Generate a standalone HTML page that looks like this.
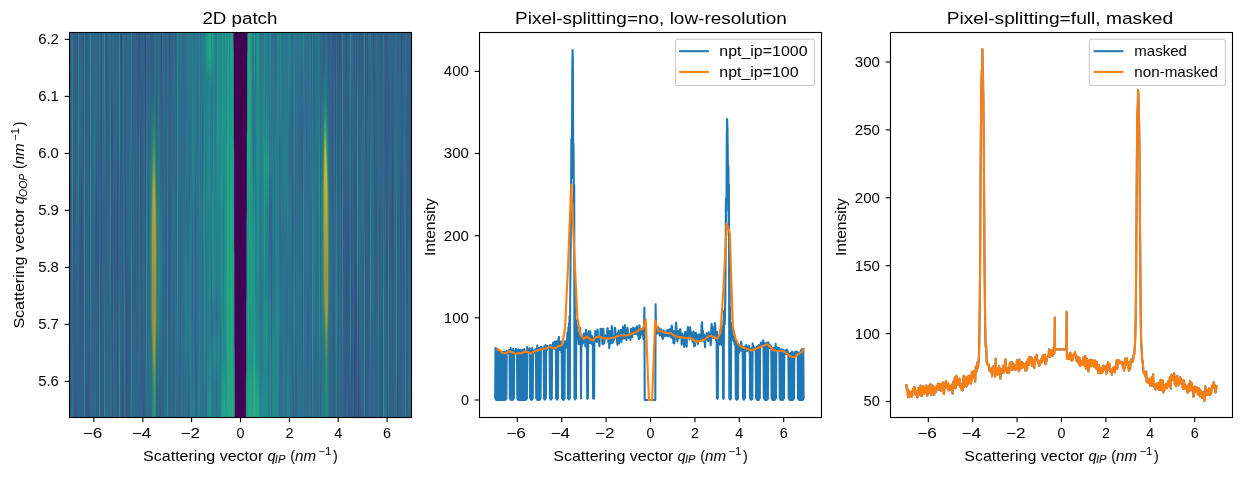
<!DOCTYPE html>
<html lang="en"><head><meta charset="utf-8"><title>GIWAXS patch integration</title>
<style>html,body{margin:0;padding:0;background:#fff}svg{display:block;will-change:transform}</style></head>
<body>
<svg width="1241" height="478" viewBox="0 0 1241 478" font-family='"Liberation Sans", sans-serif' fill="#000">
<rect width="1241" height="478" fill="#fff"/>
<defs>
<linearGradient id="h0" x1="0" y1="0" x2="0" y2="1"><stop offset="0.006" stop-color="#2e6b8c"/><stop offset="0.276" stop-color="#325f89"/><stop offset="0.994" stop-color="#30678c"/></linearGradient>
<linearGradient id="h1" x1="0" y1="0" x2="0" y2="1"><stop offset="0.006" stop-color="#2f698c"/><stop offset="0.622" stop-color="#315e87"/><stop offset="0.994" stop-color="#30678c"/></linearGradient>
<linearGradient id="h2" x1="0" y1="0" x2="0" y2="1"><stop offset="0.006" stop-color="#2d6e8b"/><stop offset="0.276" stop-color="#278b89"/><stop offset="0.468" stop-color="#278b89"/><stop offset="0.660" stop-color="#2d6f89"/><stop offset="0.776" stop-color="#2f688a"/><stop offset="0.994" stop-color="#2b7a89"/></linearGradient>
<linearGradient id="h3" x1="0" y1="0" x2="0" y2="1"><stop offset="0.006" stop-color="#306287"/><stop offset="0.237" stop-color="#32638d"/><stop offset="0.660" stop-color="#335d88"/><stop offset="0.994" stop-color="#2e6b8c"/></linearGradient>
<linearGradient id="h4" x1="0" y1="0" x2="0" y2="1"><stop offset="0.006" stop-color="#325d86"/><stop offset="0.314" stop-color="#31658c"/><stop offset="0.660" stop-color="#325984"/><stop offset="0.994" stop-color="#325d86"/></linearGradient>
<linearGradient id="h5" x1="0" y1="0" x2="0" y2="1"><stop offset="0.006" stop-color="#326089"/><stop offset="0.276" stop-color="#394f8a"/><stop offset="0.763" stop-color="#306387"/><stop offset="0.994" stop-color="#394f89"/></linearGradient>
<linearGradient id="h6" x1="0" y1="0" x2="0" y2="1"><stop offset="0.006" stop-color="#335c87"/><stop offset="0.340" stop-color="#2f6a8d"/><stop offset="0.994" stop-color="#326189"/></linearGradient>
<linearGradient id="h7" x1="0" y1="0" x2="0" y2="1"><stop offset="0.006" stop-color="#355283"/><stop offset="0.301" stop-color="#2e6e8d"/><stop offset="0.571" stop-color="#30678c"/><stop offset="0.673" stop-color="#2e6c8b"/><stop offset="0.994" stop-color="#315f87"/></linearGradient>
<linearGradient id="h8" x1="0" y1="0" x2="0" y2="1"><stop offset="0.006" stop-color="#298287"/><stop offset="0.263" stop-color="#2a7e8a"/><stop offset="0.506" stop-color="#2f6a87"/><stop offset="0.994" stop-color="#306488"/></linearGradient>
<linearGradient id="h9" x1="0" y1="0" x2="0" y2="1"><stop offset="0.006" stop-color="#335f8b"/><stop offset="0.263" stop-color="#2f698b"/><stop offset="0.494" stop-color="#335884"/><stop offset="0.994" stop-color="#325e87"/></linearGradient>
<linearGradient id="h10" x1="0" y1="0" x2="0" y2="1"><stop offset="0.006" stop-color="#31658b"/><stop offset="0.340" stop-color="#2c6e87"/><stop offset="0.506" stop-color="#325983"/><stop offset="0.647" stop-color="#345886"/><stop offset="0.840" stop-color="#335c88"/><stop offset="0.994" stop-color="#2e6989"/></linearGradient>
<linearGradient id="h11" x1="0" y1="0" x2="0" y2="1"><stop offset="0.006" stop-color="#316389"/><stop offset="0.250" stop-color="#306186"/><stop offset="0.506" stop-color="#38457c"/><stop offset="0.724" stop-color="#355888"/><stop offset="0.994" stop-color="#31648a"/></linearGradient>
<linearGradient id="h12" x1="0" y1="0" x2="0" y2="1"><stop offset="0.006" stop-color="#325c86"/><stop offset="0.340" stop-color="#335f8a"/><stop offset="0.712" stop-color="#355787"/><stop offset="0.994" stop-color="#30658a"/></linearGradient>
<linearGradient id="h13" x1="0" y1="0" x2="0" y2="1"><stop offset="0.006" stop-color="#355183"/><stop offset="0.481" stop-color="#31658b"/><stop offset="0.994" stop-color="#355b8a"/></linearGradient>
<linearGradient id="h14" x1="0" y1="0" x2="0" y2="1"><stop offset="0.006" stop-color="#297f87"/><stop offset="0.442" stop-color="#268e88"/><stop offset="0.994" stop-color="#268a87"/></linearGradient>
<linearGradient id="h15" x1="0" y1="0" x2="0" y2="1"><stop offset="0.006" stop-color="#335e89"/><stop offset="0.519" stop-color="#345382"/><stop offset="0.686" stop-color="#325e88"/><stop offset="0.994" stop-color="#316289"/></linearGradient>
<linearGradient id="h16" x1="0" y1="0" x2="0" y2="1"><stop offset="0.006" stop-color="#335b87"/><stop offset="0.660" stop-color="#31658b"/><stop offset="0.994" stop-color="#345c89"/></linearGradient>
<linearGradient id="h17" x1="0" y1="0" x2="0" y2="1"><stop offset="0.006" stop-color="#315e86"/><stop offset="0.635" stop-color="#31628a"/><stop offset="0.994" stop-color="#355585"/></linearGradient>
<linearGradient id="h18" x1="0" y1="0" x2="0" y2="1"><stop offset="0.006" stop-color="#2e6586"/><stop offset="0.147" stop-color="#316088"/><stop offset="0.660" stop-color="#30668a"/><stop offset="0.994" stop-color="#365385"/></linearGradient>
<linearGradient id="h19" x1="0" y1="0" x2="0" y2="1"><stop offset="0.006" stop-color="#30678b"/><stop offset="0.481" stop-color="#355788"/><stop offset="0.686" stop-color="#345c89"/><stop offset="0.994" stop-color="#365386"/></linearGradient>
<linearGradient id="h20" x1="0" y1="0" x2="0" y2="1"><stop offset="0.006" stop-color="#28838a"/><stop offset="0.199" stop-color="#249587"/><stop offset="0.506" stop-color="#249488"/><stop offset="0.827" stop-color="#2d6f8a"/><stop offset="0.994" stop-color="#2f6888"/></linearGradient>
<linearGradient id="h21" x1="0" y1="0" x2="0" y2="1"><stop offset="0.006" stop-color="#30698d"/><stop offset="0.288" stop-color="#32628b"/><stop offset="0.712" stop-color="#30698e"/><stop offset="0.994" stop-color="#2f6386"/></linearGradient>
<linearGradient id="h23" x1="0" y1="0" x2="0" y2="1"><stop offset="0.006" stop-color="#325f88"/><stop offset="0.301" stop-color="#2c6f8b"/><stop offset="0.660" stop-color="#326089"/><stop offset="0.994" stop-color="#31658b"/></linearGradient>
<linearGradient id="h24" x1="0" y1="0" x2="0" y2="1"><stop offset="0.006" stop-color="#306489"/><stop offset="0.301" stop-color="#2d708d"/><stop offset="0.660" stop-color="#326189"/><stop offset="0.865" stop-color="#32618b"/><stop offset="0.994" stop-color="#2f6a8c"/></linearGradient>
<linearGradient id="h25" x1="0" y1="0" x2="0" y2="1"><stop offset="0.006" stop-color="#2e6c8b"/><stop offset="0.327" stop-color="#2c6f8a"/><stop offset="0.494" stop-color="#325d87"/><stop offset="0.994" stop-color="#2f6a8b"/></linearGradient>
<linearGradient id="h26" x1="0" y1="0" x2="0" y2="1"><stop offset="0.006" stop-color="#2e6b8b"/><stop offset="0.263" stop-color="#30658a"/><stop offset="0.494" stop-color="#345482"/><stop offset="0.699" stop-color="#325f88"/><stop offset="0.994" stop-color="#316188"/></linearGradient>
<linearGradient id="h27" x1="0" y1="0" x2="0" y2="1"><stop offset="0.006" stop-color="#30698d"/><stop offset="0.647" stop-color="#335b87"/><stop offset="0.994" stop-color="#325f89"/></linearGradient>
<linearGradient id="h28" x1="0" y1="0" x2="0" y2="1"><stop offset="0.006" stop-color="#315d84"/><stop offset="0.276" stop-color="#306488"/><stop offset="0.481" stop-color="#345986"/><stop offset="0.994" stop-color="#345b88"/></linearGradient>
<linearGradient id="h29" x1="0" y1="0" x2="0" y2="1"><stop offset="0.006" stop-color="#2b7987"/><stop offset="0.340" stop-color="#316188"/><stop offset="0.519" stop-color="#2f6a88"/><stop offset="0.827" stop-color="#268d87"/><stop offset="0.994" stop-color="#268d87"/></linearGradient>
<linearGradient id="h30" x1="0" y1="0" x2="0" y2="1"><stop offset="0.006" stop-color="#306389"/><stop offset="0.391" stop-color="#31648b"/><stop offset="0.673" stop-color="#325c87"/><stop offset="0.994" stop-color="#31658c"/></linearGradient>
<linearGradient id="h32" x1="0" y1="0" x2="0" y2="1"><stop offset="0.006" stop-color="#2e6d8d"/><stop offset="0.263" stop-color="#2e6e8e"/><stop offset="0.558" stop-color="#33608b"/><stop offset="0.994" stop-color="#345a87"/></linearGradient>
<linearGradient id="h33" x1="0" y1="0" x2="0" y2="1"><stop offset="0.006" stop-color="#2f688a"/><stop offset="0.776" stop-color="#316187"/><stop offset="0.917" stop-color="#325b85"/><stop offset="0.994" stop-color="#354f7f"/></linearGradient>
<linearGradient id="h34" x1="0" y1="0" x2="0" y2="1"><stop offset="0.006" stop-color="#249286"/><stop offset="0.135" stop-color="#259087"/><stop offset="0.429" stop-color="#316387"/><stop offset="0.532" stop-color="#325e86"/><stop offset="0.904" stop-color="#249287"/><stop offset="0.994" stop-color="#249387"/></linearGradient>
<linearGradient id="h35" x1="0" y1="0" x2="0" y2="1"><stop offset="0.006" stop-color="#335985"/><stop offset="0.288" stop-color="#31658b"/><stop offset="0.994" stop-color="#306187"/></linearGradient>
<linearGradient id="h36" x1="0" y1="0" x2="0" y2="1"><stop offset="0.006" stop-color="#345985"/><stop offset="0.994" stop-color="#2f6487"/></linearGradient>
<linearGradient id="h37" x1="0" y1="0" x2="0" y2="1"><stop offset="0.006" stop-color="#316189"/><stop offset="0.494" stop-color="#325f89"/><stop offset="0.994" stop-color="#2e6a89"/></linearGradient>
<linearGradient id="h38" x1="0" y1="0" x2="0" y2="1"><stop offset="0.006" stop-color="#2f6789"/><stop offset="0.224" stop-color="#326089"/><stop offset="0.994" stop-color="#31668c"/></linearGradient>
<linearGradient id="h39" x1="0" y1="0" x2="0" y2="1"><stop offset="0.006" stop-color="#2f6b8d"/><stop offset="0.404" stop-color="#30668c"/><stop offset="0.660" stop-color="#2b748e"/><stop offset="0.814" stop-color="#32628c"/><stop offset="0.994" stop-color="#335e8a"/></linearGradient>
<linearGradient id="h40" x1="0" y1="0" x2="0" y2="1"><stop offset="0.006" stop-color="#2d718b"/><stop offset="0.237" stop-color="#288589"/><stop offset="0.340" stop-color="#288689"/><stop offset="0.481" stop-color="#278689"/><stop offset="0.776" stop-color="#30688b"/><stop offset="0.994" stop-color="#2d748c"/></linearGradient>
<linearGradient id="h41" x1="0" y1="0" x2="0" y2="1"><stop offset="0.006" stop-color="#335d87"/><stop offset="0.327" stop-color="#354e7e"/><stop offset="0.609" stop-color="#33537f"/><stop offset="0.827" stop-color="#306689"/><stop offset="0.994" stop-color="#2e6a8b"/></linearGradient>
<linearGradient id="h42" x1="0" y1="0" x2="0" y2="1"><stop offset="0.006" stop-color="#31678d"/><stop offset="0.314" stop-color="#345786"/><stop offset="0.994" stop-color="#355788"/></linearGradient>
<linearGradient id="h43" x1="0" y1="0" x2="0" y2="1"><stop offset="0.006" stop-color="#2e6e8e"/><stop offset="0.263" stop-color="#32618b"/><stop offset="0.506" stop-color="#316087"/><stop offset="0.737" stop-color="#2c718c"/><stop offset="0.994" stop-color="#30668b"/></linearGradient>
<linearGradient id="h44" x1="0" y1="0" x2="0" y2="1"><stop offset="0.006" stop-color="#335f8a"/><stop offset="0.365" stop-color="#316489"/><stop offset="0.532" stop-color="#325c86"/><stop offset="0.994" stop-color="#30678c"/></linearGradient>
<linearGradient id="h45" x1="0" y1="0" x2="0" y2="1"><stop offset="0.006" stop-color="#32638b"/><stop offset="0.212" stop-color="#2d6e8c"/><stop offset="0.647" stop-color="#335d88"/><stop offset="0.994" stop-color="#31648b"/></linearGradient>
<linearGradient id="h46" x1="0" y1="0" x2="0" y2="1"><stop offset="0.006" stop-color="#2e6b8c"/><stop offset="0.263" stop-color="#2d6c8a"/><stop offset="0.506" stop-color="#326089"/><stop offset="0.994" stop-color="#30658a"/></linearGradient>
<linearGradient id="h47" x1="0" y1="0" x2="0" y2="1"><stop offset="0.006" stop-color="#315e86"/><stop offset="0.481" stop-color="#364b7e"/><stop offset="0.994" stop-color="#325781"/></linearGradient>
<linearGradient id="h48" x1="0" y1="0" x2="0" y2="1"><stop offset="0.006" stop-color="#2f6a8d"/><stop offset="0.224" stop-color="#2e6a89"/><stop offset="0.455" stop-color="#325e88"/><stop offset="0.737" stop-color="#2f698c"/><stop offset="0.994" stop-color="#2f688a"/></linearGradient>
<linearGradient id="h49" x1="0" y1="0" x2="0" y2="1"><stop offset="0.006" stop-color="#288589"/><stop offset="0.096" stop-color="#258f88"/><stop offset="0.276" stop-color="#258f87"/><stop offset="0.506" stop-color="#2f6889"/><stop offset="0.609" stop-color="#316489"/><stop offset="0.865" stop-color="#268e88"/><stop offset="0.994" stop-color="#259087"/></linearGradient>
<linearGradient id="h50" x1="0" y1="0" x2="0" y2="1"><stop offset="0.006" stop-color="#355686"/><stop offset="0.994" stop-color="#32638c"/></linearGradient>
<linearGradient id="h51" x1="0" y1="0" x2="0" y2="1"><stop offset="0.006" stop-color="#37467a"/><stop offset="0.417" stop-color="#32608a"/><stop offset="0.724" stop-color="#31638a"/><stop offset="0.994" stop-color="#335c86"/></linearGradient>
<linearGradient id="h52" x1="0" y1="0" x2="0" y2="1"><stop offset="0.006" stop-color="#306389"/><stop offset="0.340" stop-color="#31658b"/><stop offset="0.494" stop-color="#325c86"/><stop offset="0.724" stop-color="#316187"/><stop offset="0.994" stop-color="#354f80"/></linearGradient>
<linearGradient id="h53" x1="0" y1="0" x2="0" y2="1"><stop offset="0.006" stop-color="#2d6f8c"/><stop offset="0.673" stop-color="#2f688a"/><stop offset="0.994" stop-color="#355281"/></linearGradient>
<linearGradient id="h54" x1="0" y1="0" x2="0" y2="1"><stop offset="0.006" stop-color="#2b7382"/><stop offset="0.173" stop-color="#2f6785"/><stop offset="0.365" stop-color="#306589"/><stop offset="0.558" stop-color="#2e6d88"/><stop offset="0.673" stop-color="#2a7b87"/><stop offset="0.994" stop-color="#297f85"/></linearGradient>
<linearGradient id="h55" x1="0" y1="0" x2="0" y2="1"><stop offset="0.006" stop-color="#315e85"/><stop offset="0.404" stop-color="#325b85"/><stop offset="0.506" stop-color="#345280"/><stop offset="0.994" stop-color="#2e6b8b"/></linearGradient>
<linearGradient id="h56" x1="0" y1="0" x2="0" y2="1"><stop offset="0.006" stop-color="#325c85"/><stop offset="0.340" stop-color="#2e6c8c"/><stop offset="0.660" stop-color="#345986"/><stop offset="0.994" stop-color="#345180"/></linearGradient>
<linearGradient id="h57" x1="0" y1="0" x2="0" y2="1"><stop offset="0.006" stop-color="#2f698c"/><stop offset="0.506" stop-color="#326189"/><stop offset="0.763" stop-color="#355586"/><stop offset="0.994" stop-color="#325a83"/></linearGradient>
<linearGradient id="h58" x1="0" y1="0" x2="0" y2="1"><stop offset="0.006" stop-color="#2d6f8d"/><stop offset="0.494" stop-color="#2f678b"/><stop offset="0.750" stop-color="#355787"/><stop offset="0.994" stop-color="#325a84"/></linearGradient>
<linearGradient id="h59" x1="0" y1="0" x2="0" y2="1"><stop offset="0.006" stop-color="#2f6789"/><stop offset="0.378" stop-color="#2e6b8c"/><stop offset="0.737" stop-color="#345a88"/><stop offset="0.994" stop-color="#325a84"/></linearGradient>
<linearGradient id="h60" x1="0" y1="0" x2="0" y2="1"><stop offset="0.006" stop-color="#30668b"/><stop offset="0.314" stop-color="#2d6e8c"/><stop offset="0.750" stop-color="#32638c"/><stop offset="0.994" stop-color="#2c6e8a"/></linearGradient>
<linearGradient id="h61" x1="0" y1="0" x2="0" y2="1"><stop offset="0.006" stop-color="#28848a"/><stop offset="0.340" stop-color="#2d6e8b"/><stop offset="0.660" stop-color="#298189"/><stop offset="0.994" stop-color="#297d89"/></linearGradient>
<linearGradient id="h62" x1="0" y1="0" x2="0" y2="1"><stop offset="0.006" stop-color="#32618b"/><stop offset="0.135" stop-color="#345b8b"/><stop offset="0.994" stop-color="#30668b"/></linearGradient>
<linearGradient id="h63" x1="0" y1="0" x2="0" y2="1"><stop offset="0.006" stop-color="#32618b"/><stop offset="0.147" stop-color="#33608b"/><stop offset="0.468" stop-color="#2c728d"/><stop offset="0.737" stop-color="#30688d"/><stop offset="0.994" stop-color="#2e6d8e"/></linearGradient>
<linearGradient id="h64" x1="0" y1="0" x2="0" y2="1"><stop offset="0.006" stop-color="#32648c"/><stop offset="0.673" stop-color="#325c87"/><stop offset="0.994" stop-color="#2e6a8b"/></linearGradient>
<linearGradient id="h65" x1="0" y1="0" x2="0" y2="1"><stop offset="0.006" stop-color="#326089"/><stop offset="0.737" stop-color="#335d89"/><stop offset="0.994" stop-color="#2e6c8d"/></linearGradient>
<linearGradient id="h66" x1="0" y1="0" x2="0" y2="1"><stop offset="0.006" stop-color="#326089"/><stop offset="0.506" stop-color="#2f698c"/><stop offset="0.763" stop-color="#355d8c"/><stop offset="0.994" stop-color="#2f688c"/></linearGradient>
<linearGradient id="h67" x1="0" y1="0" x2="0" y2="1"><stop offset="0.006" stop-color="#32618a"/><stop offset="0.519" stop-color="#325c86"/><stop offset="0.994" stop-color="#306388"/></linearGradient>
<linearGradient id="h68" x1="0" y1="0" x2="0" y2="1"><stop offset="0.006" stop-color="#345683"/><stop offset="0.263" stop-color="#345887"/><stop offset="0.712" stop-color="#2e6a8b"/><stop offset="0.994" stop-color="#2f6789"/></linearGradient>
<linearGradient id="h69" x1="0" y1="0" x2="0" y2="1"><stop offset="0.006" stop-color="#374f83"/><stop offset="0.378" stop-color="#2b7b87"/><stop offset="0.558" stop-color="#2f7088"/><stop offset="0.853" stop-color="#2f6c88"/><stop offset="0.994" stop-color="#306082"/></linearGradient>
<linearGradient id="h70" x1="0" y1="0" x2="0" y2="1"><stop offset="0.006" stop-color="#325d86"/><stop offset="0.468" stop-color="#335985"/><stop offset="0.673" stop-color="#2d6987"/><stop offset="0.801" stop-color="#335e89"/><stop offset="0.994" stop-color="#345e8b"/></linearGradient>
<linearGradient id="h71" x1="0" y1="0" x2="0" y2="1"><stop offset="0.006" stop-color="#316087"/><stop offset="0.699" stop-color="#345684"/><stop offset="0.994" stop-color="#31658b"/></linearGradient>
<linearGradient id="h72" x1="0" y1="0" x2="0" y2="1"><stop offset="0.006" stop-color="#316088"/><stop offset="0.263" stop-color="#345d8a"/><stop offset="0.532" stop-color="#30658a"/><stop offset="0.994" stop-color="#335b87"/></linearGradient>
<linearGradient id="h73" x1="0" y1="0" x2="0" y2="1"><stop offset="0.006" stop-color="#316389"/><stop offset="0.250" stop-color="#32608a"/><stop offset="0.712" stop-color="#2e6b8b"/><stop offset="0.994" stop-color="#355685"/></linearGradient>
<linearGradient id="h74" x1="0" y1="0" x2="0" y2="1"><stop offset="0.006" stop-color="#315e84"/><stop offset="0.314" stop-color="#2e6989"/><stop offset="0.994" stop-color="#325f87"/></linearGradient>
<linearGradient id="h75" x1="0" y1="0" x2="0" y2="1"><stop offset="0.006" stop-color="#394580"/><stop offset="0.263" stop-color="#355889"/><stop offset="0.494" stop-color="#36578a"/><stop offset="0.994" stop-color="#31658b"/></linearGradient>
<linearGradient id="h76" x1="0" y1="0" x2="0" y2="1"><stop offset="0.006" stop-color="#2d7287"/><stop offset="0.186" stop-color="#30678a"/><stop offset="0.519" stop-color="#278b89"/><stop offset="0.737" stop-color="#268c89"/><stop offset="0.994" stop-color="#2e6f8d"/></linearGradient>
<linearGradient id="h77" x1="0" y1="0" x2="0" y2="1"><stop offset="0.006" stop-color="#355988"/><stop offset="0.481" stop-color="#2c738d"/><stop offset="0.660" stop-color="#2e6c8b"/><stop offset="0.994" stop-color="#2e6f8e"/></linearGradient>
<linearGradient id="h78" x1="0" y1="0" x2="0" y2="1"><stop offset="0.006" stop-color="#33608c"/><stop offset="0.378" stop-color="#2d6c8b"/><stop offset="0.494" stop-color="#2f5f81"/><stop offset="0.712" stop-color="#2b7089"/><stop offset="0.994" stop-color="#2f6a8c"/></linearGradient>
<linearGradient id="h79" x1="0" y1="0" x2="0" y2="1"><stop offset="0.006" stop-color="#2e6b89"/><stop offset="0.237" stop-color="#2f6789"/><stop offset="0.545" stop-color="#297385"/><stop offset="0.994" stop-color="#2f688a"/></linearGradient>
<linearGradient id="h80" x1="0" y1="0" x2="0" y2="1"><stop offset="0.006" stop-color="#345684"/><stop offset="0.506" stop-color="#258484"/><stop offset="0.994" stop-color="#2c6b87"/></linearGradient>
<linearGradient id="h81" x1="0" y1="0" x2="0" y2="1"><stop offset="0.006" stop-color="#335985"/><stop offset="0.147" stop-color="#306287"/><stop offset="0.378" stop-color="#258383"/><stop offset="0.506" stop-color="#3a9771"/><stop offset="0.737" stop-color="#3e8c6d"/><stop offset="0.827" stop-color="#28797d"/><stop offset="0.994" stop-color="#2c6983"/></linearGradient>
<linearGradient id="h82" x1="0" y1="0" x2="0" y2="1"><stop offset="0.006" stop-color="#325d87"/><stop offset="0.135" stop-color="#305f85"/><stop offset="0.276" stop-color="#2c7c7b"/><stop offset="0.340" stop-color="#3d896f"/><stop offset="0.404" stop-color="#6a9953"/><stop offset="0.442" stop-color="#819d4a"/><stop offset="0.532" stop-color="#9c9d3c"/><stop offset="0.737" stop-color="#91903f"/><stop offset="0.763" stop-color="#849045"/><stop offset="0.814" stop-color="#528a60"/><stop offset="0.840" stop-color="#41876a"/><stop offset="0.904" stop-color="#2f8178"/><stop offset="0.994" stop-color="#2a827e"/></linearGradient>
<linearGradient id="h83" x1="0" y1="0" x2="0" y2="1"><stop offset="0.006" stop-color="#335c87"/><stop offset="0.122" stop-color="#315d85"/><stop offset="0.212" stop-color="#29737d"/><stop offset="0.263" stop-color="#348172"/><stop offset="0.327" stop-color="#58905d"/><stop offset="0.391" stop-color="#ab9d33"/><stop offset="0.429" stop-color="#c09c34"/><stop offset="0.712" stop-color="#af8539"/><stop offset="0.788" stop-color="#b18f36"/><stop offset="0.801" stop-color="#ad9236"/><stop offset="0.827" stop-color="#96963a"/><stop offset="0.904" stop-color="#459269"/><stop offset="0.994" stop-color="#2b8e7a"/></linearGradient>
<linearGradient id="h84" x1="0" y1="0" x2="0" y2="1"><stop offset="0.006" stop-color="#2e6c8c"/><stop offset="0.135" stop-color="#2c6b87"/><stop offset="0.199" stop-color="#267b81"/><stop offset="0.250" stop-color="#2e8777"/><stop offset="0.327" stop-color="#58985e"/><stop offset="0.391" stop-color="#b2a432"/><stop offset="0.429" stop-color="#c2a133"/><stop offset="0.494" stop-color="#bc9635"/><stop offset="0.712" stop-color="#b08738"/><stop offset="0.814" stop-color="#b79734"/><stop offset="0.853" stop-color="#949b38"/><stop offset="0.904" stop-color="#56985f"/><stop offset="0.994" stop-color="#339475"/></linearGradient>
<linearGradient id="h85" x1="0" y1="0" x2="0" y2="1"><stop offset="0.006" stop-color="#2d6e8c"/><stop offset="0.135" stop-color="#2c6b88"/><stop offset="0.250" stop-color="#277a7f"/><stop offset="0.314" stop-color="#2d8279"/><stop offset="0.353" stop-color="#3b8a6f"/><stop offset="0.455" stop-color="#8b9742"/><stop offset="0.506" stop-color="#a19639"/><stop offset="0.558" stop-color="#a79837"/><stop offset="0.750" stop-color="#a08e3a"/><stop offset="0.776" stop-color="#938f3f"/><stop offset="0.827" stop-color="#638e55"/><stop offset="0.891" stop-color="#398870"/><stop offset="0.994" stop-color="#28837d"/></linearGradient>
<linearGradient id="h86" x1="0" y1="0" x2="0" y2="1"><stop offset="0.006" stop-color="#2e6888"/><stop offset="0.173" stop-color="#2e6383"/><stop offset="0.365" stop-color="#2a727b"/><stop offset="0.417" stop-color="#327b73"/><stop offset="0.506" stop-color="#508460"/><stop offset="0.596" stop-color="#52865f"/><stop offset="0.737" stop-color="#507f60"/><stop offset="0.840" stop-color="#2e6e75"/><stop offset="0.994" stop-color="#2c627c"/></linearGradient>
<linearGradient id="h87" x1="0" y1="0" x2="0" y2="1"><stop offset="0.006" stop-color="#2d6a88"/><stop offset="0.199" stop-color="#2d6885"/><stop offset="0.506" stop-color="#2b7b7a"/><stop offset="0.699" stop-color="#28817d"/><stop offset="0.994" stop-color="#2f6285"/></linearGradient>
<linearGradient id="h88" x1="0" y1="0" x2="0" y2="1"><stop offset="0.006" stop-color="#2e6b8a"/><stop offset="0.737" stop-color="#238689"/><stop offset="0.994" stop-color="#2e698a"/></linearGradient>
<linearGradient id="h89" x1="0" y1="0" x2="0" y2="1"><stop offset="0.006" stop-color="#2f698a"/><stop offset="0.660" stop-color="#277f8d"/><stop offset="0.994" stop-color="#315d85"/></linearGradient>
<linearGradient id="h90" x1="0" y1="0" x2="0" y2="1"><stop offset="0.006" stop-color="#315f87"/><stop offset="0.263" stop-color="#30658a"/><stop offset="0.506" stop-color="#2b758d"/><stop offset="0.737" stop-color="#2a768c"/><stop offset="0.994" stop-color="#325983"/></linearGradient>
<linearGradient id="h91" x1="0" y1="0" x2="0" y2="1"><stop offset="0.006" stop-color="#33507c"/><stop offset="0.224" stop-color="#345684"/><stop offset="0.519" stop-color="#2a748a"/><stop offset="0.994" stop-color="#30688c"/></linearGradient>
<linearGradient id="h92" x1="0" y1="0" x2="0" y2="1"><stop offset="0.006" stop-color="#2d6d8a"/><stop offset="0.237" stop-color="#325e88"/><stop offset="0.583" stop-color="#2e6b8a"/><stop offset="0.994" stop-color="#306286"/></linearGradient>
<linearGradient id="h93" x1="0" y1="0" x2="0" y2="1"><stop offset="0.006" stop-color="#306488"/><stop offset="0.596" stop-color="#2d6c8a"/><stop offset="0.994" stop-color="#2e6687"/></linearGradient>
<linearGradient id="h94" x1="0" y1="0" x2="0" y2="1"><stop offset="0.006" stop-color="#2c6e89"/><stop offset="0.327" stop-color="#2c6f8a"/><stop offset="0.750" stop-color="#31638a"/><stop offset="0.994" stop-color="#2e6a8b"/></linearGradient>
<linearGradient id="h95" x1="0" y1="0" x2="0" y2="1"><stop offset="0.006" stop-color="#306388"/><stop offset="0.763" stop-color="#335d89"/><stop offset="0.994" stop-color="#2d6e8c"/></linearGradient>
<linearGradient id="h96" x1="0" y1="0" x2="0" y2="1"><stop offset="0.006" stop-color="#2f6689"/><stop offset="0.673" stop-color="#306086"/><stop offset="0.994" stop-color="#2c748e"/></linearGradient>
<linearGradient id="h97" x1="0" y1="0" x2="0" y2="1"><stop offset="0.006" stop-color="#2f6889"/><stop offset="0.455" stop-color="#298088"/><stop offset="0.994" stop-color="#24908a"/></linearGradient>
<linearGradient id="h98" x1="0" y1="0" x2="0" y2="1"><stop offset="0.006" stop-color="#2f678a"/><stop offset="0.673" stop-color="#335d89"/><stop offset="0.994" stop-color="#2f6a8d"/></linearGradient>
<linearGradient id="h99" x1="0" y1="0" x2="0" y2="1"><stop offset="0.006" stop-color="#385087"/><stop offset="0.365" stop-color="#33608b"/><stop offset="0.673" stop-color="#37558a"/><stop offset="0.994" stop-color="#345e8c"/></linearGradient>
<linearGradient id="h100" x1="0" y1="0" x2="0" y2="1"><stop offset="0.006" stop-color="#31638b"/><stop offset="0.519" stop-color="#345e8b"/><stop offset="0.994" stop-color="#2d708c"/></linearGradient>
<linearGradient id="h101" x1="0" y1="0" x2="0" y2="1"><stop offset="0.006" stop-color="#335e89"/><stop offset="0.314" stop-color="#30688d"/><stop offset="0.994" stop-color="#2e6a8b"/></linearGradient>
<linearGradient id="h102" x1="0" y1="0" x2="0" y2="1"><stop offset="0.006" stop-color="#31648c"/><stop offset="0.263" stop-color="#32638d"/><stop offset="0.494" stop-color="#2e6d8c"/><stop offset="0.994" stop-color="#2f688b"/></linearGradient>
<linearGradient id="h103" x1="0" y1="0" x2="0" y2="1"><stop offset="0.006" stop-color="#2d6c8a"/><stop offset="0.250" stop-color="#31668c"/><stop offset="0.494" stop-color="#2b738c"/><stop offset="0.763" stop-color="#32618a"/><stop offset="0.994" stop-color="#32618a"/></linearGradient>
<linearGradient id="h104" x1="0" y1="0" x2="0" y2="1"><stop offset="0.006" stop-color="#2c6d88"/><stop offset="0.301" stop-color="#2f678b"/><stop offset="0.635" stop-color="#2c718c"/><stop offset="0.994" stop-color="#31668c"/></linearGradient>
<linearGradient id="h105" x1="0" y1="0" x2="0" y2="1"><stop offset="0.006" stop-color="#306084"/><stop offset="0.250" stop-color="#2d6e8a"/><stop offset="0.994" stop-color="#2c738d"/></linearGradient>
<linearGradient id="h106" x1="0" y1="0" x2="0" y2="1"><stop offset="0.006" stop-color="#2d6d8a"/><stop offset="0.340" stop-color="#326089"/><stop offset="0.712" stop-color="#2d6e8b"/><stop offset="0.994" stop-color="#30698c"/></linearGradient>
<linearGradient id="h107" x1="0" y1="0" x2="0" y2="1"><stop offset="0.006" stop-color="#25858a"/><stop offset="0.237" stop-color="#248d8a"/><stop offset="0.571" stop-color="#258a89"/><stop offset="0.994" stop-color="#306b8d"/></linearGradient>
<linearGradient id="h108" x1="0" y1="0" x2="0" y2="1"><stop offset="0.006" stop-color="#2b728a"/><stop offset="0.994" stop-color="#32648d"/></linearGradient>
<linearGradient id="h109" x1="0" y1="0" x2="0" y2="1"><stop offset="0.006" stop-color="#2e6c8b"/><stop offset="0.263" stop-color="#31668c"/><stop offset="0.506" stop-color="#2d708d"/><stop offset="0.994" stop-color="#30688d"/></linearGradient>
<linearGradient id="h110" x1="0" y1="0" x2="0" y2="1"><stop offset="0.006" stop-color="#297a8d"/><stop offset="0.737" stop-color="#33628c"/><stop offset="0.994" stop-color="#2f6a8c"/></linearGradient>
<linearGradient id="h111" x1="0" y1="0" x2="0" y2="1"><stop offset="0.006" stop-color="#2b768d"/><stop offset="0.314" stop-color="#30688d"/><stop offset="0.994" stop-color="#2c728e"/></linearGradient>
<linearGradient id="h112" x1="0" y1="0" x2="0" y2="1"><stop offset="0.006" stop-color="#2f6a8d"/><stop offset="0.353" stop-color="#30678d"/><stop offset="0.699" stop-color="#2d708e"/><stop offset="0.994" stop-color="#2f6b8e"/></linearGradient>
<linearGradient id="h113" x1="0" y1="0" x2="0" y2="1"><stop offset="0.006" stop-color="#2d708c"/><stop offset="0.250" stop-color="#306b8c"/><stop offset="0.647" stop-color="#2d738b"/><stop offset="0.994" stop-color="#31668c"/></linearGradient>
<linearGradient id="h114" x1="0" y1="0" x2="0" y2="1"><stop offset="0.006" stop-color="#2e6d8c"/><stop offset="0.237" stop-color="#31668e"/><stop offset="0.596" stop-color="#2a778e"/><stop offset="0.994" stop-color="#2d718e"/></linearGradient>
<linearGradient id="h115" x1="0" y1="0" x2="0" y2="1"><stop offset="0.006" stop-color="#2c718d"/><stop offset="0.237" stop-color="#2d708e"/><stop offset="0.673" stop-color="#277e8e"/><stop offset="0.994" stop-color="#31668e"/></linearGradient>
<linearGradient id="h116" x1="0" y1="0" x2="0" y2="1"><stop offset="0.006" stop-color="#2c728e"/><stop offset="0.481" stop-color="#2f6c8e"/><stop offset="0.737" stop-color="#287e8e"/><stop offset="0.994" stop-color="#30698e"/></linearGradient>
<linearGradient id="h117" x1="0" y1="0" x2="0" y2="1"><stop offset="0.006" stop-color="#29798e"/><stop offset="0.250" stop-color="#277f8e"/><stop offset="0.506" stop-color="#2d708e"/><stop offset="0.750" stop-color="#297a8e"/><stop offset="0.994" stop-color="#31668e"/></linearGradient>
<linearGradient id="h118" x1="0" y1="0" x2="0" y2="1"><stop offset="0.006" stop-color="#297a8e"/><stop offset="0.494" stop-color="#2f6c8e"/><stop offset="0.750" stop-color="#287c8e"/><stop offset="0.994" stop-color="#365c8c"/></linearGradient>
<linearGradient id="h119" x1="0" y1="0" x2="0" y2="1"><stop offset="0.006" stop-color="#2a788d"/><stop offset="0.391" stop-color="#2e6c8c"/><stop offset="0.750" stop-color="#277e8e"/><stop offset="0.994" stop-color="#31668d"/></linearGradient>
<linearGradient id="h120" x1="0" y1="0" x2="0" y2="1"><stop offset="0.006" stop-color="#297a8e"/><stop offset="0.327" stop-color="#2b738c"/><stop offset="0.647" stop-color="#27818d"/><stop offset="0.994" stop-color="#297c8d"/></linearGradient>
<linearGradient id="h121" x1="0" y1="0" x2="0" y2="1"><stop offset="0.006" stop-color="#2b748e"/><stop offset="0.250" stop-color="#2d6e8c"/><stop offset="0.545" stop-color="#2a778e"/><stop offset="0.750" stop-color="#2d718e"/><stop offset="0.994" stop-color="#287c8e"/></linearGradient>
<linearGradient id="h122" x1="0" y1="0" x2="0" y2="1"><stop offset="0.006" stop-color="#287c8e"/><stop offset="0.327" stop-color="#24868d"/><stop offset="0.506" stop-color="#2e6e8e"/><stop offset="0.686" stop-color="#33638d"/><stop offset="0.994" stop-color="#277f8e"/></linearGradient>
<linearGradient id="h123" x1="0" y1="0" x2="0" y2="1"><stop offset="0.006" stop-color="#2d718e"/><stop offset="0.301" stop-color="#26828e"/><stop offset="0.660" stop-color="#2e6e8e"/><stop offset="0.994" stop-color="#287b8d"/></linearGradient>
<linearGradient id="h124" x1="0" y1="0" x2="0" y2="1"><stop offset="0.006" stop-color="#2c728d"/><stop offset="0.340" stop-color="#29798d"/><stop offset="0.532" stop-color="#2e6d8d"/><stop offset="0.673" stop-color="#2c728e"/><stop offset="0.763" stop-color="#31678e"/><stop offset="0.994" stop-color="#287d8e"/></linearGradient>
<linearGradient id="h125" x1="0" y1="0" x2="0" y2="1"><stop offset="0.006" stop-color="#2c728e"/><stop offset="0.250" stop-color="#2b758e"/><stop offset="0.506" stop-color="#335e8a"/><stop offset="0.699" stop-color="#365a8c"/><stop offset="0.865" stop-color="#345e8c"/><stop offset="0.994" stop-color="#2f6a8d"/></linearGradient>
<linearGradient id="h126" x1="0" y1="0" x2="0" y2="1"><stop offset="0.006" stop-color="#297a8e"/><stop offset="0.224" stop-color="#2d718e"/><stop offset="0.340" stop-color="#297a8e"/><stop offset="0.532" stop-color="#2e6e8e"/><stop offset="0.994" stop-color="#31668d"/></linearGradient>
<linearGradient id="h127" x1="0" y1="0" x2="0" y2="1"><stop offset="0.006" stop-color="#2c718b"/><stop offset="0.250" stop-color="#30698d"/><stop offset="0.994" stop-color="#2d6f8e"/></linearGradient>
<linearGradient id="h128" x1="0" y1="0" x2="0" y2="1"><stop offset="0.006" stop-color="#2c728e"/><stop offset="0.263" stop-color="#287e8e"/><stop offset="0.763" stop-color="#2d6f8e"/><stop offset="0.994" stop-color="#297b8e"/></linearGradient>
<linearGradient id="h129" x1="0" y1="0" x2="0" y2="1"><stop offset="0.006" stop-color="#28808b"/><stop offset="0.250" stop-color="#26838d"/><stop offset="0.558" stop-color="#2a7a8d"/><stop offset="0.994" stop-color="#26848b"/></linearGradient>
<linearGradient id="h130" x1="0" y1="0" x2="0" y2="1"><stop offset="0.006" stop-color="#2d6e8c"/><stop offset="0.994" stop-color="#2a768b"/></linearGradient>
<linearGradient id="h131" x1="0" y1="0" x2="0" y2="1"><stop offset="0.006" stop-color="#2a788e"/><stop offset="0.340" stop-color="#287d8e"/><stop offset="0.994" stop-color="#2c708c"/></linearGradient>
<linearGradient id="h132" x1="0" y1="0" x2="0" y2="1"><stop offset="0.006" stop-color="#287d8e"/><stop offset="0.250" stop-color="#2f698d"/><stop offset="0.494" stop-color="#2b738d"/><stop offset="0.994" stop-color="#2e6d8d"/></linearGradient>
<linearGradient id="h133" x1="0" y1="0" x2="0" y2="1"><stop offset="0.006" stop-color="#26808d"/><stop offset="0.250" stop-color="#2a788e"/><stop offset="0.494" stop-color="#24868e"/><stop offset="0.737" stop-color="#2c738e"/><stop offset="0.994" stop-color="#2b748e"/></linearGradient>
<linearGradient id="h134" x1="0" y1="0" x2="0" y2="1"><stop offset="0.006" stop-color="#287b8c"/><stop offset="0.583" stop-color="#228f8c"/><stop offset="0.994" stop-color="#287c8d"/></linearGradient>
<linearGradient id="h135" x1="0" y1="0" x2="0" y2="1"><stop offset="0.006" stop-color="#238a8d"/><stop offset="0.135" stop-color="#287d8e"/><stop offset="0.609" stop-color="#297b8e"/><stop offset="0.994" stop-color="#2e6c8d"/></linearGradient>
<linearGradient id="h136" x1="0" y1="0" x2="0" y2="1"><stop offset="0.006" stop-color="#1f978b"/><stop offset="0.058" stop-color="#20958b"/><stop offset="0.135" stop-color="#277f8e"/><stop offset="0.365" stop-color="#25858d"/><stop offset="0.994" stop-color="#2e6e8e"/></linearGradient>
<linearGradient id="h137" x1="0" y1="0" x2="0" y2="1"><stop offset="0.006" stop-color="#1f9f88"/><stop offset="0.058" stop-color="#1f9d89"/><stop offset="0.135" stop-color="#26818e"/><stop offset="0.391" stop-color="#24878d"/><stop offset="0.724" stop-color="#29798e"/><stop offset="0.878" stop-color="#287d8e"/><stop offset="0.994" stop-color="#24898c"/></linearGradient>
<linearGradient id="h138" x1="0" y1="0" x2="0" y2="1"><stop offset="0.006" stop-color="#21a285"/><stop offset="0.058" stop-color="#209f86"/><stop offset="0.135" stop-color="#25828d"/><stop offset="0.391" stop-color="#238b8c"/><stop offset="0.673" stop-color="#277e8e"/><stop offset="0.878" stop-color="#26808d"/><stop offset="0.994" stop-color="#219188"/></linearGradient>
<linearGradient id="h139" x1="0" y1="0" x2="0" y2="1"><stop offset="0.006" stop-color="#24a682"/><stop offset="0.058" stop-color="#23a483"/><stop offset="0.122" stop-color="#23898c"/><stop offset="0.173" stop-color="#24858d"/><stop offset="0.353" stop-color="#238f8a"/><stop offset="0.494" stop-color="#25848d"/><stop offset="0.763" stop-color="#277f8e"/><stop offset="0.904" stop-color="#24878d"/><stop offset="0.994" stop-color="#1f998a"/></linearGradient>
<linearGradient id="h140" x1="0" y1="0" x2="0" y2="1"><stop offset="0.006" stop-color="#24aa83"/><stop offset="0.071" stop-color="#21a585"/><stop offset="0.135" stop-color="#24868e"/><stop offset="0.288" stop-color="#2a788e"/><stop offset="0.596" stop-color="#277e8e"/><stop offset="0.660" stop-color="#24888d"/><stop offset="0.763" stop-color="#297a8e"/><stop offset="0.994" stop-color="#1f9b8a"/></linearGradient>
<linearGradient id="h141" x1="0" y1="0" x2="0" y2="1"><stop offset="0.006" stop-color="#2c8a85"/><stop offset="0.058" stop-color="#288e86"/><stop offset="0.135" stop-color="#287b8d"/><stop offset="0.417" stop-color="#287e8d"/><stop offset="0.737" stop-color="#2f6a8c"/><stop offset="0.994" stop-color="#24878d"/></linearGradient>
<linearGradient id="h142" x1="0" y1="0" x2="0" y2="1"><stop offset="0.006" stop-color="#1fa187"/><stop offset="0.058" stop-color="#1f9a8a"/><stop offset="0.135" stop-color="#2a788e"/><stop offset="0.212" stop-color="#2c728e"/><stop offset="0.301" stop-color="#2b758e"/><stop offset="0.481" stop-color="#20948b"/><stop offset="0.660" stop-color="#228b8c"/><stop offset="0.750" stop-color="#2c738e"/><stop offset="0.827" stop-color="#277f8d"/><stop offset="0.917" stop-color="#2b748d"/><stop offset="0.994" stop-color="#2a778d"/></linearGradient>
<linearGradient id="h143" x1="0" y1="0" x2="0" y2="1"><stop offset="0.006" stop-color="#20948b"/><stop offset="0.135" stop-color="#26858c"/><stop offset="0.506" stop-color="#20958a"/><stop offset="0.660" stop-color="#24898d"/><stop offset="0.750" stop-color="#2b758d"/><stop offset="0.814" stop-color="#26828d"/><stop offset="0.917" stop-color="#2a768d"/><stop offset="0.994" stop-color="#287c8c"/></linearGradient>
<linearGradient id="h144" x1="0" y1="0" x2="0" y2="1"><stop offset="0.006" stop-color="#24888d"/><stop offset="0.122" stop-color="#277f8e"/><stop offset="0.647" stop-color="#25858e"/><stop offset="0.737" stop-color="#297a8e"/><stop offset="0.840" stop-color="#24868d"/><stop offset="0.917" stop-color="#2b748e"/><stop offset="0.994" stop-color="#2a768d"/></linearGradient>
<linearGradient id="h145" x1="0" y1="0" x2="0" y2="1"><stop offset="0.006" stop-color="#267f8b"/><stop offset="0.122" stop-color="#29788d"/><stop offset="0.647" stop-color="#25848e"/><stop offset="0.737" stop-color="#287c8e"/><stop offset="0.840" stop-color="#228b8d"/><stop offset="0.917" stop-color="#287b8e"/><stop offset="0.994" stop-color="#287c8e"/></linearGradient>
<linearGradient id="h146" x1="0" y1="0" x2="0" y2="1"><stop offset="0.006" stop-color="#267e8a"/><stop offset="0.250" stop-color="#24888d"/><stop offset="0.622" stop-color="#287c8e"/><stop offset="0.737" stop-color="#2e6e8e"/><stop offset="0.840" stop-color="#277f8e"/><stop offset="0.917" stop-color="#2d718e"/><stop offset="0.994" stop-color="#2c738e"/></linearGradient>
<linearGradient id="h147" x1="0" y1="0" x2="0" y2="1"><stop offset="0.006" stop-color="#21918b"/><stop offset="0.250" stop-color="#1f9a8a"/><stop offset="0.519" stop-color="#24878e"/><stop offset="0.737" stop-color="#2f6d8e"/><stop offset="0.840" stop-color="#27808e"/><stop offset="0.917" stop-color="#2b768e"/><stop offset="0.994" stop-color="#287c8e"/></linearGradient>
<linearGradient id="h148" x1="0" y1="0" x2="0" y2="1"><stop offset="0.006" stop-color="#228c8c"/><stop offset="0.378" stop-color="#218f8d"/><stop offset="0.737" stop-color="#287b8e"/><stop offset="0.827" stop-color="#25858e"/><stop offset="0.929" stop-color="#2a788e"/><stop offset="0.994" stop-color="#297a8e"/></linearGradient>
<linearGradient id="h149" x1="0" y1="0" x2="0" y2="1"><stop offset="0.006" stop-color="#219186"/><stop offset="0.224" stop-color="#20958b"/><stop offset="0.519" stop-color="#277f8e"/><stop offset="0.994" stop-color="#287c8e"/></linearGradient>
<linearGradient id="h150" x1="0" y1="0" x2="0" y2="1"><stop offset="0.006" stop-color="#268188"/><stop offset="0.301" stop-color="#21918b"/><stop offset="0.558" stop-color="#25848d"/><stop offset="0.660" stop-color="#24868d"/><stop offset="0.801" stop-color="#2b748e"/><stop offset="0.994" stop-color="#26818c"/></linearGradient>
<linearGradient id="h151" x1="0" y1="0" x2="0" y2="1"><stop offset="0.006" stop-color="#23898d"/><stop offset="0.391" stop-color="#20968b"/><stop offset="0.840" stop-color="#25838e"/><stop offset="0.994" stop-color="#209b89"/></linearGradient>
<linearGradient id="h152" x1="0" y1="0" x2="0" y2="1"><stop offset="0.006" stop-color="#219989"/><stop offset="0.237" stop-color="#20978b"/><stop offset="0.558" stop-color="#25858e"/><stop offset="0.840" stop-color="#228e8c"/><stop offset="0.994" stop-color="#21a286"/></linearGradient>
<linearGradient id="h153" x1="0" y1="0" x2="0" y2="1"><stop offset="0.006" stop-color="#228e8c"/><stop offset="0.250" stop-color="#20938c"/><stop offset="0.506" stop-color="#297a8e"/><stop offset="0.853" stop-color="#23898d"/><stop offset="0.942" stop-color="#21a385"/><stop offset="0.994" stop-color="#24a682"/></linearGradient>
<linearGradient id="h154" x1="0" y1="0" x2="0" y2="1"><stop offset="0.006" stop-color="#25858e"/><stop offset="0.237" stop-color="#1f968b"/><stop offset="0.506" stop-color="#24868e"/><stop offset="0.660" stop-color="#22908b"/><stop offset="0.801" stop-color="#23888e"/><stop offset="0.865" stop-color="#228d8d"/><stop offset="0.955" stop-color="#21a685"/><stop offset="0.994" stop-color="#22a784"/></linearGradient>
<linearGradient id="h155" x1="0" y1="0" x2="0" y2="1"><stop offset="0.006" stop-color="#20968b"/><stop offset="0.660" stop-color="#21918c"/><stop offset="0.840" stop-color="#23888e"/><stop offset="0.994" stop-color="#209f88"/></linearGradient>
<linearGradient id="h156" x1="0" y1="0" x2="0" y2="1"><stop offset="0.006" stop-color="#238c8c"/><stop offset="0.237" stop-color="#228d8d"/><stop offset="0.647" stop-color="#209f88"/><stop offset="0.865" stop-color="#20928c"/><stop offset="0.955" stop-color="#1fa187"/><stop offset="0.994" stop-color="#1fa088"/></linearGradient>
<linearGradient id="h157" x1="0" y1="0" x2="0" y2="1"><stop offset="0.006" stop-color="#238d8b"/><stop offset="0.301" stop-color="#22a685"/><stop offset="0.994" stop-color="#22a685"/></linearGradient>
<linearGradient id="h158" x1="0" y1="0" x2="0" y2="1"><stop offset="0.006" stop-color="#209f88"/><stop offset="0.250" stop-color="#23a984"/><stop offset="0.994" stop-color="#24aa83"/></linearGradient>
<linearGradient id="h159" x1="0" y1="0" x2="0" y2="1"><stop offset="0.006" stop-color="#258989"/><stop offset="0.519" stop-color="#298f85"/><stop offset="0.994" stop-color="#28a881"/></linearGradient>
<linearGradient id="h160" x1="0" y1="0" x2="0" y2="1"><stop offset="0.006" stop-color="#20a187"/><stop offset="0.263" stop-color="#20a087"/><stop offset="0.468" stop-color="#24aa83"/><stop offset="0.801" stop-color="#21a485"/><stop offset="0.994" stop-color="#28ae80"/></linearGradient>
<linearGradient id="h161" x1="0" y1="0" x2="0" y2="1"><stop offset="0.006" stop-color="#1fa088"/><stop offset="0.250" stop-color="#1f978b"/><stop offset="0.417" stop-color="#23a884"/><stop offset="0.994" stop-color="#25a983"/></linearGradient>
<linearGradient id="h162" x1="0" y1="0" x2="0" y2="1"><stop offset="0.006" stop-color="#22a285"/><stop offset="0.788" stop-color="#23a684"/><stop offset="0.994" stop-color="#2aaf7f"/></linearGradient>
<linearGradient id="h163" x1="0" y1="0" x2="0" y2="1"><stop offset="0.006" stop-color="#33496e"/><stop offset="0.019" stop-color="#33496e"/><stop offset="0.032" stop-color="#305572"/><stop offset="0.045" stop-color="#2a6d7b"/><stop offset="0.058" stop-color="#277a7f"/><stop offset="0.276" stop-color="#287c7e"/><stop offset="0.314" stop-color="#229588"/><stop offset="0.635" stop-color="#219e88"/><stop offset="0.827" stop-color="#21938b"/><stop offset="0.994" stop-color="#22a286"/></linearGradient>
<linearGradient id="h164" x1="0" y1="0" x2="0" y2="1"><stop offset="0.006" stop-color="#440154"/><stop offset="0.276" stop-color="#430455"/><stop offset="0.314" stop-color="#3e1a5f"/><stop offset="0.545" stop-color="#3e1b5e"/><stop offset="0.583" stop-color="#324970"/><stop offset="0.801" stop-color="#354371"/><stop offset="0.840" stop-color="#2a6e83"/><stop offset="0.994" stop-color="#267b81"/></linearGradient>
<linearGradient id="h175" x1="0" y1="0" x2="0" y2="1"><stop offset="0.006" stop-color="#440154"/><stop offset="0.878" stop-color="#430556"/><stop offset="0.917" stop-color="#3d1e61"/><stop offset="0.994" stop-color="#3e1d61"/></linearGradient>
<linearGradient id="h176" x1="0" y1="0" x2="0" y2="1"><stop offset="0.006" stop-color="#440154"/><stop offset="0.237" stop-color="#430555"/><stop offset="0.276" stop-color="#3d235e"/><stop offset="0.455" stop-color="#3c215f"/><stop offset="0.494" stop-color="#315170"/><stop offset="0.673" stop-color="#334772"/><stop offset="0.712" stop-color="#2c6b84"/><stop offset="0.853" stop-color="#2c6985"/><stop offset="0.878" stop-color="#2b6d85"/><stop offset="0.917" stop-color="#24868c"/><stop offset="0.994" stop-color="#23898c"/></linearGradient>
<linearGradient id="h177" x1="0" y1="0" x2="0" y2="1"><stop offset="0.006" stop-color="#34566c"/><stop offset="0.032" stop-color="#34566c"/><stop offset="0.071" stop-color="#2a8c7a"/><stop offset="0.237" stop-color="#2a8c7a"/><stop offset="0.276" stop-color="#24a782"/><stop offset="0.571" stop-color="#20958a"/><stop offset="0.827" stop-color="#21968a"/><stop offset="0.994" stop-color="#22a485"/></linearGradient>
<linearGradient id="h178" x1="0" y1="0" x2="0" y2="1"><stop offset="0.006" stop-color="#26ad81"/><stop offset="0.250" stop-color="#23a983"/><stop offset="0.494" stop-color="#209789"/><stop offset="0.660" stop-color="#23a483"/><stop offset="0.840" stop-color="#20a186"/><stop offset="0.994" stop-color="#26a981"/></linearGradient>
<linearGradient id="h179" x1="0" y1="0" x2="0" y2="1"><stop offset="0.006" stop-color="#24a983"/><stop offset="0.237" stop-color="#24aa83"/><stop offset="0.801" stop-color="#20948a"/><stop offset="0.994" stop-color="#23a884"/></linearGradient>
<linearGradient id="h180" x1="0" y1="0" x2="0" y2="1"><stop offset="0.006" stop-color="#1f998a"/><stop offset="0.263" stop-color="#209e88"/><stop offset="0.442" stop-color="#1f978a"/><stop offset="0.673" stop-color="#209a88"/><stop offset="0.827" stop-color="#20918c"/><stop offset="0.929" stop-color="#21a486"/><stop offset="0.994" stop-color="#22a685"/></linearGradient>
<linearGradient id="h181" x1="0" y1="0" x2="0" y2="1"><stop offset="0.006" stop-color="#1f9b88"/><stop offset="0.263" stop-color="#228d8d"/><stop offset="0.506" stop-color="#1fa088"/><stop offset="0.660" stop-color="#20a386"/><stop offset="0.840" stop-color="#1f978a"/><stop offset="0.929" stop-color="#23a683"/><stop offset="0.994" stop-color="#24a682"/></linearGradient>
<linearGradient id="h182" x1="0" y1="0" x2="0" y2="1"><stop offset="0.006" stop-color="#277f8b"/><stop offset="0.212" stop-color="#287c8c"/><stop offset="0.353" stop-color="#238a8c"/><stop offset="0.609" stop-color="#219589"/><stop offset="0.814" stop-color="#268c88"/><stop offset="0.994" stop-color="#2d9a81"/></linearGradient>
<linearGradient id="h183" x1="0" y1="0" x2="0" y2="1"><stop offset="0.006" stop-color="#248488"/><stop offset="0.263" stop-color="#2c708c"/><stop offset="0.340" stop-color="#2a758c"/><stop offset="0.494" stop-color="#219089"/><stop offset="0.635" stop-color="#209a89"/><stop offset="0.750" stop-color="#20968a"/><stop offset="0.878" stop-color="#22a784"/><stop offset="0.994" stop-color="#28aa7f"/></linearGradient>
<linearGradient id="h184" x1="0" y1="0" x2="0" y2="1"><stop offset="0.006" stop-color="#21918b"/><stop offset="0.250" stop-color="#2c768d"/><stop offset="0.494" stop-color="#22918b"/><stop offset="0.635" stop-color="#20938c"/><stop offset="0.763" stop-color="#20938c"/><stop offset="0.891" stop-color="#23a884"/><stop offset="0.994" stop-color="#27ac81"/></linearGradient>
<linearGradient id="h185" x1="0" y1="0" x2="0" y2="1"><stop offset="0.006" stop-color="#297b8e"/><stop offset="0.340" stop-color="#2b748e"/><stop offset="0.827" stop-color="#20968b"/><stop offset="0.904" stop-color="#22a785"/><stop offset="0.994" stop-color="#25ac82"/></linearGradient>
<linearGradient id="h186" x1="0" y1="0" x2="0" y2="1"><stop offset="0.006" stop-color="#258b8c"/><stop offset="0.199" stop-color="#26828e"/><stop offset="0.660" stop-color="#26818d"/><stop offset="0.827" stop-color="#23898d"/><stop offset="0.929" stop-color="#20a287"/><stop offset="0.994" stop-color="#23a884"/></linearGradient>
<linearGradient id="h187" x1="0" y1="0" x2="0" y2="1"><stop offset="0.006" stop-color="#20978a"/><stop offset="0.237" stop-color="#228d8d"/><stop offset="0.506" stop-color="#21918c"/><stop offset="0.686" stop-color="#25848c"/><stop offset="0.840" stop-color="#228b8c"/><stop offset="0.942" stop-color="#21a585"/><stop offset="0.994" stop-color="#23a883"/></linearGradient>
<linearGradient id="h188" x1="0" y1="0" x2="0" y2="1"><stop offset="0.006" stop-color="#229589"/><stop offset="0.212" stop-color="#21908c"/><stop offset="0.481" stop-color="#1f978a"/><stop offset="0.737" stop-color="#25848d"/><stop offset="0.840" stop-color="#228b8d"/><stop offset="0.929" stop-color="#20a087"/><stop offset="0.994" stop-color="#22a685"/></linearGradient>
<linearGradient id="h189" x1="0" y1="0" x2="0" y2="1"><stop offset="0.006" stop-color="#26828d"/><stop offset="0.327" stop-color="#228e8d"/><stop offset="0.712" stop-color="#2b758e"/><stop offset="0.865" stop-color="#287d8e"/><stop offset="0.994" stop-color="#21908c"/></linearGradient>
<linearGradient id="h190" x1="0" y1="0" x2="0" y2="1"><stop offset="0.006" stop-color="#2a788e"/><stop offset="0.340" stop-color="#27808e"/><stop offset="0.494" stop-color="#2b748e"/><stop offset="0.660" stop-color="#297b8e"/><stop offset="0.737" stop-color="#2a768e"/><stop offset="0.994" stop-color="#228d8d"/></linearGradient>
<linearGradient id="h191" x1="0" y1="0" x2="0" y2="1"><stop offset="0.006" stop-color="#29798e"/><stop offset="0.878" stop-color="#29798e"/><stop offset="0.994" stop-color="#25858e"/></linearGradient>
<linearGradient id="h192" x1="0" y1="0" x2="0" y2="1"><stop offset="0.006" stop-color="#2c718e"/><stop offset="0.327" stop-color="#238b8d"/><stop offset="0.660" stop-color="#29798e"/><stop offset="0.865" stop-color="#287d8e"/><stop offset="0.994" stop-color="#228e8d"/></linearGradient>
<linearGradient id="h193" x1="0" y1="0" x2="0" y2="1"><stop offset="0.006" stop-color="#2a768e"/><stop offset="0.327" stop-color="#20948b"/><stop offset="0.635" stop-color="#277f8e"/><stop offset="0.788" stop-color="#228c8d"/><stop offset="0.891" stop-color="#25858e"/><stop offset="0.994" stop-color="#20938b"/></linearGradient>
<linearGradient id="h194" x1="0" y1="0" x2="0" y2="1"><stop offset="0.006" stop-color="#248c8c"/><stop offset="0.250" stop-color="#238b8d"/><stop offset="0.340" stop-color="#1f9f88"/><stop offset="0.647" stop-color="#228f8c"/><stop offset="0.788" stop-color="#21938b"/><stop offset="0.891" stop-color="#24888d"/><stop offset="0.994" stop-color="#228e8c"/></linearGradient>
<linearGradient id="h195" x1="0" y1="0" x2="0" y2="1"><stop offset="0.006" stop-color="#297c8a"/><stop offset="0.224" stop-color="#277f8c"/><stop offset="0.340" stop-color="#239688"/><stop offset="0.660" stop-color="#287b8e"/><stop offset="0.763" stop-color="#24878d"/><stop offset="0.878" stop-color="#277f8e"/><stop offset="0.994" stop-color="#228c8c"/></linearGradient>
<linearGradient id="h196" x1="0" y1="0" x2="0" y2="1"><stop offset="0.006" stop-color="#26838d"/><stop offset="0.199" stop-color="#25848e"/><stop offset="0.340" stop-color="#209e88"/><stop offset="0.455" stop-color="#23898c"/><stop offset="0.545" stop-color="#25848d"/><stop offset="0.660" stop-color="#24868e"/><stop offset="0.763" stop-color="#1f9a8a"/><stop offset="0.865" stop-color="#238a8d"/><stop offset="0.994" stop-color="#21908c"/></linearGradient>
<linearGradient id="h197" x1="0" y1="0" x2="0" y2="1"><stop offset="0.006" stop-color="#287d8e"/><stop offset="0.212" stop-color="#287c8e"/><stop offset="0.340" stop-color="#228e8c"/><stop offset="0.481" stop-color="#287c8e"/><stop offset="0.635" stop-color="#287c8e"/><stop offset="0.763" stop-color="#218f8c"/><stop offset="0.878" stop-color="#26818e"/><stop offset="0.994" stop-color="#238a8d"/></linearGradient>
<linearGradient id="h198" x1="0" y1="0" x2="0" y2="1"><stop offset="0.006" stop-color="#287a8b"/><stop offset="0.160" stop-color="#287b8d"/><stop offset="0.340" stop-color="#219989"/><stop offset="0.506" stop-color="#287c8e"/><stop offset="0.571" stop-color="#29788e"/><stop offset="0.660" stop-color="#2a768e"/><stop offset="0.750" stop-color="#25838e"/><stop offset="0.878" stop-color="#2b748e"/><stop offset="0.994" stop-color="#287b8e"/></linearGradient>
<linearGradient id="h199" x1="0" y1="0" x2="0" y2="1"><stop offset="0.006" stop-color="#277e8e"/><stop offset="0.237" stop-color="#2e6d8e"/><stop offset="0.353" stop-color="#2a788e"/><stop offset="0.429" stop-color="#31668c"/><stop offset="0.494" stop-color="#32628b"/><stop offset="0.596" stop-color="#30678c"/><stop offset="0.750" stop-color="#277f8e"/><stop offset="0.865" stop-color="#2b748e"/><stop offset="0.994" stop-color="#287b8e"/></linearGradient>
<linearGradient id="h200" x1="0" y1="0" x2="0" y2="1"><stop offset="0.006" stop-color="#248a8c"/><stop offset="0.263" stop-color="#287e8d"/><stop offset="0.340" stop-color="#27818d"/><stop offset="0.442" stop-color="#2e6d8d"/><stop offset="0.506" stop-color="#2f6a8d"/><stop offset="0.596" stop-color="#2d708d"/><stop offset="0.801" stop-color="#228f8c"/><stop offset="0.994" stop-color="#228f8c"/></linearGradient>
<linearGradient id="h201" x1="0" y1="0" x2="0" y2="1"><stop offset="0.006" stop-color="#2d6e8d"/><stop offset="0.340" stop-color="#2a768c"/><stop offset="0.455" stop-color="#32628c"/><stop offset="0.571" stop-color="#335f8c"/><stop offset="0.994" stop-color="#2c718c"/></linearGradient>
<linearGradient id="h202" x1="0" y1="0" x2="0" y2="1"><stop offset="0.006" stop-color="#30688d"/><stop offset="0.327" stop-color="#26828e"/><stop offset="0.571" stop-color="#2c728d"/><stop offset="0.994" stop-color="#25848e"/></linearGradient>
<linearGradient id="h203" x1="0" y1="0" x2="0" y2="1"><stop offset="0.006" stop-color="#2a778e"/><stop offset="0.250" stop-color="#2b768e"/><stop offset="0.340" stop-color="#277e8e"/><stop offset="0.635" stop-color="#29798e"/><stop offset="0.994" stop-color="#21928c"/></linearGradient>
<linearGradient id="h204" x1="0" y1="0" x2="0" y2="1"><stop offset="0.006" stop-color="#2f6d8e"/><stop offset="0.250" stop-color="#2f6c8e"/><stop offset="0.327" stop-color="#2c738e"/><stop offset="0.519" stop-color="#2d6d8a"/><stop offset="0.994" stop-color="#21918c"/></linearGradient>
<linearGradient id="h205" x1="0" y1="0" x2="0" y2="1"><stop offset="0.006" stop-color="#316188"/><stop offset="0.327" stop-color="#27828d"/><stop offset="0.788" stop-color="#26828e"/><stop offset="0.994" stop-color="#228e8c"/></linearGradient>
<linearGradient id="h206" x1="0" y1="0" x2="0" y2="1"><stop offset="0.006" stop-color="#2e6b8b"/><stop offset="0.327" stop-color="#277e8e"/><stop offset="0.519" stop-color="#277e8e"/><stop offset="0.750" stop-color="#238a8d"/><stop offset="0.994" stop-color="#24888d"/></linearGradient>
<linearGradient id="h207" x1="0" y1="0" x2="0" y2="1"><stop offset="0.006" stop-color="#21908c"/><stop offset="0.237" stop-color="#277e8e"/><stop offset="0.994" stop-color="#228c8d"/></linearGradient>
<linearGradient id="h209" x1="0" y1="0" x2="0" y2="1"><stop offset="0.006" stop-color="#2c738c"/><stop offset="0.506" stop-color="#2e6c8c"/><stop offset="0.763" stop-color="#29798d"/><stop offset="0.994" stop-color="#2f6a8c"/></linearGradient>
<linearGradient id="h210" x1="0" y1="0" x2="0" y2="1"><stop offset="0.006" stop-color="#238a8d"/><stop offset="0.494" stop-color="#2e6a8c"/><stop offset="0.724" stop-color="#2c728d"/><stop offset="0.994" stop-color="#2e6d8d"/></linearGradient>
<linearGradient id="h211" x1="0" y1="0" x2="0" y2="1"><stop offset="0.006" stop-color="#2b758e"/><stop offset="0.250" stop-color="#287c8e"/><stop offset="0.994" stop-color="#2f6a8d"/></linearGradient>
<linearGradient id="h212" x1="0" y1="0" x2="0" y2="1"><stop offset="0.006" stop-color="#2c728d"/><stop offset="0.340" stop-color="#297b8e"/><stop offset="0.481" stop-color="#2e6e8e"/><stop offset="0.763" stop-color="#2b748e"/><stop offset="0.994" stop-color="#30698e"/></linearGradient>
<linearGradient id="h213" x1="0" y1="0" x2="0" y2="1"><stop offset="0.006" stop-color="#2a7589"/><stop offset="0.276" stop-color="#2a788e"/><stop offset="0.583" stop-color="#2e6e8d"/><stop offset="0.994" stop-color="#2a7c8c"/></linearGradient>
<linearGradient id="h214" x1="0" y1="0" x2="0" y2="1"><stop offset="0.006" stop-color="#2b728a"/><stop offset="0.327" stop-color="#26818d"/><stop offset="0.673" stop-color="#2b748e"/><stop offset="0.994" stop-color="#2c738e"/></linearGradient>
<linearGradient id="h215" x1="0" y1="0" x2="0" y2="1"><stop offset="0.006" stop-color="#2a758d"/><stop offset="0.340" stop-color="#277d8a"/><stop offset="0.519" stop-color="#2a7188"/><stop offset="0.994" stop-color="#2d718e"/></linearGradient>
<linearGradient id="h216" x1="0" y1="0" x2="0" y2="1"><stop offset="0.006" stop-color="#2b758e"/><stop offset="0.353" stop-color="#277e8d"/><stop offset="0.750" stop-color="#2e6d8e"/><stop offset="0.994" stop-color="#29798e"/></linearGradient>
<linearGradient id="h217" x1="0" y1="0" x2="0" y2="1"><stop offset="0.006" stop-color="#2a788e"/><stop offset="0.468" stop-color="#297b8e"/><stop offset="0.686" stop-color="#30698d"/><stop offset="0.994" stop-color="#27808e"/></linearGradient>
<linearGradient id="h218" x1="0" y1="0" x2="0" y2="1"><stop offset="0.006" stop-color="#25878c"/><stop offset="0.340" stop-color="#2c728e"/><stop offset="0.994" stop-color="#297c8d"/></linearGradient>
<linearGradient id="h219" x1="0" y1="0" x2="0" y2="1"><stop offset="0.006" stop-color="#277e8e"/><stop offset="0.327" stop-color="#2f698d"/><stop offset="0.481" stop-color="#2b768e"/><stop offset="0.763" stop-color="#2f6c8e"/><stop offset="0.994" stop-color="#277f8e"/></linearGradient>
<linearGradient id="h220" x1="0" y1="0" x2="0" y2="1"><stop offset="0.006" stop-color="#26818e"/><stop offset="0.314" stop-color="#2e6c8e"/><stop offset="0.481" stop-color="#2a778e"/><stop offset="0.750" stop-color="#2e6d8e"/><stop offset="0.994" stop-color="#2c738e"/></linearGradient>
<linearGradient id="h221" x1="0" y1="0" x2="0" y2="1"><stop offset="0.006" stop-color="#2d6e8d"/><stop offset="0.340" stop-color="#33628d"/><stop offset="0.519" stop-color="#2b748e"/><stop offset="0.750" stop-color="#2e6e8e"/><stop offset="0.994" stop-color="#2c728e"/></linearGradient>
<linearGradient id="h222" x1="0" y1="0" x2="0" y2="1"><stop offset="0.006" stop-color="#2e6c8c"/><stop offset="0.417" stop-color="#32648e"/><stop offset="0.660" stop-color="#2f6c8e"/><stop offset="0.994" stop-color="#31688e"/></linearGradient>
<linearGradient id="h223" x1="0" y1="0" x2="0" y2="1"><stop offset="0.006" stop-color="#2b758d"/><stop offset="0.212" stop-color="#2b758e"/><stop offset="0.494" stop-color="#30698e"/><stop offset="0.750" stop-color="#297a8e"/><stop offset="0.994" stop-color="#345f8d"/></linearGradient>
<linearGradient id="h224" x1="0" y1="0" x2="0" y2="1"><stop offset="0.006" stop-color="#297d8c"/><stop offset="0.250" stop-color="#28808c"/><stop offset="0.506" stop-color="#2d748b"/><stop offset="0.750" stop-color="#27828d"/><stop offset="0.994" stop-color="#2e6f8d"/></linearGradient>
<linearGradient id="h225" x1="0" y1="0" x2="0" y2="1"><stop offset="0.006" stop-color="#2b758e"/><stop offset="0.250" stop-color="#2b738d"/><stop offset="0.481" stop-color="#30678b"/><stop offset="0.699" stop-color="#2d708e"/><stop offset="0.994" stop-color="#33618d"/></linearGradient>
<linearGradient id="h226" x1="0" y1="0" x2="0" y2="1"><stop offset="0.006" stop-color="#29798d"/><stop offset="0.314" stop-color="#2d708e"/><stop offset="0.673" stop-color="#2c748e"/><stop offset="0.994" stop-color="#32628c"/></linearGradient>
<linearGradient id="h227" x1="0" y1="0" x2="0" y2="1"><stop offset="0.006" stop-color="#2b768e"/><stop offset="0.250" stop-color="#306a8e"/><stop offset="0.660" stop-color="#2a778e"/><stop offset="0.994" stop-color="#2f6b8e"/></linearGradient>
<linearGradient id="h228" x1="0" y1="0" x2="0" y2="1"><stop offset="0.006" stop-color="#2c738e"/><stop offset="0.314" stop-color="#30688e"/><stop offset="0.571" stop-color="#2c738e"/><stop offset="0.994" stop-color="#2a778e"/></linearGradient>
<linearGradient id="h229" x1="0" y1="0" x2="0" y2="1"><stop offset="0.006" stop-color="#2a798e"/><stop offset="0.301" stop-color="#34618d"/><stop offset="0.571" stop-color="#30688d"/><stop offset="0.660" stop-color="#2c728d"/><stop offset="0.750" stop-color="#2f6c8d"/><stop offset="0.994" stop-color="#2c728e"/></linearGradient>
<linearGradient id="h230" x1="0" y1="0" x2="0" y2="1"><stop offset="0.006" stop-color="#2b758e"/><stop offset="0.263" stop-color="#33628d"/><stop offset="0.494" stop-color="#2e6c8d"/><stop offset="0.994" stop-color="#2c718e"/></linearGradient>
<linearGradient id="h231" x1="0" y1="0" x2="0" y2="1"><stop offset="0.006" stop-color="#2c738e"/><stop offset="0.288" stop-color="#31678e"/><stop offset="0.724" stop-color="#2d718e"/><stop offset="0.994" stop-color="#2d6f8e"/></linearGradient>
<linearGradient id="h232" x1="0" y1="0" x2="0" y2="1"><stop offset="0.006" stop-color="#2a768e"/><stop offset="0.301" stop-color="#33608c"/><stop offset="0.712" stop-color="#33608d"/><stop offset="0.994" stop-color="#306a8e"/></linearGradient>
<linearGradient id="h233" x1="0" y1="0" x2="0" y2="1"><stop offset="0.006" stop-color="#26848c"/><stop offset="0.237" stop-color="#2c718d"/><stop offset="0.494" stop-color="#258b8b"/><stop offset="0.686" stop-color="#26898b"/><stop offset="0.994" stop-color="#2e6f8d"/></linearGradient>
<linearGradient id="h234" x1="0" y1="0" x2="0" y2="1"><stop offset="0.006" stop-color="#287b8d"/><stop offset="0.083" stop-color="#2b748e"/><stop offset="0.994" stop-color="#31688e"/></linearGradient>
<linearGradient id="h235" x1="0" y1="0" x2="0" y2="1"><stop offset="0.006" stop-color="#2f6a8c"/><stop offset="0.199" stop-color="#306a8e"/><stop offset="0.327" stop-color="#297b8e"/><stop offset="0.635" stop-color="#2f6b8e"/><stop offset="0.994" stop-color="#2d6f8d"/></linearGradient>
<linearGradient id="h236" x1="0" y1="0" x2="0" y2="1"><stop offset="0.006" stop-color="#2d708e"/><stop offset="0.237" stop-color="#32648e"/><stop offset="0.506" stop-color="#2d708e"/><stop offset="0.994" stop-color="#2e6c8c"/></linearGradient>
<linearGradient id="h237" x1="0" y1="0" x2="0" y2="1"><stop offset="0.006" stop-color="#2d708e"/><stop offset="0.250" stop-color="#306a8e"/><stop offset="0.519" stop-color="#2a788e"/><stop offset="0.763" stop-color="#31648b"/><stop offset="0.994" stop-color="#2e6888"/></linearGradient>
<linearGradient id="h238" x1="0" y1="0" x2="0" y2="1"><stop offset="0.006" stop-color="#2d6f8c"/><stop offset="0.519" stop-color="#2d6f8d"/><stop offset="0.750" stop-color="#32648d"/><stop offset="0.994" stop-color="#2d6e8c"/></linearGradient>
<linearGradient id="h239" x1="0" y1="0" x2="0" y2="1"><stop offset="0.006" stop-color="#2a788e"/><stop offset="0.250" stop-color="#2e6c8e"/><stop offset="0.673" stop-color="#2e6f8e"/><stop offset="0.763" stop-color="#31668e"/><stop offset="0.994" stop-color="#297a8e"/></linearGradient>
<linearGradient id="h240" x1="0" y1="0" x2="0" y2="1"><stop offset="0.006" stop-color="#287c8d"/><stop offset="0.724" stop-color="#30688d"/><stop offset="0.994" stop-color="#2b748e"/></linearGradient>
<linearGradient id="h241" x1="0" y1="0" x2="0" y2="1"><stop offset="0.006" stop-color="#37568b"/><stop offset="0.365" stop-color="#2b748e"/><stop offset="0.994" stop-color="#355a8a"/></linearGradient>
<linearGradient id="h242" x1="0" y1="0" x2="0" y2="1"><stop offset="0.006" stop-color="#259188"/><stop offset="0.212" stop-color="#297e8c"/><stop offset="0.391" stop-color="#297b8d"/><stop offset="0.647" stop-color="#239788"/><stop offset="0.827" stop-color="#239688"/><stop offset="0.994" stop-color="#2b7b8c"/></linearGradient>
<linearGradient id="h243" x1="0" y1="0" x2="0" y2="1"><stop offset="0.006" stop-color="#345e8c"/><stop offset="0.494" stop-color="#297a8e"/><stop offset="0.994" stop-color="#2f6b8e"/></linearGradient>
<linearGradient id="h244" x1="0" y1="0" x2="0" y2="1"><stop offset="0.006" stop-color="#31658b"/><stop offset="0.571" stop-color="#2b728c"/><stop offset="0.994" stop-color="#2f6c8d"/></linearGradient>
<linearGradient id="h245" x1="0" y1="0" x2="0" y2="1"><stop offset="0.006" stop-color="#2b738c"/><stop offset="0.199" stop-color="#2d6e8d"/><stop offset="0.314" stop-color="#29788c"/><stop offset="0.519" stop-color="#2b738c"/><stop offset="0.622" stop-color="#297a8d"/><stop offset="0.840" stop-color="#30678d"/><stop offset="0.994" stop-color="#32638c"/></linearGradient>
<linearGradient id="h246" x1="0" y1="0" x2="0" y2="1"><stop offset="0.006" stop-color="#2b728c"/><stop offset="0.994" stop-color="#2e6a8c"/></linearGradient>
<linearGradient id="h247" x1="0" y1="0" x2="0" y2="1"><stop offset="0.006" stop-color="#2a748b"/><stop offset="0.276" stop-color="#2a758a"/><stop offset="0.506" stop-color="#2e6a8b"/><stop offset="0.994" stop-color="#30658a"/></linearGradient>
<linearGradient id="h248" x1="0" y1="0" x2="0" y2="1"><stop offset="0.006" stop-color="#2a758a"/><stop offset="0.737" stop-color="#2f6a8c"/><stop offset="0.994" stop-color="#2d6f8b"/></linearGradient>
<linearGradient id="h249" x1="0" y1="0" x2="0" y2="1"><stop offset="0.006" stop-color="#2a768c"/><stop offset="0.173" stop-color="#2a788b"/><stop offset="0.391" stop-color="#258f89"/><stop offset="0.660" stop-color="#249088"/><stop offset="0.994" stop-color="#2c728b"/></linearGradient>
<linearGradient id="h250" x1="0" y1="0" x2="0" y2="1"><stop offset="0.006" stop-color="#2d6b8a"/><stop offset="0.276" stop-color="#2e6687"/><stop offset="0.699" stop-color="#2b6f88"/><stop offset="0.994" stop-color="#2e6888"/></linearGradient>
<linearGradient id="h251" x1="0" y1="0" x2="0" y2="1"><stop offset="0.006" stop-color="#2d6d8c"/><stop offset="0.250" stop-color="#2c6e89"/><stop offset="0.404" stop-color="#277a88"/><stop offset="0.994" stop-color="#2c728e"/></linearGradient>
<linearGradient id="h252" x1="0" y1="0" x2="0" y2="1"><stop offset="0.006" stop-color="#306589"/><stop offset="0.109" stop-color="#2e6688"/><stop offset="0.417" stop-color="#268881"/><stop offset="0.660" stop-color="#258685"/><stop offset="0.840" stop-color="#2a768c"/><stop offset="0.994" stop-color="#287d8d"/></linearGradient>
<linearGradient id="h253" x1="0" y1="0" x2="0" y2="1"><stop offset="0.006" stop-color="#325e87"/><stop offset="0.071" stop-color="#306186"/><stop offset="0.263" stop-color="#29867d"/><stop offset="0.404" stop-color="#599e5f"/><stop offset="0.647" stop-color="#379473"/><stop offset="0.724" stop-color="#258881"/><stop offset="0.853" stop-color="#287989"/><stop offset="0.994" stop-color="#28798b"/></linearGradient>
<linearGradient id="h254" x1="0" y1="0" x2="0" y2="1"><stop offset="0.006" stop-color="#316188"/><stop offset="0.071" stop-color="#2f6487"/><stop offset="0.173" stop-color="#258081"/><stop offset="0.199" stop-color="#29897b"/><stop offset="0.263" stop-color="#519e63"/><stop offset="0.301" stop-color="#87aa43"/><stop offset="0.340" stop-color="#b1ae36"/><stop offset="0.404" stop-color="#c0a932"/><stop offset="0.647" stop-color="#8e9541"/><stop offset="0.673" stop-color="#7d944a"/><stop offset="0.737" stop-color="#3e8a6d"/><stop offset="0.776" stop-color="#2a817b"/><stop offset="0.853" stop-color="#277984"/><stop offset="0.994" stop-color="#258087"/></linearGradient>
<linearGradient id="h255" x1="0" y1="0" x2="0" y2="1"><stop offset="0.006" stop-color="#2f688b"/><stop offset="0.083" stop-color="#2d6b89"/><stop offset="0.173" stop-color="#248384"/><stop offset="0.212" stop-color="#2c947b"/><stop offset="0.237" stop-color="#3e9f70"/><stop offset="0.263" stop-color="#5daa5d"/><stop offset="0.301" stop-color="#b1b830"/><stop offset="0.314" stop-color="#c8ba2c"/><stop offset="0.340" stop-color="#d6b82e"/><stop offset="0.571" stop-color="#b89136"/><stop offset="0.647" stop-color="#b38b37"/><stop offset="0.712" stop-color="#af9437"/><stop offset="0.737" stop-color="#9b973c"/><stop offset="0.776" stop-color="#619358"/><stop offset="0.827" stop-color="#398b70"/><stop offset="0.865" stop-color="#2c8679"/><stop offset="0.994" stop-color="#258282"/></linearGradient>
<linearGradient id="h256" x1="0" y1="0" x2="0" y2="1"><stop offset="0.006" stop-color="#30688c"/><stop offset="0.160" stop-color="#29758a"/><stop offset="0.250" stop-color="#279080"/><stop offset="0.288" stop-color="#42a26e"/><stop offset="0.340" stop-color="#96b541"/><stop offset="0.365" stop-color="#b8b634"/><stop offset="0.391" stop-color="#c9b330"/><stop offset="0.429" stop-color="#ccab31"/><stop offset="0.647" stop-color="#b18838"/><stop offset="0.737" stop-color="#b69435"/><stop offset="0.763" stop-color="#9c9636"/><stop offset="0.788" stop-color="#789548"/><stop offset="0.853" stop-color="#438d6a"/><stop offset="0.994" stop-color="#2e8877"/></linearGradient>
<linearGradient id="h257" x1="0" y1="0" x2="0" y2="1"><stop offset="0.006" stop-color="#30688c"/><stop offset="0.173" stop-color="#2c6d89"/><stop offset="0.314" stop-color="#288a7f"/><stop offset="0.353" stop-color="#3a9772"/><stop offset="0.404" stop-color="#6ea453"/><stop offset="0.429" stop-color="#7fa54c"/><stop offset="0.571" stop-color="#9d9b3d"/><stop offset="0.647" stop-color="#a59639"/><stop offset="0.699" stop-color="#94953f"/><stop offset="0.737" stop-color="#75924c"/><stop offset="0.776" stop-color="#4e8b63"/><stop offset="0.827" stop-color="#388470"/><stop offset="0.865" stop-color="#308176"/><stop offset="0.994" stop-color="#2d8278"/></linearGradient>
<linearGradient id="h258" x1="0" y1="0" x2="0" y2="1"><stop offset="0.006" stop-color="#335d88"/><stop offset="0.224" stop-color="#2f6587"/><stop offset="0.365" stop-color="#267d82"/><stop offset="0.481" stop-color="#338b75"/><stop offset="0.647" stop-color="#448969"/><stop offset="0.763" stop-color="#2a7a7c"/><stop offset="0.865" stop-color="#287482"/><stop offset="0.994" stop-color="#277b84"/></linearGradient>
<linearGradient id="h259" x1="0" y1="0" x2="0" y2="1"><stop offset="0.006" stop-color="#335d88"/><stop offset="0.250" stop-color="#316188"/><stop offset="0.481" stop-color="#287784"/><stop offset="0.660" stop-color="#287781"/><stop offset="0.840" stop-color="#2c6985"/><stop offset="0.994" stop-color="#2b6d87"/></linearGradient>
<linearGradient id="h260" x1="0" y1="0" x2="0" y2="1"><stop offset="0.006" stop-color="#30668c"/><stop offset="0.263" stop-color="#306389"/><stop offset="0.442" stop-color="#2b6f88"/><stop offset="0.647" stop-color="#2a7188"/><stop offset="0.788" stop-color="#2f6588"/><stop offset="0.994" stop-color="#2f6588"/></linearGradient>
<linearGradient id="h261" x1="0" y1="0" x2="0" y2="1"><stop offset="0.006" stop-color="#31658c"/><stop offset="0.288" stop-color="#306288"/><stop offset="0.673" stop-color="#2c6e8a"/><stop offset="0.994" stop-color="#32638b"/></linearGradient>
<linearGradient id="h262" x1="0" y1="0" x2="0" y2="1"><stop offset="0.006" stop-color="#355b8b"/><stop offset="0.314" stop-color="#365588"/><stop offset="0.647" stop-color="#30648a"/><stop offset="0.994" stop-color="#33608b"/></linearGradient>
<linearGradient id="h263" x1="0" y1="0" x2="0" y2="1"><stop offset="0.006" stop-color="#335b86"/><stop offset="0.122" stop-color="#30668b"/><stop offset="0.327" stop-color="#2e6a89"/><stop offset="0.737" stop-color="#316088"/><stop offset="0.994" stop-color="#31638a"/></linearGradient>
<linearGradient id="h264" x1="0" y1="0" x2="0" y2="1"><stop offset="0.006" stop-color="#335b87"/><stop offset="0.353" stop-color="#2f688a"/><stop offset="0.994" stop-color="#32638c"/></linearGradient>
<linearGradient id="h265" x1="0" y1="0" x2="0" y2="1"><stop offset="0.006" stop-color="#365485"/><stop offset="0.378" stop-color="#325f88"/><stop offset="0.532" stop-color="#2b728a"/><stop offset="0.660" stop-color="#29788d"/><stop offset="0.994" stop-color="#2d6b87"/></linearGradient>
<linearGradient id="h266" x1="0" y1="0" x2="0" y2="1"><stop offset="0.006" stop-color="#306882"/><stop offset="0.237" stop-color="#2a7d87"/><stop offset="0.660" stop-color="#26888a"/><stop offset="0.994" stop-color="#297e87"/></linearGradient>
<linearGradient id="h267" x1="0" y1="0" x2="0" y2="1"><stop offset="0.006" stop-color="#365585"/><stop offset="0.737" stop-color="#2f688a"/><stop offset="0.994" stop-color="#30658a"/></linearGradient>
<linearGradient id="h268" x1="0" y1="0" x2="0" y2="1"><stop offset="0.006" stop-color="#335a86"/><stop offset="0.994" stop-color="#306288"/></linearGradient>
<linearGradient id="h269" x1="0" y1="0" x2="0" y2="1"><stop offset="0.006" stop-color="#355281"/><stop offset="0.327" stop-color="#30688c"/><stop offset="0.994" stop-color="#2f688b"/></linearGradient>
<linearGradient id="h270" x1="0" y1="0" x2="0" y2="1"><stop offset="0.006" stop-color="#355787"/><stop offset="0.250" stop-color="#306589"/><stop offset="0.994" stop-color="#2e6b8c"/></linearGradient>
<linearGradient id="h271" x1="0" y1="0" x2="0" y2="1"><stop offset="0.006" stop-color="#335f89"/><stop offset="0.506" stop-color="#335e89"/><stop offset="0.737" stop-color="#2f698b"/><stop offset="0.994" stop-color="#326089"/></linearGradient>
<linearGradient id="h272" x1="0" y1="0" x2="0" y2="1"><stop offset="0.006" stop-color="#2b7b89"/><stop offset="0.122" stop-color="#298289"/><stop offset="0.609" stop-color="#288489"/><stop offset="0.750" stop-color="#29808a"/><stop offset="0.994" stop-color="#306889"/></linearGradient>
<linearGradient id="h273" x1="0" y1="0" x2="0" y2="1"><stop offset="0.006" stop-color="#30668a"/><stop offset="0.494" stop-color="#345988"/><stop offset="0.737" stop-color="#2f6588"/><stop offset="0.994" stop-color="#325e88"/></linearGradient>
<linearGradient id="h274" x1="0" y1="0" x2="0" y2="1"><stop offset="0.006" stop-color="#2e6887"/><stop offset="0.250" stop-color="#335d88"/><stop offset="0.712" stop-color="#306488"/><stop offset="0.994" stop-color="#325e87"/></linearGradient>
<linearGradient id="h275" x1="0" y1="0" x2="0" y2="1"><stop offset="0.006" stop-color="#325a84"/><stop offset="0.327" stop-color="#335d89"/><stop offset="0.635" stop-color="#394f88"/><stop offset="0.994" stop-color="#365487"/></linearGradient>
<linearGradient id="h276" x1="0" y1="0" x2="0" y2="1"><stop offset="0.006" stop-color="#345280"/><stop offset="0.314" stop-color="#30658a"/><stop offset="0.699" stop-color="#355585"/><stop offset="0.929" stop-color="#316189"/><stop offset="0.994" stop-color="#2c6e89"/></linearGradient>
<linearGradient id="h277" x1="0" y1="0" x2="0" y2="1"><stop offset="0.006" stop-color="#306489"/><stop offset="0.404" stop-color="#32618a"/><stop offset="0.647" stop-color="#355685"/><stop offset="0.994" stop-color="#31638a"/></linearGradient>
<linearGradient id="h278" x1="0" y1="0" x2="0" y2="1"><stop offset="0.006" stop-color="#325b85"/><stop offset="0.340" stop-color="#335d87"/><stop offset="0.519" stop-color="#355282"/><stop offset="0.776" stop-color="#335d88"/><stop offset="0.994" stop-color="#335c87"/></linearGradient>
<linearGradient id="h279" x1="0" y1="0" x2="0" y2="1"><stop offset="0.006" stop-color="#316289"/><stop offset="0.340" stop-color="#2d708d"/><stop offset="0.494" stop-color="#33638d"/><stop offset="0.801" stop-color="#31658b"/><stop offset="0.994" stop-color="#345583"/></linearGradient>
<linearGradient id="h280" x1="0" y1="0" x2="0" y2="1"><stop offset="0.006" stop-color="#288689"/><stop offset="0.250" stop-color="#2d6e8b"/><stop offset="0.429" stop-color="#2e6f8a"/><stop offset="0.609" stop-color="#288588"/><stop offset="0.801" stop-color="#288487"/><stop offset="0.994" stop-color="#325e83"/></linearGradient>
<linearGradient id="h281" x1="0" y1="0" x2="0" y2="1"><stop offset="0.006" stop-color="#2f6b8d"/><stop offset="0.365" stop-color="#326189"/><stop offset="0.506" stop-color="#345382"/><stop offset="0.994" stop-color="#345684"/></linearGradient>
<linearGradient id="h282" x1="0" y1="0" x2="0" y2="1"><stop offset="0.006" stop-color="#2f6b8c"/><stop offset="0.712" stop-color="#335e8a"/><stop offset="0.994" stop-color="#316189"/></linearGradient>
<linearGradient id="h283" x1="0" y1="0" x2="0" y2="1"><stop offset="0.006" stop-color="#335c87"/><stop offset="0.237" stop-color="#2f6688"/><stop offset="0.994" stop-color="#316189"/></linearGradient>
<linearGradient id="h284" x1="0" y1="0" x2="0" y2="1"><stop offset="0.006" stop-color="#325d88"/><stop offset="0.994" stop-color="#354e7f"/></linearGradient>
<linearGradient id="h285" x1="0" y1="0" x2="0" y2="1"><stop offset="0.006" stop-color="#2e6b8d"/><stop offset="0.737" stop-color="#365183"/><stop offset="0.994" stop-color="#305d81"/></linearGradient>
<linearGradient id="h286" x1="0" y1="0" x2="0" y2="1"><stop offset="0.006" stop-color="#345a88"/><stop offset="0.365" stop-color="#335c86"/><stop offset="0.712" stop-color="#375186"/><stop offset="0.994" stop-color="#355687"/></linearGradient>
<linearGradient id="h287" x1="0" y1="0" x2="0" y2="1"><stop offset="0.006" stop-color="#2e6b88"/><stop offset="0.096" stop-color="#2d7189"/><stop offset="0.314" stop-color="#249588"/><stop offset="0.545" stop-color="#239687"/><stop offset="0.827" stop-color="#2d6c88"/><stop offset="0.994" stop-color="#2e6a88"/></linearGradient>
<linearGradient id="h288" x1="0" y1="0" x2="0" y2="1"><stop offset="0.006" stop-color="#306388"/><stop offset="0.250" stop-color="#335f8b"/><stop offset="0.327" stop-color="#30698c"/><stop offset="0.506" stop-color="#2d6b8a"/><stop offset="0.994" stop-color="#354c7e"/></linearGradient>
<linearGradient id="h289" x1="0" y1="0" x2="0" y2="1"><stop offset="0.006" stop-color="#325c85"/><stop offset="0.250" stop-color="#335c89"/><stop offset="0.635" stop-color="#2c6f89"/><stop offset="0.994" stop-color="#315d86"/></linearGradient>
<linearGradient id="h290" x1="0" y1="0" x2="0" y2="1"><stop offset="0.006" stop-color="#2e6787"/><stop offset="0.212" stop-color="#32618a"/><stop offset="0.763" stop-color="#2f6689"/><stop offset="0.994" stop-color="#325f89"/></linearGradient>
<linearGradient id="h291" x1="0" y1="0" x2="0" y2="1"><stop offset="0.006" stop-color="#374c7f"/><stop offset="0.327" stop-color="#2f6a8d"/><stop offset="0.994" stop-color="#335d88"/></linearGradient>
<linearGradient id="h292" x1="0" y1="0" x2="0" y2="1"><stop offset="0.006" stop-color="#355888"/><stop offset="0.250" stop-color="#2f6c8e"/><stop offset="0.994" stop-color="#31638a"/></linearGradient>
<linearGradient id="h294" x1="0" y1="0" x2="0" y2="1"><stop offset="0.006" stop-color="#249488"/><stop offset="0.365" stop-color="#31668b"/><stop offset="0.506" stop-color="#306c8a"/><stop offset="0.712" stop-color="#259087"/><stop offset="0.942" stop-color="#259087"/><stop offset="0.994" stop-color="#278987"/></linearGradient>
<linearGradient id="h295" x1="0" y1="0" x2="0" y2="1"><stop offset="0.006" stop-color="#34517e"/><stop offset="0.353" stop-color="#325e87"/><stop offset="0.994" stop-color="#374d81"/></linearGradient>
<linearGradient id="h296" x1="0" y1="0" x2="0" y2="1"><stop offset="0.006" stop-color="#306388"/><stop offset="0.994" stop-color="#345c88"/></linearGradient>
<linearGradient id="h297" x1="0" y1="0" x2="0" y2="1"><stop offset="0.006" stop-color="#32547e"/><stop offset="0.314" stop-color="#2e6889"/><stop offset="0.622" stop-color="#345683"/><stop offset="0.994" stop-color="#316289"/></linearGradient>
<linearGradient id="h298" x1="0" y1="0" x2="0" y2="1"><stop offset="0.006" stop-color="#2f6a8c"/><stop offset="0.327" stop-color="#2e6a8b"/><stop offset="0.494" stop-color="#335784"/><stop offset="0.994" stop-color="#326089"/></linearGradient>
<linearGradient id="h299" x1="0" y1="0" x2="0" y2="1"><stop offset="0.006" stop-color="#31668d"/><stop offset="0.173" stop-color="#335e8b"/><stop offset="0.532" stop-color="#345d8b"/><stop offset="0.994" stop-color="#2f678a"/></linearGradient>
<linearGradient id="h300" x1="0" y1="0" x2="0" y2="1"><stop offset="0.006" stop-color="#2a7a87"/><stop offset="0.096" stop-color="#2e6b88"/><stop offset="0.212" stop-color="#2f6788"/><stop offset="0.481" stop-color="#268e87"/><stop offset="0.686" stop-color="#268f88"/><stop offset="0.904" stop-color="#2f6989"/><stop offset="0.994" stop-color="#316489"/></linearGradient>
<linearGradient id="h301" x1="0" y1="0" x2="0" y2="1"><stop offset="0.006" stop-color="#326089"/><stop offset="0.263" stop-color="#2b7089"/><stop offset="0.660" stop-color="#2c718c"/><stop offset="0.788" stop-color="#31638b"/><stop offset="0.994" stop-color="#335f8a"/></linearGradient>
<linearGradient id="h302" x1="0" y1="0" x2="0" y2="1"><stop offset="0.006" stop-color="#316189"/><stop offset="0.237" stop-color="#2d6d8b"/><stop offset="0.994" stop-color="#316389"/></linearGradient>
<linearGradient id="h303" x1="0" y1="0" x2="0" y2="1"><stop offset="0.006" stop-color="#335781"/><stop offset="0.237" stop-color="#2f6487"/><stop offset="0.647" stop-color="#2d6d8b"/><stop offset="0.994" stop-color="#2f678b"/></linearGradient>
<linearGradient id="h304" x1="0" y1="0" x2="0" y2="1"><stop offset="0.006" stop-color="#316086"/><stop offset="0.353" stop-color="#335a85"/><stop offset="0.673" stop-color="#2f6687"/><stop offset="0.994" stop-color="#32648c"/></linearGradient>
<linearGradient id="h306" x1="0" y1="0" x2="0" y2="1"><stop offset="0.006" stop-color="#2e6d8d"/><stop offset="0.506" stop-color="#325a83"/><stop offset="0.994" stop-color="#306589"/></linearGradient>
<linearGradient id="h308" x1="0" y1="0" x2="0" y2="1"><stop offset="0.006" stop-color="#2c7286"/><stop offset="0.404" stop-color="#2e6b8b"/><stop offset="0.750" stop-color="#2a7a89"/><stop offset="0.994" stop-color="#2c7584"/></linearGradient>
<linearGradient id="h309" x1="0" y1="0" x2="0" y2="1"><stop offset="0.006" stop-color="#316189"/><stop offset="0.378" stop-color="#30678c"/><stop offset="0.609" stop-color="#325d86"/><stop offset="0.994" stop-color="#335d89"/></linearGradient>
<linearGradient id="h310" x1="0" y1="0" x2="0" y2="1"><stop offset="0.006" stop-color="#316189"/><stop offset="0.327" stop-color="#30668b"/><stop offset="0.506" stop-color="#325d86"/><stop offset="0.673" stop-color="#2e6888"/><stop offset="0.994" stop-color="#316389"/></linearGradient>
<linearGradient id="h311" x1="0" y1="0" x2="0" y2="1"><stop offset="0.006" stop-color="#36588a"/><stop offset="0.468" stop-color="#31648c"/><stop offset="0.994" stop-color="#385087"/></linearGradient>
<linearGradient id="h312" x1="0" y1="0" x2="0" y2="1"><stop offset="0.006" stop-color="#306389"/><stop offset="0.250" stop-color="#2e698a"/><stop offset="0.519" stop-color="#32608a"/><stop offset="0.686" stop-color="#30668a"/><stop offset="0.994" stop-color="#32547f"/></linearGradient>
<linearGradient id="h313" x1="0" y1="0" x2="0" y2="1"><stop offset="0.006" stop-color="#298289"/><stop offset="0.173" stop-color="#2e6f8b"/><stop offset="0.327" stop-color="#2f698b"/><stop offset="0.455" stop-color="#2e6f89"/><stop offset="0.712" stop-color="#259187"/><stop offset="0.994" stop-color="#249286"/></linearGradient>
<linearGradient id="h314" x1="0" y1="0" x2="0" y2="1"><stop offset="0.006" stop-color="#335f8b"/><stop offset="0.263" stop-color="#345d8a"/><stop offset="0.494" stop-color="#2e6989"/><stop offset="0.776" stop-color="#316289"/><stop offset="0.994" stop-color="#2b738a"/></linearGradient>
<linearGradient id="h315" x1="0" y1="0" x2="0" y2="1"><stop offset="0.006" stop-color="#355585"/><stop offset="0.263" stop-color="#365586"/><stop offset="0.494" stop-color="#2f6789"/><stop offset="0.994" stop-color="#30688d"/></linearGradient>
<linearGradient id="h316" x1="0" y1="0" x2="0" y2="1"><stop offset="0.006" stop-color="#335c87"/><stop offset="0.263" stop-color="#315f87"/><stop offset="0.506" stop-color="#335582"/><stop offset="0.994" stop-color="#2e6a89"/></linearGradient>
<linearGradient id="h317" x1="0" y1="0" x2="0" y2="1"><stop offset="0.006" stop-color="#335b87"/><stop offset="0.250" stop-color="#316088"/><stop offset="0.519" stop-color="#345684"/><stop offset="0.750" stop-color="#306085"/><stop offset="0.994" stop-color="#315d86"/></linearGradient>
<linearGradient id="h318" x1="0" y1="0" x2="0" y2="1"><stop offset="0.006" stop-color="#306988"/><stop offset="0.160" stop-color="#355a88"/><stop offset="0.263" stop-color="#355988"/><stop offset="0.673" stop-color="#278887"/><stop offset="0.994" stop-color="#2f6f88"/></linearGradient>
<linearGradient id="h320" x1="0" y1="0" x2="0" y2="1"><stop offset="0.006" stop-color="#31678d"/><stop offset="0.532" stop-color="#316189"/><stop offset="0.673" stop-color="#2e6989"/><stop offset="0.994" stop-color="#326089"/></linearGradient>
<linearGradient id="h321" x1="0" y1="0" x2="0" y2="1"><stop offset="0.006" stop-color="#30668b"/><stop offset="0.327" stop-color="#2f6485"/><stop offset="0.494" stop-color="#345583"/><stop offset="0.724" stop-color="#316189"/><stop offset="0.994" stop-color="#316389"/></linearGradient>
<linearGradient id="h322" x1="0" y1="0" x2="0" y2="1"><stop offset="0.006" stop-color="#2f6588"/><stop offset="0.506" stop-color="#364d7f"/><stop offset="0.699" stop-color="#325d86"/><stop offset="0.994" stop-color="#2f6789"/></linearGradient>
<linearGradient id="h323" x1="0" y1="0" x2="0" y2="1"><stop offset="0.006" stop-color="#306589"/><stop offset="0.314" stop-color="#2f6789"/><stop offset="0.596" stop-color="#355383"/><stop offset="0.994" stop-color="#335b86"/></linearGradient>
<linearGradient id="h324" x1="0" y1="0" x2="0" y2="1"><stop offset="0.006" stop-color="#31638a"/><stop offset="0.250" stop-color="#2f6b8c"/><stop offset="0.750" stop-color="#32608a"/><stop offset="0.994" stop-color="#2f6789"/></linearGradient>
<linearGradient id="h325" x1="0" y1="0" x2="0" y2="1"><stop offset="0.006" stop-color="#2f6589"/><stop offset="0.199" stop-color="#2f688b"/><stop offset="0.327" stop-color="#2b738b"/><stop offset="0.481" stop-color="#31668c"/><stop offset="0.994" stop-color="#2f698b"/></linearGradient>
<linearGradient id="h326" x1="0" y1="0" x2="0" y2="1"><stop offset="0.006" stop-color="#2c7187"/><stop offset="0.212" stop-color="#2e6c8b"/><stop offset="0.622" stop-color="#278988"/><stop offset="0.878" stop-color="#278887"/><stop offset="0.994" stop-color="#2a7c85"/></linearGradient>
<linearGradient id="h327" x1="0" y1="0" x2="0" y2="1"><stop offset="0.006" stop-color="#315d85"/><stop offset="0.340" stop-color="#2f6a8c"/><stop offset="0.994" stop-color="#364c7f"/></linearGradient>
<linearGradient id="h328" x1="0" y1="0" x2="0" y2="1"><stop offset="0.006" stop-color="#306287"/><stop offset="0.353" stop-color="#2e6c8c"/><stop offset="0.994" stop-color="#345a87"/></linearGradient>
<linearGradient id="h329" x1="0" y1="0" x2="0" y2="1"><stop offset="0.006" stop-color="#30668b"/><stop offset="0.365" stop-color="#2e6989"/><stop offset="0.994" stop-color="#32608a"/></linearGradient>
<linearGradient id="h330" x1="0" y1="0" x2="0" y2="1"><stop offset="0.006" stop-color="#32628b"/><stop offset="0.250" stop-color="#2f678a"/><stop offset="0.494" stop-color="#345584"/><stop offset="0.699" stop-color="#325f87"/><stop offset="0.994" stop-color="#325f88"/></linearGradient>
<linearGradient id="h331" x1="0" y1="0" x2="0" y2="1"><stop offset="0.006" stop-color="#355081"/><stop offset="0.199" stop-color="#32608a"/><stop offset="0.519" stop-color="#36598b"/><stop offset="0.994" stop-color="#33618d"/></linearGradient>
<linearGradient id="h332" x1="0" y1="0" x2="0" y2="1"><stop offset="0.006" stop-color="#315d85"/><stop offset="0.122" stop-color="#306589"/><stop offset="0.532" stop-color="#32618a"/><stop offset="0.994" stop-color="#30688e"/></linearGradient>
<linearGradient id="h333" x1="0" y1="0" x2="0" y2="1"><stop offset="0.006" stop-color="#306488"/><stop offset="0.212" stop-color="#2e6e8d"/><stop offset="0.660" stop-color="#335d88"/><stop offset="0.994" stop-color="#31648c"/></linearGradient>
<linearGradient id="h334" x1="0" y1="0" x2="0" y2="1"><stop offset="0.006" stop-color="#335b86"/><stop offset="0.327" stop-color="#2e6d8e"/><stop offset="0.994" stop-color="#32618b"/></linearGradient>
<linearGradient id="h335" x1="0" y1="0" x2="0" y2="1"><stop offset="0.006" stop-color="#2f6e87"/><stop offset="0.301" stop-color="#31688d"/><stop offset="0.994" stop-color="#278c88"/></linearGradient>
<linearGradient id="h336" x1="0" y1="0" x2="0" y2="1"><stop offset="0.006" stop-color="#31668d"/><stop offset="0.506" stop-color="#325b86"/><stop offset="0.994" stop-color="#33638d"/></linearGradient>
<linearGradient id="h337" x1="0" y1="0" x2="0" y2="1"><stop offset="0.006" stop-color="#345f8c"/><stop offset="0.994" stop-color="#325782"/></linearGradient>
<linearGradient id="h338" x1="0" y1="0" x2="0" y2="1"><stop offset="0.006" stop-color="#345c89"/><stop offset="0.891" stop-color="#2f688b"/><stop offset="0.994" stop-color="#2a738a"/></linearGradient>
<linearGradient id="h339" x1="0" y1="0" x2="0" y2="1"><stop offset="0.006" stop-color="#30678b"/><stop offset="0.353" stop-color="#335784"/><stop offset="0.673" stop-color="#2c748e"/><stop offset="0.994" stop-color="#2d6e8b"/></linearGradient>
<linearGradient id="h340" x1="0" y1="0" x2="0" y2="1"><stop offset="0.006" stop-color="#31658b"/><stop offset="0.340" stop-color="#335783"/><stop offset="0.635" stop-color="#2e6b8c"/><stop offset="0.994" stop-color="#2d6d8b"/></linearGradient>
<linearGradient id="h341" x1="0" y1="0" x2="0" y2="1"><stop offset="0.006" stop-color="#2d6f8d"/><stop offset="0.994" stop-color="#316288"/></linearGradient>
</defs>
<g shape-rendering="crispEdges">
<rect x="69.5" y="32.5" width="1.05" height="385" fill="url(#h0)"/>
<rect x="70.5" y="32.5" width="1.05" height="385" fill="url(#h1)"/>
<rect x="71.5" y="32.5" width="1.05" height="385" fill="url(#h2)"/>
<rect x="72.5" y="32.5" width="1.05" height="385" fill="url(#h3)"/>
<rect x="73.5" y="32.5" width="1.05" height="385" fill="url(#h4)"/>
<rect x="74.5" y="32.5" width="1.05" height="385" fill="url(#h5)"/>
<rect x="75.5" y="32.5" width="1.05" height="385" fill="url(#h6)"/>
<rect x="76.5" y="32.5" width="1.05" height="385" fill="url(#h7)"/>
<rect x="77.5" y="32.5" width="1.05" height="385" fill="url(#h8)"/>
<rect x="78.5" y="32.5" width="1.05" height="385" fill="url(#h9)"/>
<rect x="79.5" y="32.5" width="1.05" height="385" fill="url(#h10)"/>
<rect x="80.5" y="32.5" width="1.05" height="385" fill="url(#h11)"/>
<rect x="81.5" y="32.5" width="1.05" height="385" fill="url(#h12)"/>
<rect x="82.5" y="32.5" width="1.05" height="385" fill="url(#h13)"/>
<rect x="83.5" y="32.5" width="1.05" height="385" fill="url(#h14)"/>
<rect x="84.5" y="32.5" width="1.05" height="385" fill="url(#h15)"/>
<rect x="85.5" y="32.5" width="1.05" height="385" fill="url(#h16)"/>
<rect x="86.5" y="32.5" width="1.05" height="385" fill="url(#h17)"/>
<rect x="87.5" y="32.5" width="1.05" height="385" fill="url(#h18)"/>
<rect x="88.5" y="32.5" width="1.05" height="385" fill="url(#h19)"/>
<rect x="89.5" y="32.5" width="1.05" height="385" fill="url(#h20)"/>
<rect x="90.5" y="32.5" width="1.05" height="385" fill="url(#h21)"/>
<rect x="91.5" y="32.5" width="1.05" height="385" fill="#30658b"/>
<rect x="92.5" y="32.5" width="1.05" height="385" fill="url(#h23)"/>
<rect x="93.5" y="32.5" width="1.05" height="385" fill="url(#h24)"/>
<rect x="94.5" y="32.5" width="1.05" height="385" fill="url(#h25)"/>
<rect x="95.5" y="32.5" width="1.05" height="385" fill="url(#h26)"/>
<rect x="96.5" y="32.5" width="1.05" height="385" fill="url(#h27)"/>
<rect x="97.5" y="32.5" width="1.05" height="385" fill="url(#h28)"/>
<rect x="98.5" y="32.5" width="1.05" height="385" fill="url(#h29)"/>
<rect x="99.5" y="32.5" width="1.05" height="385" fill="url(#h30)"/>
<rect x="100.5" y="32.5" width="1.05" height="385" fill="#345989"/>
<rect x="101.5" y="32.5" width="1.05" height="385" fill="url(#h32)"/>
<rect x="102.5" y="32.5" width="1.05" height="385" fill="url(#h33)"/>
<rect x="103.5" y="32.5" width="1.05" height="385" fill="url(#h34)"/>
<rect x="104.5" y="32.5" width="1.05" height="385" fill="url(#h35)"/>
<rect x="105.5" y="32.5" width="1.05" height="385" fill="url(#h36)"/>
<rect x="106.5" y="32.5" width="1.05" height="385" fill="url(#h37)"/>
<rect x="107.5" y="32.5" width="1.05" height="385" fill="url(#h38)"/>
<rect x="108.5" y="32.5" width="1.05" height="385" fill="url(#h39)"/>
<rect x="109.5" y="32.5" width="1.05" height="385" fill="url(#h40)"/>
<rect x="110.5" y="32.5" width="1.05" height="385" fill="url(#h41)"/>
<rect x="111.5" y="32.5" width="1.05" height="385" fill="url(#h42)"/>
<rect x="112.5" y="32.5" width="1.05" height="385" fill="url(#h43)"/>
<rect x="113.5" y="32.5" width="1.05" height="385" fill="url(#h44)"/>
<rect x="114.5" y="32.5" width="1.05" height="385" fill="url(#h45)"/>
<rect x="115.5" y="32.5" width="1.05" height="385" fill="url(#h46)"/>
<rect x="116.5" y="32.5" width="1.05" height="385" fill="url(#h47)"/>
<rect x="117.5" y="32.5" width="1.05" height="385" fill="url(#h48)"/>
<rect x="118.5" y="32.5" width="1.05" height="385" fill="url(#h49)"/>
<rect x="119.5" y="32.5" width="1.05" height="385" fill="url(#h50)"/>
<rect x="120.5" y="32.5" width="1.05" height="385" fill="url(#h51)"/>
<rect x="121.5" y="32.5" width="1.05" height="385" fill="url(#h52)"/>
<rect x="122.5" y="32.5" width="1.05" height="385" fill="url(#h53)"/>
<rect x="123.5" y="32.5" width="1.05" height="385" fill="url(#h54)"/>
<rect x="124.5" y="32.5" width="1.05" height="385" fill="url(#h55)"/>
<rect x="125.5" y="32.5" width="1.05" height="385" fill="url(#h56)"/>
<rect x="126.5" y="32.5" width="1.05" height="385" fill="url(#h57)"/>
<rect x="127.5" y="32.5" width="1.05" height="385" fill="url(#h58)"/>
<rect x="128.5" y="32.5" width="1.05" height="385" fill="url(#h59)"/>
<rect x="129.5" y="32.5" width="1.05" height="385" fill="url(#h60)"/>
<rect x="130.5" y="32.5" width="1.05" height="385" fill="url(#h61)"/>
<rect x="131.5" y="32.5" width="1.05" height="385" fill="url(#h62)"/>
<rect x="132.5" y="32.5" width="1.05" height="385" fill="url(#h63)"/>
<rect x="133.5" y="32.5" width="1.05" height="385" fill="url(#h64)"/>
<rect x="134.5" y="32.5" width="1.05" height="385" fill="url(#h65)"/>
<rect x="135.5" y="32.5" width="1.05" height="385" fill="url(#h66)"/>
<rect x="136.5" y="32.5" width="1.05" height="385" fill="url(#h67)"/>
<rect x="137.5" y="32.5" width="1.05" height="385" fill="url(#h68)"/>
<rect x="138.5" y="32.5" width="1.05" height="385" fill="url(#h69)"/>
<rect x="139.5" y="32.5" width="1.05" height="385" fill="url(#h70)"/>
<rect x="140.5" y="32.5" width="1.05" height="385" fill="url(#h71)"/>
<rect x="141.5" y="32.5" width="1.05" height="385" fill="url(#h72)"/>
<rect x="142.5" y="32.5" width="1.05" height="385" fill="url(#h73)"/>
<rect x="143.5" y="32.5" width="1.05" height="385" fill="url(#h74)"/>
<rect x="144.5" y="32.5" width="1.05" height="385" fill="url(#h75)"/>
<rect x="145.5" y="32.5" width="1.05" height="385" fill="url(#h76)"/>
<rect x="146.5" y="32.5" width="1.05" height="385" fill="url(#h77)"/>
<rect x="147.5" y="32.5" width="1.05" height="385" fill="url(#h78)"/>
<rect x="148.5" y="32.5" width="1.05" height="385" fill="url(#h79)"/>
<rect x="149.5" y="32.5" width="1.05" height="385" fill="url(#h80)"/>
<rect x="150.5" y="32.5" width="1.05" height="385" fill="url(#h81)"/>
<rect x="151.5" y="32.5" width="1.05" height="385" fill="url(#h82)"/>
<rect x="152.5" y="32.5" width="1.05" height="385" fill="url(#h83)"/>
<rect x="153.5" y="32.5" width="1.05" height="385" fill="url(#h84)"/>
<rect x="154.5" y="32.5" width="1.05" height="385" fill="url(#h85)"/>
<rect x="155.5" y="32.5" width="1.05" height="385" fill="url(#h86)"/>
<rect x="156.5" y="32.5" width="1.05" height="385" fill="url(#h87)"/>
<rect x="157.5" y="32.5" width="1.05" height="385" fill="url(#h88)"/>
<rect x="158.5" y="32.5" width="1.05" height="385" fill="url(#h89)"/>
<rect x="159.5" y="32.5" width="1.05" height="385" fill="url(#h90)"/>
<rect x="160.5" y="32.5" width="1.05" height="385" fill="url(#h91)"/>
<rect x="161.5" y="32.5" width="1.05" height="385" fill="url(#h92)"/>
<rect x="162.5" y="32.5" width="1.05" height="385" fill="url(#h93)"/>
<rect x="163.5" y="32.5" width="1.05" height="385" fill="url(#h94)"/>
<rect x="164.5" y="32.5" width="1.05" height="385" fill="url(#h95)"/>
<rect x="165.5" y="32.5" width="1.05" height="385" fill="url(#h96)"/>
<rect x="166.5" y="32.5" width="1.05" height="385" fill="url(#h97)"/>
<rect x="167.5" y="32.5" width="1.05" height="385" fill="url(#h98)"/>
<rect x="168.5" y="32.5" width="1.05" height="385" fill="url(#h99)"/>
<rect x="169.5" y="32.5" width="1.05" height="385" fill="url(#h100)"/>
<rect x="170.5" y="32.5" width="1.05" height="385" fill="url(#h101)"/>
<rect x="171.5" y="32.5" width="1.05" height="385" fill="url(#h102)"/>
<rect x="172.5" y="32.5" width="1.05" height="385" fill="url(#h103)"/>
<rect x="173.5" y="32.5" width="1.05" height="385" fill="url(#h104)"/>
<rect x="174.5" y="32.5" width="1.05" height="385" fill="url(#h105)"/>
<rect x="175.5" y="32.5" width="1.05" height="385" fill="url(#h106)"/>
<rect x="176.5" y="32.5" width="1.05" height="385" fill="url(#h107)"/>
<rect x="177.5" y="32.5" width="1.05" height="385" fill="url(#h108)"/>
<rect x="178.5" y="32.5" width="1.05" height="385" fill="url(#h109)"/>
<rect x="179.5" y="32.5" width="1.05" height="385" fill="url(#h110)"/>
<rect x="180.5" y="32.5" width="1.05" height="385" fill="url(#h111)"/>
<rect x="181.5" y="32.5" width="1.05" height="385" fill="url(#h112)"/>
<rect x="182.5" y="32.5" width="1.05" height="385" fill="url(#h113)"/>
<rect x="183.5" y="32.5" width="1.05" height="385" fill="url(#h114)"/>
<rect x="184.5" y="32.5" width="1.05" height="385" fill="url(#h115)"/>
<rect x="185.5" y="32.5" width="1.05" height="385" fill="url(#h116)"/>
<rect x="186.5" y="32.5" width="1.05" height="385" fill="url(#h117)"/>
<rect x="187.5" y="32.5" width="1.05" height="385" fill="url(#h118)"/>
<rect x="188.5" y="32.5" width="1.05" height="385" fill="url(#h119)"/>
<rect x="189.5" y="32.5" width="1.05" height="385" fill="url(#h120)"/>
<rect x="190.5" y="32.5" width="1.05" height="385" fill="url(#h121)"/>
<rect x="191.5" y="32.5" width="1.05" height="385" fill="url(#h122)"/>
<rect x="192.5" y="32.5" width="1.05" height="385" fill="url(#h123)"/>
<rect x="193.5" y="32.5" width="1.05" height="385" fill="url(#h124)"/>
<rect x="194.5" y="32.5" width="1.05" height="385" fill="url(#h125)"/>
<rect x="195.5" y="32.5" width="1.05" height="385" fill="url(#h126)"/>
<rect x="196.5" y="32.5" width="1.05" height="385" fill="url(#h127)"/>
<rect x="197.5" y="32.5" width="1.05" height="385" fill="url(#h128)"/>
<rect x="198.5" y="32.5" width="1.05" height="385" fill="url(#h129)"/>
<rect x="199.5" y="32.5" width="1.05" height="385" fill="url(#h130)"/>
<rect x="200.5" y="32.5" width="1.05" height="385" fill="url(#h131)"/>
<rect x="201.5" y="32.5" width="1.05" height="385" fill="url(#h132)"/>
<rect x="202.5" y="32.5" width="1.05" height="385" fill="url(#h133)"/>
<rect x="203.5" y="32.5" width="1.05" height="385" fill="url(#h134)"/>
<rect x="204.5" y="32.5" width="1.05" height="385" fill="url(#h135)"/>
<rect x="205.5" y="32.5" width="1.05" height="385" fill="url(#h136)"/>
<rect x="206.5" y="32.5" width="1.05" height="385" fill="url(#h137)"/>
<rect x="207.5" y="32.5" width="1.05" height="385" fill="url(#h138)"/>
<rect x="208.5" y="32.5" width="1.05" height="385" fill="url(#h139)"/>
<rect x="209.5" y="32.5" width="1.05" height="385" fill="url(#h140)"/>
<rect x="210.5" y="32.5" width="1.05" height="385" fill="url(#h141)"/>
<rect x="211.5" y="32.5" width="1.05" height="385" fill="url(#h142)"/>
<rect x="212.5" y="32.5" width="1.05" height="385" fill="url(#h143)"/>
<rect x="213.5" y="32.5" width="1.05" height="385" fill="url(#h144)"/>
<rect x="214.5" y="32.5" width="1.05" height="385" fill="url(#h145)"/>
<rect x="215.5" y="32.5" width="1.05" height="385" fill="url(#h146)"/>
<rect x="216.5" y="32.5" width="1.05" height="385" fill="url(#h147)"/>
<rect x="217.5" y="32.5" width="1.05" height="385" fill="url(#h148)"/>
<rect x="218.5" y="32.5" width="1.05" height="385" fill="url(#h149)"/>
<rect x="219.5" y="32.5" width="1.05" height="385" fill="url(#h150)"/>
<rect x="220.5" y="32.5" width="1.05" height="385" fill="url(#h151)"/>
<rect x="221.5" y="32.5" width="1.05" height="385" fill="url(#h152)"/>
<rect x="222.5" y="32.5" width="1.05" height="385" fill="url(#h153)"/>
<rect x="223.5" y="32.5" width="1.05" height="385" fill="url(#h154)"/>
<rect x="224.5" y="32.5" width="1.05" height="385" fill="url(#h155)"/>
<rect x="225.5" y="32.5" width="1.05" height="385" fill="url(#h156)"/>
<rect x="226.5" y="32.5" width="1.05" height="385" fill="url(#h157)"/>
<rect x="227.5" y="32.5" width="1.05" height="385" fill="url(#h158)"/>
<rect x="228.5" y="32.5" width="1.05" height="385" fill="url(#h159)"/>
<rect x="229.5" y="32.5" width="1.05" height="385" fill="url(#h160)"/>
<rect x="230.5" y="32.5" width="1.05" height="385" fill="url(#h161)"/>
<rect x="231.5" y="32.5" width="1.05" height="385" fill="url(#h162)"/>
<rect x="232.5" y="32.5" width="1.05" height="385" fill="url(#h163)"/>
<rect x="233.5" y="32.5" width="1.05" height="385" fill="url(#h164)"/>
<rect x="234.5" y="32.5" width="1.05" height="385" fill="#430154"/>
<rect x="235.5" y="32.5" width="1.05" height="385" fill="#440154"/>
<rect x="236.5" y="32.5" width="1.05" height="385" fill="#440154"/>
<rect x="237.5" y="32.5" width="1.05" height="385" fill="#440154"/>
<rect x="238.5" y="32.5" width="1.05" height="385" fill="#440154"/>
<rect x="239.5" y="32.5" width="1.05" height="385" fill="#440154"/>
<rect x="240.5" y="32.5" width="1.05" height="385" fill="#440154"/>
<rect x="241.5" y="32.5" width="1.05" height="385" fill="#440154"/>
<rect x="242.5" y="32.5" width="1.05" height="385" fill="#440154"/>
<rect x="243.5" y="32.5" width="1.05" height="385" fill="#440154"/>
<rect x="244.5" y="32.5" width="1.05" height="385" fill="url(#h175)"/>
<rect x="245.5" y="32.5" width="1.05" height="385" fill="url(#h176)"/>
<rect x="246.5" y="32.5" width="1.05" height="385" fill="url(#h177)"/>
<rect x="247.5" y="32.5" width="1.05" height="385" fill="url(#h178)"/>
<rect x="248.5" y="32.5" width="1.05" height="385" fill="url(#h179)"/>
<rect x="249.5" y="32.5" width="1.05" height="385" fill="url(#h180)"/>
<rect x="250.5" y="32.5" width="1.05" height="385" fill="url(#h181)"/>
<rect x="251.5" y="32.5" width="1.05" height="385" fill="url(#h182)"/>
<rect x="252.5" y="32.5" width="1.05" height="385" fill="url(#h183)"/>
<rect x="253.5" y="32.5" width="1.05" height="385" fill="url(#h184)"/>
<rect x="254.5" y="32.5" width="1.05" height="385" fill="url(#h185)"/>
<rect x="255.5" y="32.5" width="1.05" height="385" fill="url(#h186)"/>
<rect x="256.5" y="32.5" width="1.05" height="385" fill="url(#h187)"/>
<rect x="257.5" y="32.5" width="1.05" height="385" fill="url(#h188)"/>
<rect x="258.5" y="32.5" width="1.05" height="385" fill="url(#h189)"/>
<rect x="259.5" y="32.5" width="1.05" height="385" fill="url(#h190)"/>
<rect x="260.5" y="32.5" width="1.05" height="385" fill="url(#h191)"/>
<rect x="261.5" y="32.5" width="1.05" height="385" fill="url(#h192)"/>
<rect x="262.5" y="32.5" width="1.05" height="385" fill="url(#h193)"/>
<rect x="263.5" y="32.5" width="1.05" height="385" fill="url(#h194)"/>
<rect x="264.5" y="32.5" width="1.05" height="385" fill="url(#h195)"/>
<rect x="265.5" y="32.5" width="1.05" height="385" fill="url(#h196)"/>
<rect x="266.5" y="32.5" width="1.05" height="385" fill="url(#h197)"/>
<rect x="267.5" y="32.5" width="1.05" height="385" fill="url(#h198)"/>
<rect x="268.5" y="32.5" width="1.05" height="385" fill="url(#h199)"/>
<rect x="269.5" y="32.5" width="1.05" height="385" fill="url(#h200)"/>
<rect x="270.5" y="32.5" width="1.05" height="385" fill="url(#h201)"/>
<rect x="271.5" y="32.5" width="1.05" height="385" fill="url(#h202)"/>
<rect x="272.5" y="32.5" width="1.05" height="385" fill="url(#h203)"/>
<rect x="273.5" y="32.5" width="1.05" height="385" fill="url(#h204)"/>
<rect x="274.5" y="32.5" width="1.05" height="385" fill="url(#h205)"/>
<rect x="275.5" y="32.5" width="1.05" height="385" fill="url(#h206)"/>
<rect x="276.5" y="32.5" width="1.05" height="385" fill="url(#h207)"/>
<rect x="277.5" y="32.5" width="1.05" height="385" fill="#26818d"/>
<rect x="278.5" y="32.5" width="1.05" height="385" fill="url(#h209)"/>
<rect x="279.5" y="32.5" width="1.05" height="385" fill="url(#h210)"/>
<rect x="280.5" y="32.5" width="1.05" height="385" fill="url(#h211)"/>
<rect x="281.5" y="32.5" width="1.05" height="385" fill="url(#h212)"/>
<rect x="282.5" y="32.5" width="1.05" height="385" fill="url(#h213)"/>
<rect x="283.5" y="32.5" width="1.05" height="385" fill="url(#h214)"/>
<rect x="284.5" y="32.5" width="1.05" height="385" fill="url(#h215)"/>
<rect x="285.5" y="32.5" width="1.05" height="385" fill="url(#h216)"/>
<rect x="286.5" y="32.5" width="1.05" height="385" fill="url(#h217)"/>
<rect x="287.5" y="32.5" width="1.05" height="385" fill="url(#h218)"/>
<rect x="288.5" y="32.5" width="1.05" height="385" fill="url(#h219)"/>
<rect x="289.5" y="32.5" width="1.05" height="385" fill="url(#h220)"/>
<rect x="290.5" y="32.5" width="1.05" height="385" fill="url(#h221)"/>
<rect x="291.5" y="32.5" width="1.05" height="385" fill="url(#h222)"/>
<rect x="292.5" y="32.5" width="1.05" height="385" fill="url(#h223)"/>
<rect x="293.5" y="32.5" width="1.05" height="385" fill="url(#h224)"/>
<rect x="294.5" y="32.5" width="1.05" height="385" fill="url(#h225)"/>
<rect x="295.5" y="32.5" width="1.05" height="385" fill="url(#h226)"/>
<rect x="296.5" y="32.5" width="1.05" height="385" fill="url(#h227)"/>
<rect x="297.5" y="32.5" width="1.05" height="385" fill="url(#h228)"/>
<rect x="298.5" y="32.5" width="1.05" height="385" fill="url(#h229)"/>
<rect x="299.5" y="32.5" width="1.05" height="385" fill="url(#h230)"/>
<rect x="300.5" y="32.5" width="1.05" height="385" fill="url(#h231)"/>
<rect x="301.5" y="32.5" width="1.05" height="385" fill="url(#h232)"/>
<rect x="302.5" y="32.5" width="1.05" height="385" fill="url(#h233)"/>
<rect x="303.5" y="32.5" width="1.05" height="385" fill="url(#h234)"/>
<rect x="304.5" y="32.5" width="1.05" height="385" fill="url(#h235)"/>
<rect x="305.5" y="32.5" width="1.05" height="385" fill="url(#h236)"/>
<rect x="306.5" y="32.5" width="1.05" height="385" fill="url(#h237)"/>
<rect x="307.5" y="32.5" width="1.05" height="385" fill="url(#h238)"/>
<rect x="308.5" y="32.5" width="1.05" height="385" fill="url(#h239)"/>
<rect x="309.5" y="32.5" width="1.05" height="385" fill="url(#h240)"/>
<rect x="310.5" y="32.5" width="1.05" height="385" fill="url(#h241)"/>
<rect x="311.5" y="32.5" width="1.05" height="385" fill="url(#h242)"/>
<rect x="312.5" y="32.5" width="1.05" height="385" fill="url(#h243)"/>
<rect x="313.5" y="32.5" width="1.05" height="385" fill="url(#h244)"/>
<rect x="314.5" y="32.5" width="1.05" height="385" fill="url(#h245)"/>
<rect x="315.5" y="32.5" width="1.05" height="385" fill="url(#h246)"/>
<rect x="316.5" y="32.5" width="1.05" height="385" fill="url(#h247)"/>
<rect x="317.5" y="32.5" width="1.05" height="385" fill="url(#h248)"/>
<rect x="318.5" y="32.5" width="1.05" height="385" fill="url(#h249)"/>
<rect x="319.5" y="32.5" width="1.05" height="385" fill="url(#h250)"/>
<rect x="320.5" y="32.5" width="1.05" height="385" fill="url(#h251)"/>
<rect x="321.5" y="32.5" width="1.05" height="385" fill="url(#h252)"/>
<rect x="322.5" y="32.5" width="1.05" height="385" fill="url(#h253)"/>
<rect x="323.5" y="32.5" width="1.05" height="385" fill="url(#h254)"/>
<rect x="324.5" y="32.5" width="1.05" height="385" fill="url(#h255)"/>
<rect x="325.5" y="32.5" width="1.05" height="385" fill="url(#h256)"/>
<rect x="326.5" y="32.5" width="1.05" height="385" fill="url(#h257)"/>
<rect x="327.5" y="32.5" width="1.05" height="385" fill="url(#h258)"/>
<rect x="328.5" y="32.5" width="1.05" height="385" fill="url(#h259)"/>
<rect x="329.5" y="32.5" width="1.05" height="385" fill="url(#h260)"/>
<rect x="330.5" y="32.5" width="1.05" height="385" fill="url(#h261)"/>
<rect x="331.5" y="32.5" width="1.05" height="385" fill="url(#h262)"/>
<rect x="332.5" y="32.5" width="1.05" height="385" fill="url(#h263)"/>
<rect x="333.5" y="32.5" width="1.05" height="385" fill="url(#h264)"/>
<rect x="334.5" y="32.5" width="1.05" height="385" fill="url(#h265)"/>
<rect x="335.5" y="32.5" width="1.05" height="385" fill="url(#h266)"/>
<rect x="336.5" y="32.5" width="1.05" height="385" fill="url(#h267)"/>
<rect x="337.5" y="32.5" width="1.05" height="385" fill="url(#h268)"/>
<rect x="338.5" y="32.5" width="1.05" height="385" fill="url(#h269)"/>
<rect x="339.5" y="32.5" width="1.05" height="385" fill="url(#h270)"/>
<rect x="340.5" y="32.5" width="1.05" height="385" fill="url(#h271)"/>
<rect x="341.5" y="32.5" width="1.05" height="385" fill="url(#h272)"/>
<rect x="342.5" y="32.5" width="1.05" height="385" fill="url(#h273)"/>
<rect x="343.5" y="32.5" width="1.05" height="385" fill="url(#h274)"/>
<rect x="344.5" y="32.5" width="1.05" height="385" fill="url(#h275)"/>
<rect x="345.5" y="32.5" width="1.05" height="385" fill="url(#h276)"/>
<rect x="346.5" y="32.5" width="1.05" height="385" fill="url(#h277)"/>
<rect x="347.5" y="32.5" width="1.05" height="385" fill="url(#h278)"/>
<rect x="348.5" y="32.5" width="1.05" height="385" fill="url(#h279)"/>
<rect x="349.5" y="32.5" width="1.05" height="385" fill="url(#h280)"/>
<rect x="350.5" y="32.5" width="1.05" height="385" fill="url(#h281)"/>
<rect x="351.5" y="32.5" width="1.05" height="385" fill="url(#h282)"/>
<rect x="352.5" y="32.5" width="1.05" height="385" fill="url(#h283)"/>
<rect x="353.5" y="32.5" width="1.05" height="385" fill="url(#h284)"/>
<rect x="354.5" y="32.5" width="1.05" height="385" fill="url(#h285)"/>
<rect x="355.5" y="32.5" width="1.05" height="385" fill="url(#h286)"/>
<rect x="356.5" y="32.5" width="1.05" height="385" fill="url(#h287)"/>
<rect x="357.5" y="32.5" width="1.05" height="385" fill="url(#h288)"/>
<rect x="358.5" y="32.5" width="1.05" height="385" fill="url(#h289)"/>
<rect x="359.5" y="32.5" width="1.05" height="385" fill="url(#h290)"/>
<rect x="360.5" y="32.5" width="1.05" height="385" fill="url(#h291)"/>
<rect x="361.5" y="32.5" width="1.05" height="385" fill="url(#h292)"/>
<rect x="362.5" y="32.5" width="1.05" height="385" fill="#2f678c"/>
<rect x="363.5" y="32.5" width="1.05" height="385" fill="url(#h294)"/>
<rect x="364.5" y="32.5" width="1.05" height="385" fill="url(#h295)"/>
<rect x="365.5" y="32.5" width="1.05" height="385" fill="url(#h296)"/>
<rect x="366.5" y="32.5" width="1.05" height="385" fill="url(#h297)"/>
<rect x="367.5" y="32.5" width="1.05" height="385" fill="url(#h298)"/>
<rect x="368.5" y="32.5" width="1.05" height="385" fill="url(#h299)"/>
<rect x="369.5" y="32.5" width="1.05" height="385" fill="url(#h300)"/>
<rect x="370.5" y="32.5" width="1.05" height="385" fill="url(#h301)"/>
<rect x="371.5" y="32.5" width="1.05" height="385" fill="url(#h302)"/>
<rect x="372.5" y="32.5" width="1.05" height="385" fill="url(#h303)"/>
<rect x="373.5" y="32.5" width="1.05" height="385" fill="url(#h304)"/>
<rect x="374.5" y="32.5" width="1.05" height="385" fill="#316188"/>
<rect x="375.5" y="32.5" width="1.05" height="385" fill="url(#h306)"/>
<rect x="376.5" y="32.5" width="1.05" height="385" fill="#2e698a"/>
<rect x="377.5" y="32.5" width="1.05" height="385" fill="url(#h308)"/>
<rect x="378.5" y="32.5" width="1.05" height="385" fill="url(#h309)"/>
<rect x="379.5" y="32.5" width="1.05" height="385" fill="url(#h310)"/>
<rect x="380.5" y="32.5" width="1.05" height="385" fill="url(#h311)"/>
<rect x="381.5" y="32.5" width="1.05" height="385" fill="url(#h312)"/>
<rect x="382.5" y="32.5" width="1.05" height="385" fill="url(#h313)"/>
<rect x="383.5" y="32.5" width="1.05" height="385" fill="url(#h314)"/>
<rect x="384.5" y="32.5" width="1.05" height="385" fill="url(#h315)"/>
<rect x="385.5" y="32.5" width="1.05" height="385" fill="url(#h316)"/>
<rect x="386.5" y="32.5" width="1.05" height="385" fill="url(#h317)"/>
<rect x="387.5" y="32.5" width="1.05" height="385" fill="url(#h318)"/>
<rect x="388.5" y="32.5" width="1.05" height="385" fill="#30648a"/>
<rect x="389.5" y="32.5" width="1.05" height="385" fill="url(#h320)"/>
<rect x="390.5" y="32.5" width="1.05" height="385" fill="url(#h321)"/>
<rect x="391.5" y="32.5" width="1.05" height="385" fill="url(#h322)"/>
<rect x="392.5" y="32.5" width="1.05" height="385" fill="url(#h323)"/>
<rect x="393.5" y="32.5" width="1.05" height="385" fill="url(#h324)"/>
<rect x="394.5" y="32.5" width="1.05" height="385" fill="url(#h325)"/>
<rect x="395.5" y="32.5" width="1.05" height="385" fill="url(#h326)"/>
<rect x="396.5" y="32.5" width="1.05" height="385" fill="url(#h327)"/>
<rect x="397.5" y="32.5" width="1.05" height="385" fill="url(#h328)"/>
<rect x="398.5" y="32.5" width="1.05" height="385" fill="url(#h329)"/>
<rect x="399.5" y="32.5" width="1.05" height="385" fill="url(#h330)"/>
<rect x="400.5" y="32.5" width="1.05" height="385" fill="url(#h331)"/>
<rect x="401.5" y="32.5" width="1.05" height="385" fill="url(#h332)"/>
<rect x="402.5" y="32.5" width="1.05" height="385" fill="url(#h333)"/>
<rect x="403.5" y="32.5" width="1.05" height="385" fill="url(#h334)"/>
<rect x="404.5" y="32.5" width="1.05" height="385" fill="url(#h335)"/>
<rect x="405.5" y="32.5" width="1.05" height="385" fill="url(#h336)"/>
<rect x="406.5" y="32.5" width="1.05" height="385" fill="url(#h337)"/>
<rect x="407.5" y="32.5" width="1.05" height="385" fill="url(#h338)"/>
<rect x="408.5" y="32.5" width="1.05" height="385" fill="url(#h339)"/>
<rect x="409.5" y="32.5" width="1.05" height="385" fill="url(#h340)"/>
<rect x="410.5" y="32.5" width="1.05" height="385" fill="url(#h341)"/>
</g>
<rect x="69.5" y="32.5" width="342.0" height="385.0" fill="none" stroke="#000" stroke-width="1.11"/>
<line x1="93.9" x2="93.9" y1="417.5" y2="422.36" stroke="#000" stroke-width="1.11"/>
<text x="92.6" y="437.8" font-size="14.30" text-anchor="middle" textLength="19.6" lengthAdjust="spacingAndGlyphs">−6</text>
<line x1="142.8" x2="142.8" y1="417.5" y2="422.36" stroke="#000" stroke-width="1.11"/>
<text x="141.5" y="437.8" font-size="14.30" text-anchor="middle" textLength="19.6" lengthAdjust="spacingAndGlyphs">−4</text>
<line x1="191.6" x2="191.6" y1="417.5" y2="422.36" stroke="#000" stroke-width="1.11"/>
<text x="190.3" y="437.8" font-size="14.30" text-anchor="middle" textLength="19.6" lengthAdjust="spacingAndGlyphs">−2</text>
<line x1="240.5" x2="240.5" y1="417.5" y2="422.36" stroke="#000" stroke-width="1.11"/>
<text x="240.5" y="437.8" font-size="14.30" text-anchor="middle">0</text>
<line x1="289.4" x2="289.4" y1="417.5" y2="422.36" stroke="#000" stroke-width="1.11"/>
<text x="289.4" y="437.8" font-size="14.30" text-anchor="middle">2</text>
<line x1="338.2" x2="338.2" y1="417.5" y2="422.36" stroke="#000" stroke-width="1.11"/>
<text x="338.2" y="437.8" font-size="14.30" text-anchor="middle">4</text>
<line x1="387.1" x2="387.1" y1="417.5" y2="422.36" stroke="#000" stroke-width="1.11"/>
<text x="387.1" y="437.8" font-size="14.30" text-anchor="middle">6</text>
<line x1="64.64" x2="69.5" y1="39.4" y2="39.4" stroke="#000" stroke-width="1.11"/>
<text x="58.9" y="44.3" font-size="14.30" text-anchor="end" textLength="20.7" lengthAdjust="spacingAndGlyphs">6.2</text>
<line x1="64.64" x2="69.5" y1="96.4" y2="96.4" stroke="#000" stroke-width="1.11"/>
<text x="58.9" y="101.3" font-size="14.30" text-anchor="end" textLength="20.7" lengthAdjust="spacingAndGlyphs">6.1</text>
<line x1="64.64" x2="69.5" y1="153.4" y2="153.4" stroke="#000" stroke-width="1.11"/>
<text x="58.9" y="158.3" font-size="14.30" text-anchor="end" textLength="20.7" lengthAdjust="spacingAndGlyphs">6.0</text>
<line x1="64.64" x2="69.5" y1="210.4" y2="210.4" stroke="#000" stroke-width="1.11"/>
<text x="58.9" y="215.3" font-size="14.30" text-anchor="end" textLength="20.7" lengthAdjust="spacingAndGlyphs">5.9</text>
<line x1="64.64" x2="69.5" y1="267.4" y2="267.4" stroke="#000" stroke-width="1.11"/>
<text x="58.9" y="272.3" font-size="14.30" text-anchor="end" textLength="20.7" lengthAdjust="spacingAndGlyphs">5.8</text>
<line x1="64.64" x2="69.5" y1="324.4" y2="324.4" stroke="#000" stroke-width="1.11"/>
<text x="58.9" y="329.3" font-size="14.30" text-anchor="end" textLength="20.7" lengthAdjust="spacingAndGlyphs">5.7</text>
<line x1="64.64" x2="69.5" y1="381.4" y2="381.4" stroke="#000" stroke-width="1.11"/>
<text x="58.9" y="386.3" font-size="14.30" text-anchor="end" textLength="20.7" lengthAdjust="spacingAndGlyphs">5.6</text>
<text x="239.9" y="23.8" font-size="17.20" text-anchor="middle" textLength="75.0" lengthAdjust="spacingAndGlyphs">2D patch</text>
<g transform="translate(143.9,460.5)">
<text x="-0.8" y="0.0" font-size="14.30" text-anchor="start" textLength="120.2" lengthAdjust="spacingAndGlyphs">Scattering vector</text>
<text x="123.6" y="0.0" font-size="14.60" text-anchor="start" font-style="italic">q</text>
<text x="130.9" y="2.7" font-size="10.60" text-anchor="start" textLength="10.6" lengthAdjust="spacingAndGlyphs" font-style="italic">IP</text>
<text x="146.3" y="0.0" font-size="14.30" text-anchor="start">(</text>
<text x="151.1" y="0.0" font-size="14.60" text-anchor="start" textLength="21.0" lengthAdjust="spacingAndGlyphs" font-style="italic">nm</text>
<text x="174.4" y="-5.2" font-size="10.40" text-anchor="start" textLength="13.0" lengthAdjust="spacingAndGlyphs">−1</text>
<text x="189.1" y="0.0" font-size="14.30" text-anchor="start">)</text>
</g>
<g transform="translate(23.8,327.8) rotate(-90)">
<text x="-0.8" y="0.0" font-size="14.30" text-anchor="start" textLength="120.2" lengthAdjust="spacingAndGlyphs">Scattering vector</text>
<text x="123.6" y="0.0" font-size="14.60" text-anchor="start" font-style="italic">q</text>
<text x="130.9" y="2.7" font-size="10.60" text-anchor="start" textLength="23.0" lengthAdjust="spacingAndGlyphs" font-style="italic">OOP</text>
<text x="158.7" y="0.0" font-size="14.30" text-anchor="start">(</text>
<text x="163.5" y="0.0" font-size="14.60" text-anchor="start" textLength="21.0" lengthAdjust="spacingAndGlyphs" font-style="italic">nm</text>
<text x="186.8" y="-5.2" font-size="10.40" text-anchor="start" textLength="13.0" lengthAdjust="spacingAndGlyphs">−1</text>
<text x="201.5" y="0.0" font-size="14.30" text-anchor="start">)</text>
</g>
<clipPath id="c2"><rect x="479.5" y="32.5" width="342" height="385"/></clipPath>
<g clip-path="url(#c2)" fill="none" stroke-linejoin="round" stroke-linecap="butt">
<polyline points="495.2,398.7 495.5,348.0 495.8,399.6 496.1,350.5 496.4,400.0 496.8,351.5 497.1,400.0 497.4,348.7 497.7,400.0 498.0,352.4 498.3,400.0 498.6,350.3 498.9,400.0 499.2,352.5 499.6,400.0 499.9,350.7 500.2,400.0 500.5,353.8 500.8,400.0 501.1,355.6 501.4,400.0 501.7,354.3 502.0,400.0 502.4,353.0 502.7,400.0 503.0,351.9 503.3,400.0 503.6,355.6 503.9,400.0 504.2,351.7 504.5,400.0 504.8,354.3 505.1,400.0 505.5,354.0 505.8,399.5 506.1,351.5 506.4,398.5 506.7,350.7 507.0,351.4 507.3,352.6 507.6,351.7 507.9,351.5 508.3,353.1 508.6,353.1 508.9,349.9 509.2,351.8 509.5,352.4 509.8,398.3 510.1,352.2 510.4,399.4 510.7,348.1 511.1,399.9 511.4,352.9 511.7,400.0 512.0,351.0 512.3,400.0 512.6,350.6 512.9,399.7 513.2,348.8 513.5,398.8 513.9,398.2 514.2,351.6 514.5,351.7 514.8,352.6 515.1,353.4 515.4,352.2 515.7,350.3 516.0,348.7 516.3,351.4 516.7,353.7 517.0,351.3 517.3,398.5 517.6,354.1 517.9,399.5 518.2,349.6 518.5,400.0 518.8,350.5 519.1,400.0 519.5,351.6 519.8,400.0 520.1,349.5 520.4,400.0 520.7,350.7 521.0,400.0 521.3,351.1 521.6,400.0 521.9,352.0 522.2,400.0 522.6,349.6 522.9,400.0 523.2,349.7 523.5,400.0 523.8,350.0 524.1,400.0 524.4,349.0 524.7,400.0 525.0,351.1 525.4,400.0 525.7,351.8 526.0,399.8 526.3,353.0 526.6,399.1 526.9,398.5 527.2,347.0 527.5,348.2 527.8,351.7 528.2,350.4 528.5,349.0 528.8,349.4 529.1,350.3 529.4,349.2 529.7,348.2 530.0,398.1 530.3,351.0 530.6,399.3 531.0,350.9 531.3,399.9 531.6,350.3 531.9,399.8 532.2,348.0 532.5,399.1 532.8,398.5 533.1,350.2 533.4,351.9 533.8,353.1 534.1,350.2 534.4,351.4 534.7,350.8 535.0,350.3 535.3,350.3 535.6,349.2 535.9,349.1 536.2,398.4 536.6,350.7 536.9,399.5 537.2,345.6 537.5,400.0 537.8,349.2 538.1,400.0 538.4,350.1 538.7,400.0 539.0,347.9 539.4,400.0 539.7,349.6 540.0,399.5 540.3,350.8 540.6,398.5 540.9,346.9 541.2,347.2 541.5,347.0 541.8,349.0 542.1,349.3 542.5,349.1 542.8,348.6 543.1,348.3 543.4,348.6 543.7,349.8 544.0,398.7 544.3,346.5 544.6,399.7 544.9,349.6 545.3,399.3 545.6,345.1 545.9,398.1 546.2,349.2 546.5,348.1 546.8,350.0 547.1,348.2 547.4,346.0 547.7,346.8 548.1,347.6 548.4,347.0 548.7,346.7 549.0,347.4 549.3,348.1 549.6,349.5 549.9,398.3 550.2,345.1 550.5,399.4 550.9,345.7 551.2,399.5 551.5,347.4 551.8,398.5 552.1,345.3 552.4,346.4 552.7,345.8 553.0,343.6 553.3,342.4 553.7,343.6 554.0,345.6 554.3,348.6 554.6,345.9 554.9,341.6 555.2,343.5 555.5,344.2 555.8,342.4 556.1,398.6 556.5,341.3 556.8,399.6 557.1,342.4 557.4,399.5 557.7,345.1 558.0,398.5 558.3,341.3 558.6,338.3 558.9,336.9 559.2,343.2 559.6,350.0 559.9,345.7 560.2,344.1 560.5,345.9 560.8,341.6 561.1,345.3 561.4,352.2 561.7,347.7 562.0,398.2 562.4,343.6 562.7,399.3 563.0,345.0 563.3,399.9 563.6,347.0 563.9,399.4 564.2,349.4 564.5,398.2 564.8,341.3 565.2,341.5 565.5,343.9 565.8,346.7 566.1,346.7 566.4,347.3 566.7,343.9 567.0,343.5 567.3,333.4 567.6,332.3 568.0,398.2 568.3,327.5 568.6,399.3 568.9,323.5 569.2,399.5 569.5,316.2 569.8,398.5 570.1,309.6 570.4,276.8 570.8,235.7 571.1,190.5 571.4,138.7 571.7,178.2 572.0,137.1 572.3,68.1 572.6,50.0 572.9,61.5 573.2,161.7 573.5,143.7 573.9,202.8 574.2,184.7 574.5,398.3 574.8,285.0 575.1,399.4 575.4,326.1 575.7,398.9 576.0,398.2 576.3,320.3 576.7,327.0 577.0,327.1 577.3,329.4 577.6,332.1 577.9,333.3 578.2,337.8 578.5,339.8 578.8,344.1 579.1,339.7 579.5,343.8 579.8,337.7 580.1,328.0 580.4,335.6 580.7,338.0 581.0,398.5 581.3,346.8 581.6,347.2 581.9,338.3 582.3,338.9 582.6,342.4 582.9,343.6 583.2,340.5 583.5,335.4 583.8,333.6 584.1,337.7 584.4,333.5 584.7,335.5 585.1,342.1 585.4,346.5 585.7,339.7 586.0,329.9 586.3,332.2 586.6,333.2 586.9,336.0 587.2,398.8 587.5,338.9 587.9,398.2 588.2,339.2 588.5,333.2 588.8,331.4 589.1,336.9 589.4,340.9 589.7,342.9 590.0,335.2 590.3,331.2 590.6,336.6 591.0,339.5 591.3,343.6 591.6,342.6 591.9,335.7 592.2,336.8 592.5,340.7 592.8,340.0 593.1,398.4 593.4,343.6 593.8,398.8 594.1,398.1 594.4,338.3 594.7,337.9 595.0,339.0 595.3,331.0 595.6,334.0 595.9,341.4 596.2,339.7 596.6,337.5 596.9,341.6 597.2,340.0 597.5,329.5 597.8,331.9 598.1,339.6 598.4,342.4 598.7,340.5 599.0,341.2 599.4,346.1 599.7,337.3 600.0,336.5 600.3,337.2 600.6,328.7 600.9,331.5 601.2,334.8 601.5,328.9 601.8,331.5 602.2,340.3 602.5,344.3 602.8,342.1 603.1,332.2 603.4,328.9 603.7,337.3 604.0,343.6 604.3,342.1 604.6,338.0 605.0,336.9 605.3,337.2 605.6,335.4 605.9,337.1 606.2,338.3 606.5,336.4 606.8,336.5 607.1,335.5 607.4,328.6 607.8,328.2 608.1,334.5 608.4,342.4 608.7,341.2 609.0,342.1 609.3,348.3 609.6,338.4 609.9,331.0 610.2,334.4 610.5,342.8 610.9,343.5 611.2,339.9 611.5,336.3 611.8,326.0 612.1,327.4 612.4,337.9 612.7,342.7 613.0,340.1 613.3,336.6 613.7,340.4 614.0,339.3 614.3,339.2 614.6,335.7 614.9,327.9 615.2,328.0 615.5,333.3 615.8,335.2 616.1,333.9 616.5,337.0 616.8,337.7 617.1,340.8 617.4,344.6 617.7,337.2 618.0,332.8 618.3,334.7 618.6,330.5 618.9,337.3 619.3,343.4 619.6,336.7 619.9,332.5 620.2,334.4 620.5,332.1 620.8,330.0 621.1,337.7 621.4,341.6 621.7,334.5 622.1,329.6 622.4,339.0 622.7,335.8 623.0,327.0 623.3,327.0 623.6,330.3 623.9,336.0 624.2,338.5 624.5,328.5 624.9,325.1 625.2,328.4 625.5,330.0 625.8,334.9 626.1,338.4 626.4,340.2 626.7,330.9 627.0,333.8 627.3,333.4 627.6,327.8 628.0,335.1 628.3,337.9 628.6,335.8 628.9,334.1 629.2,334.3 629.5,336.9 629.8,336.0 630.1,336.6 630.4,340.0 630.8,336.5 631.1,328.8 631.4,333.9 631.7,336.8 632.0,333.7 632.3,337.0 632.6,331.6 632.9,329.9 633.2,327.6 633.6,328.4 633.9,332.1 634.2,330.1 634.5,334.0 634.8,331.0 635.1,328.8 635.4,328.7 635.7,328.2 636.0,334.0 636.4,334.1 636.7,330.0 637.0,326.2 637.3,329.5 637.6,332.9 637.9,335.6 638.2,333.1 638.5,330.8 638.8,339.3 639.2,335.6 639.5,325.4 639.8,330.4 640.1,338.0 640.4,335.2 640.7,335.3 641.0,331.3 641.3,330.1 641.6,333.9 642.0,329.0 642.3,329.1 642.6,329.5 642.9,330.2 643.2,336.0 643.5,338.9 643.8,328.2 644.1,322.9 644.4,307.6 644.7,400.0 645.1,400.0 645.4,400.0 645.7,400.0 646.0,400.0 646.3,400.0 646.6,400.0 646.9,400.0 647.2,400.0 647.5,400.0 647.9,400.0 648.2,400.0 648.5,400.0 648.8,400.0 649.1,400.0 649.4,400.0 649.7,400.0 650.0,400.0 650.3,400.0 650.7,400.0 651.0,400.0 651.3,400.0 651.6,400.0 651.9,400.0 652.2,400.0 652.5,400.0 652.8,400.0 653.1,400.0 653.5,400.0 653.8,400.0 654.1,400.0 654.4,400.0 654.7,400.0 655.0,400.0 655.3,400.0 655.6,304.3 655.9,322.4 656.3,331.7 656.6,331.5 656.9,331.0 657.2,333.5 657.5,331.7 657.8,332.8 658.1,330.6 658.4,327.4 658.7,328.8 659.0,329.2 659.4,332.7 659.7,335.5 660.0,334.0 660.3,332.7 660.6,331.2 660.9,329.4 661.2,335.1 661.5,334.9 661.8,335.0 662.2,337.5 662.5,333.9 662.8,339.1 663.1,337.8 663.4,330.2 663.7,331.1 664.0,333.2 664.3,334.1 664.6,336.1 665.0,335.8 665.3,334.4 665.6,333.2 665.9,335.6 666.2,335.1 666.5,330.5 666.8,331.9 667.1,334.0 667.4,331.7 667.8,336.1 668.1,336.5 668.4,329.9 668.7,330.6 669.0,330.2 669.3,333.5 669.6,335.8 669.9,331.4 670.2,329.1 670.6,330.7 670.9,337.5 671.2,336.5 671.5,327.2 671.8,325.6 672.1,328.9 672.4,338.0 672.7,335.6 673.0,330.7 673.4,342.9 673.7,341.2 674.0,337.6 674.3,343.5 674.6,340.6 674.9,331.7 675.2,330.9 675.5,334.4 675.8,327.1 676.1,322.5 676.5,329.1 676.8,335.6 677.1,339.7 677.4,341.3 677.7,335.5 678.0,331.8 678.3,332.9 678.6,330.9 678.9,334.1 679.3,337.8 679.6,332.6 679.9,330.4 680.2,329.3 680.5,330.1 680.8,334.9 681.1,335.1 681.4,337.6 681.7,344.7 682.1,339.2 682.4,333.8 682.7,334.8 683.0,340.6 683.3,343.0 683.6,339.2 683.9,341.1 684.2,346.9 684.5,345.1 684.9,334.2 685.2,331.8 685.5,337.1 685.8,338.5 686.1,333.8 686.4,343.5 686.7,346.6 687.0,335.2 687.3,332.4 687.7,328.4 688.0,326.9 688.3,331.9 688.6,334.8 688.9,333.2 689.2,336.2 689.5,339.2 689.8,334.2 690.1,327.3 690.5,331.1 690.8,338.2 691.1,337.0 691.4,332.2 691.7,333.1 692.0,332.7 692.3,336.0 692.6,341.9 692.9,339.2 693.2,335.9 693.6,331.6 693.9,339.6 694.2,346.5 694.5,340.0 694.8,339.2 695.1,345.7 695.4,339.7 695.7,332.7 696.0,334.6 696.4,337.9 696.7,336.0 697.0,335.2 697.3,334.9 697.6,337.2 697.9,344.0 698.2,340.0 698.5,339.4 698.8,337.7 699.2,334.3 699.5,339.9 699.8,340.4 700.1,338.4 700.4,335.4 700.7,336.3 701.0,341.0 701.3,334.5 701.6,325.1 702.0,322.3 702.3,329.8 702.6,336.0 702.9,330.8 703.2,331.9 703.5,340.6 703.8,339.7 704.1,334.7 704.4,338.0 704.8,345.2 705.1,347.3 705.4,339.2 705.7,336.8 706.0,339.6 706.3,336.1 706.6,333.4 706.9,335.3 707.2,335.7 707.6,337.6 707.9,340.6 708.2,341.0 708.5,335.8 708.8,332.3 709.1,338.8 709.4,339.9 709.7,338.1 710.0,334.4 710.4,339.1 710.7,345.2 711.0,340.9 711.3,328.4 711.6,323.7 711.9,332.9 712.2,333.8 712.5,326.2 712.8,329.5 713.1,337.9 713.5,332.8 713.8,329.8 714.1,331.7 714.4,335.1 714.7,330.7 715.0,323.0 715.3,327.7 715.6,331.3 715.9,340.3 716.3,340.5 716.6,334.0 716.9,398.2 717.2,331.7 717.5,398.9 717.8,398.3 718.1,340.2 718.4,336.8 718.7,339.3 719.1,338.8 719.4,338.8 719.7,344.8 720.0,339.3 720.3,330.4 720.6,330.7 720.9,324.7 721.2,328.5 721.5,341.8 721.9,345.0 722.2,343.0 722.5,329.3 722.8,326.5 723.1,398.7 723.4,320.4 723.7,398.7 724.0,311.0 724.3,315.1 724.7,324.4 725.0,313.7 725.3,297.3 725.6,260.3 725.9,198.7 726.2,235.7 726.5,202.8 726.8,135.4 727.1,119.0 727.5,128.9 727.8,160.1 728.1,194.6 728.4,165.8 728.7,211.0 729.0,184.7 729.3,398.3 729.6,235.7 729.9,399.4 730.2,308.0 730.6,399.3 730.9,398.8 731.2,323.1 731.5,329.0 731.8,328.9 732.1,332.0 732.4,332.4 732.7,333.8 733.0,339.9 733.4,338.8 733.7,341.2 734.0,337.8 734.3,340.3 734.6,344.6 734.9,344.3 735.2,340.6 735.5,344.7 735.8,398.6 736.2,346.9 736.5,399.6 736.8,340.8 737.1,399.8 737.4,344.8 737.7,399.1 738.0,398.5 738.3,347.2 738.6,345.3 739.0,346.0 739.3,352.3 739.6,351.1 739.9,349.8 740.2,350.5 740.5,346.4 740.8,344.4 741.1,341.8 741.4,343.1 741.8,350.0 742.1,351.3 742.4,350.1 742.7,351.2 743.0,398.7 743.3,347.4 743.6,399.6 743.9,349.8 744.2,399.6 744.5,347.0 744.9,398.6 745.2,346.3 745.5,346.6 745.8,345.6 746.1,345.0 746.4,346.6 746.7,346.7 747.0,349.9 747.3,350.9 747.7,348.9 748.0,348.3 748.3,350.1 748.6,347.8 748.9,345.6 749.2,349.9 749.5,352.6 749.8,351.1 750.1,398.6 750.5,349.3 750.8,399.6 751.1,348.8 751.4,399.8 751.7,348.1 752.0,399.1 752.3,398.5 752.6,343.4 752.9,345.7 753.3,349.4 753.6,349.1 753.9,347.5 754.2,347.8 754.5,349.3 754.8,347.8 755.1,348.3 755.4,349.4 755.7,348.6 756.1,398.4 756.4,351.0 756.7,399.5 757.0,346.7 757.3,400.0 757.6,348.6 757.9,400.0 758.2,345.5 758.5,399.9 758.9,345.0 759.2,399.4 759.5,345.6 759.8,398.3 760.1,347.2 760.4,347.3 760.7,343.9 761.0,342.5 761.3,342.8 761.6,343.6 762.0,343.8 762.3,343.9 762.6,345.2 762.9,341.3 763.2,340.2 763.5,343.8 763.8,398.1 764.1,343.9 764.4,399.3 764.8,343.4 765.1,399.9 765.4,346.9 765.7,400.0 766.0,344.5 766.3,400.0 766.6,342.9 766.9,399.8 767.2,345.6 767.6,399.1 767.9,398.6 768.2,342.2 768.5,344.7 768.8,345.6 769.1,343.9 769.4,345.4 769.7,347.9 770.0,346.4 770.4,345.5 770.7,346.7 771.0,347.4 771.3,347.4 771.6,398.5 771.9,347.7 772.2,399.5 772.5,349.4 772.8,400.0 773.2,348.3 773.5,400.0 773.8,347.9 774.1,400.0 774.4,349.7 774.7,399.9 775.0,348.7 775.3,399.3 775.6,343.7 776.0,398.2 776.3,348.5 776.6,348.2 776.9,349.1 777.2,347.4 777.5,349.2 777.8,349.9 778.1,348.4 778.4,348.1 778.8,347.9 779.1,350.5 779.4,350.5 779.7,398.3 780.0,349.2 780.3,399.4 780.6,350.3 780.9,399.9 781.2,352.0 781.5,400.0 781.9,349.6 782.2,400.0 782.5,349.5 782.8,399.9 783.1,352.4 783.4,399.4 783.7,350.0 784.0,398.2 784.3,351.6 784.7,350.8 785.0,353.7 785.3,351.5 785.6,350.4 785.9,353.6 786.2,354.1 786.5,351.4 786.8,349.6 787.1,351.4 787.5,352.5 787.8,351.2 788.1,352.6 788.4,353.2 788.7,398.3 789.0,353.8 789.3,399.4 789.6,353.8 789.9,399.9 790.3,354.1 790.6,400.0 790.9,352.8 791.2,400.0 791.5,352.4 791.8,400.0 792.1,351.6 792.4,400.0 792.7,352.0 793.1,399.8 793.4,353.2 793.7,399.1 794.0,398.5 794.3,354.1 794.6,357.3 794.9,354.0 795.2,351.8 795.5,351.6 795.9,352.6 796.2,352.8 796.5,351.8 796.8,352.4 797.1,351.8 797.4,354.4 797.7,354.8 798.0,398.6 798.3,352.6 798.6,399.6 799.0,353.6 799.3,400.0 799.6,352.7 799.9,400.0 800.2,354.7 800.5,400.0 800.8,350.7 801.1,400.0 801.4,349.8 801.8,400.0 802.1,349.1 802.4,400.0 802.7,349.5 803.0,399.7 803.3,348.7 803.6,398.9" stroke="#1f77b4" stroke-width="2.08"/>
<polyline points="496.6,349.3 499.7,350.2 502.8,353.0 505.9,353.3 509.0,351.2 512.1,352.3 515.3,353.9 518.4,353.1 521.5,353.3 524.6,351.6 527.7,352.0 530.8,353.7 533.9,351.6 537.0,350.6 540.1,349.7 543.2,348.7 546.3,348.3 549.5,346.9 552.6,347.7 555.7,347.9 558.8,345.9 561.9,345.0 565.0,329.3 568.1,264.4 571.2,184.7 574.3,252.1 577.4,317.8 580.5,335.1 583.7,339.0 586.8,336.4 589.9,339.2 593.0,340.6 596.1,337.2 599.2,336.4 602.3,338.0 605.4,338.4 608.5,338.5 611.6,338.0 614.7,337.4 617.9,336.0 621.0,335.2 624.1,335.5 627.2,335.4 630.3,334.2 633.4,332.9 636.5,332.0 639.6,329.5 642.7,329.3 645.8,319.5 648.9,400.0 652.1,400.0 655.2,320.3 658.3,331.4 661.4,331.2 664.5,332.8 667.6,333.1 670.7,333.0 673.8,335.5 676.9,336.6 680.0,337.3 683.1,337.4 686.3,338.1 689.4,338.0 692.5,338.7 695.6,341.8 698.7,341.4 701.8,340.6 704.9,339.5 708.0,336.6 711.1,335.8 714.2,337.5 717.3,338.5 720.5,332.6 723.6,285.0 726.7,223.6 729.8,233.2 732.9,327.7 736.0,340.0 739.1,345.2 742.2,347.3 745.3,348.2 748.4,349.5 751.5,350.6 754.7,349.3 757.8,348.0 760.9,346.7 764.0,345.4 767.1,344.4 770.2,346.9 773.3,350.3 776.4,350.7 779.5,351.0 782.6,350.9 785.7,352.6 788.9,355.3 792.0,357.0 795.1,356.9 798.2,354.1 801.3,352.3 804.4,348.2" stroke="#ff7f0e" stroke-width="2.08"/>
</g>
<rect x="479.5" y="32.5" width="342.0" height="385.0" fill="none" stroke="#000" stroke-width="1.11"/>
<line x1="517.3" x2="517.3" y1="417.5" y2="422.36" stroke="#000" stroke-width="1.11"/>
<text x="516.0" y="437.8" font-size="14.30" text-anchor="middle" textLength="19.6" lengthAdjust="spacingAndGlyphs">−6</text>
<line x1="561.7" x2="561.7" y1="417.5" y2="422.36" stroke="#000" stroke-width="1.11"/>
<text x="560.4" y="437.8" font-size="14.30" text-anchor="middle" textLength="19.6" lengthAdjust="spacingAndGlyphs">−4</text>
<line x1="606.1" x2="606.1" y1="417.5" y2="422.36" stroke="#000" stroke-width="1.11"/>
<text x="604.8" y="437.8" font-size="14.30" text-anchor="middle" textLength="19.6" lengthAdjust="spacingAndGlyphs">−2</text>
<line x1="650.5" x2="650.5" y1="417.5" y2="422.36" stroke="#000" stroke-width="1.11"/>
<text x="650.5" y="437.8" font-size="14.30" text-anchor="middle">0</text>
<line x1="694.9" x2="694.9" y1="417.5" y2="422.36" stroke="#000" stroke-width="1.11"/>
<text x="694.9" y="437.8" font-size="14.30" text-anchor="middle">2</text>
<line x1="739.3" x2="739.3" y1="417.5" y2="422.36" stroke="#000" stroke-width="1.11"/>
<text x="739.3" y="437.8" font-size="14.30" text-anchor="middle">4</text>
<line x1="783.7" x2="783.7" y1="417.5" y2="422.36" stroke="#000" stroke-width="1.11"/>
<text x="783.7" y="437.8" font-size="14.30" text-anchor="middle">6</text>
<line x1="474.64" x2="479.5" y1="400.0" y2="400.0" stroke="#000" stroke-width="1.11"/>
<text x="468.9" y="404.9" font-size="14.30" text-anchor="end">0</text>
<line x1="474.64" x2="479.5" y1="317.8" y2="317.8" stroke="#000" stroke-width="1.11"/>
<text x="468.9" y="322.7" font-size="14.30" text-anchor="end" textLength="25.1" lengthAdjust="spacingAndGlyphs">100</text>
<line x1="474.64" x2="479.5" y1="235.7" y2="235.7" stroke="#000" stroke-width="1.11"/>
<text x="468.9" y="240.6" font-size="14.30" text-anchor="end" textLength="25.1" lengthAdjust="spacingAndGlyphs">200</text>
<line x1="474.64" x2="479.5" y1="153.5" y2="153.5" stroke="#000" stroke-width="1.11"/>
<text x="468.9" y="158.4" font-size="14.30" text-anchor="end" textLength="25.1" lengthAdjust="spacingAndGlyphs">300</text>
<line x1="474.64" x2="479.5" y1="71.4" y2="71.4" stroke="#000" stroke-width="1.11"/>
<text x="468.9" y="76.3" font-size="14.30" text-anchor="end" textLength="25.1" lengthAdjust="spacingAndGlyphs">400</text>
<text x="650.9" y="23.7" font-size="17.20" text-anchor="middle" textLength="271.7" lengthAdjust="spacingAndGlyphs">Pixel-splitting=no, low-resolution</text>
<g transform="translate(554.0,460.5)">
<text x="-0.8" y="0.0" font-size="14.30" text-anchor="start" textLength="120.2" lengthAdjust="spacingAndGlyphs">Scattering vector</text>
<text x="123.6" y="0.0" font-size="14.60" text-anchor="start" font-style="italic">q</text>
<text x="130.9" y="2.7" font-size="10.60" text-anchor="start" textLength="10.6" lengthAdjust="spacingAndGlyphs" font-style="italic">IP</text>
<text x="146.3" y="0.0" font-size="14.30" text-anchor="start">(</text>
<text x="151.1" y="0.0" font-size="14.60" text-anchor="start" textLength="21.0" lengthAdjust="spacingAndGlyphs" font-style="italic">nm</text>
<text x="174.4" y="-5.2" font-size="10.40" text-anchor="start" textLength="13.0" lengthAdjust="spacingAndGlyphs">−1</text>
<text x="189.1" y="0.0" font-size="14.30" text-anchor="start">)</text>
</g>
<g transform="translate(435,227.1) rotate(-90)">
<text x="-29.0" y="0.0" font-size="14.30" text-anchor="start" textLength="58.0" lengthAdjust="spacingAndGlyphs">Intensity</text>
</g>
<rect x="675.5" y="39.2" width="138.9" height="46.3" rx="2.8" fill="#fff" fill-opacity="0.8" stroke="#ccc" stroke-width="1.11"/>
<line x1="679.1" x2="708.9" y1="51.2" y2="51.2" stroke="#1f77b4" stroke-width="2.08"/>
<line x1="679.1" x2="708.9" y1="71.9" y2="71.9" stroke="#ff7f0e" stroke-width="2.08"/>
<text x="719.3" y="56.0" font-size="14.30" text-anchor="start" textLength="88.2" lengthAdjust="spacingAndGlyphs">npt_ip=1000</text>
<text x="719.3" y="76.7" font-size="14.30" text-anchor="start" textLength="79.3" lengthAdjust="spacingAndGlyphs">npt_ip=100</text>
<clipPath id="c3"><rect x="890.5" y="32.5" width="342" height="385"/></clipPath>
<g clip-path="url(#c3)" fill="none" stroke-linejoin="round" stroke-linecap="butt">
<polyline points="906.2,384.1 906.5,386.6 906.8,390.0 907.1,388.0 907.4,390.3 907.8,394.5 908.1,397.3 908.4,390.4 908.7,392.9 909.0,396.9 909.3,391.4 909.6,391.6 909.9,394.4 910.2,394.2 910.6,392.6 910.9,392.4 911.2,396.6 911.5,396.8 911.8,395.4 912.1,396.6 912.4,393.6 912.7,390.7 913.0,388.9 913.4,391.2 913.7,391.1 914.0,387.4 914.3,387.4 914.6,387.1 914.9,390.5 915.2,394.3 915.5,391.1 915.8,393.9 916.1,394.7 916.5,393.1 916.8,394.4 917.1,396.8 917.4,397.5 917.7,393.4 918.0,388.9 918.3,388.1 918.6,389.8 918.9,392.6 919.3,394.5 919.6,392.8 919.9,391.0 920.2,390.4 920.5,385.6 920.8,387.4 921.1,394.6 921.4,396.1 921.7,395.3 922.1,395.5 922.4,389.0 922.7,386.6 923.0,393.0 923.3,392.4 923.6,386.5 923.9,387.8 924.2,392.9 924.5,393.6 924.9,392.3 925.2,390.5 925.5,388.0 925.8,386.8 926.1,386.8 926.4,385.6 926.7,387.4 927.0,394.0 927.3,395.9 927.7,390.7 928.0,390.5 928.3,389.0 928.6,388.9 928.9,392.9 929.2,389.1 929.5,385.4 929.8,387.2 930.1,385.9 930.5,384.3 930.8,386.0 931.1,393.7 931.4,395.2 931.7,390.9 932.0,391.5 932.3,389.8 932.6,385.6 932.9,387.5 933.2,392.7 933.6,387.6 933.9,386.8 934.2,394.9 934.5,392.4 934.8,388.4 935.1,390.1 935.4,388.6 935.7,388.2 936.0,392.0 936.4,390.0 936.7,386.0 937.0,387.8 937.3,389.1 937.6,388.6 937.9,383.6 938.2,385.1 938.5,388.2 938.8,386.3 939.2,389.8 939.5,387.7 939.8,385.0 940.1,383.8 940.4,385.1 940.7,389.0 941.0,390.8 941.3,388.0 941.6,385.3 942.0,383.8 942.3,384.2 942.6,385.0 942.9,382.4 943.2,384.3 943.5,391.0 943.8,393.9 944.1,393.9 944.4,388.5 944.8,386.1 945.1,386.4 945.4,383.2 945.7,381.8 946.0,380.9 946.3,384.4 946.6,387.3 946.9,387.2 947.2,386.0 947.6,388.0 947.9,388.7 948.2,383.6 948.5,387.5 948.8,390.4 949.1,390.2 949.4,390.1 949.7,386.5 950.0,386.8 950.4,386.2 950.7,389.5 951.0,388.9 951.3,386.7 951.6,387.5 951.9,384.6 952.2,391.9 952.5,393.6 952.8,386.9 953.1,382.0 953.5,381.5 953.8,384.3 954.1,387.9 954.4,385.1 954.7,377.5 955.0,380.0 955.3,384.1 955.6,388.3 955.9,385.9 956.3,375.9 956.6,376.2 956.9,379.4 957.2,379.1 957.5,383.8 957.8,382.0 958.1,382.7 958.4,385.0 958.7,381.1 959.1,378.9 959.4,378.5 959.7,379.8 960.0,383.3 960.3,387.2 960.6,385.2 960.9,383.8 961.2,387.9 961.5,389.6 961.9,387.9 962.2,389.5 962.5,390.6 962.8,389.1 963.1,384.8 963.4,379.9 963.7,375.8 964.0,379.8 964.3,386.4 964.7,380.9 965.0,379.3 965.3,381.9 965.6,377.6 965.9,378.3 966.2,384.8 966.5,386.4 966.8,382.1 967.1,377.6 967.5,381.2 967.8,384.3 968.1,379.7 968.4,375.8 968.7,378.3 969.0,378.5 969.3,375.8 969.6,381.5 969.9,383.0 970.2,377.8 970.6,377.6 970.9,383.8 971.2,383.1 971.5,376.6 971.8,372.0 972.1,378.5 972.4,376.0 972.7,373.2 973.0,376.7 973.4,371.2 973.7,370.9 974.0,373.8 974.3,378.1 974.6,376.9 974.9,375.3 975.2,381.7 975.5,374.1 975.8,366.5 976.2,368.4 976.5,371.3 976.8,371.1 977.1,364.3 977.4,362.4 977.7,364.1 978.0,367.9 978.3,364.0 978.6,360.9 979.0,356.5 979.3,339.3 979.6,319.2 979.9,292.1 980.2,249.7 980.5,194.7 980.8,142.1 981.1,108.8 981.4,84.3 981.8,71.2 982.1,66.6 982.4,49.1 982.7,65.9 983.0,77.0 983.3,94.9 983.6,122.2 983.9,157.1 984.2,208.9 984.5,260.5 984.9,298.7 985.2,326.3 985.5,342.8 985.8,347.3 986.1,344.9 986.4,352.0 986.7,361.9 987.0,363.8 987.3,363.8 987.7,364.2 988.0,363.6 988.3,365.1 988.6,364.4 988.9,366.1 989.2,367.9 989.5,370.7 989.8,371.2 990.1,371.3 990.5,370.9 990.8,370.0 991.1,370.2 991.4,368.2 991.7,372.5 992.0,376.4 992.3,375.3 992.6,371.9 992.9,366.7 993.3,366.3 993.6,370.7 993.9,369.1 994.2,370.5 994.5,369.6 994.8,367.4 995.1,376.6 995.4,369.1 995.7,358.6 996.1,366.8 996.4,370.5 996.7,368.9 997.0,369.8 997.3,373.5 997.6,374.9 997.9,371.4 998.2,369.8 998.5,368.1 998.9,368.8 999.2,365.8 999.5,368.0 999.8,372.6 1000.1,375.3 1000.4,378.6 1000.7,371.0 1001.0,369.6 1001.3,371.6 1001.6,369.6 1002.0,373.2 1002.3,373.0 1002.6,371.7 1002.9,371.4 1003.2,368.4 1003.5,365.6 1003.8,368.8 1004.1,372.1 1004.4,369.8 1004.8,367.7 1005.1,366.1 1005.4,359.4 1005.7,360.1 1006.0,365.9 1006.3,368.2 1006.6,370.7 1006.9,372.0 1007.2,372.6 1007.6,372.1 1007.9,370.9 1008.2,368.9 1008.5,368.2 1008.8,370.5 1009.1,372.8 1009.4,367.7 1009.7,364.4 1010.0,363.4 1010.4,362.6 1010.7,363.9 1011.0,365.9 1011.3,368.4 1011.6,362.0 1011.9,366.5 1012.2,369.9 1012.5,362.6 1012.8,365.5 1013.2,366.8 1013.5,364.3 1013.8,366.7 1014.1,368.3 1014.4,368.7 1014.7,370.0 1015.0,369.3 1015.3,368.8 1015.6,366.1 1016.0,365.2 1016.3,369.2 1016.6,365.7 1016.9,360.0 1017.2,362.9 1017.5,366.6 1017.8,369.0 1018.1,367.1 1018.4,366.3 1018.8,371.3 1019.1,369.9 1019.4,359.5 1019.7,365.4 1020.0,369.4 1020.3,364.1 1020.6,366.4 1020.9,363.5 1021.2,366.0 1021.5,368.2 1021.9,361.9 1022.2,363.0 1022.5,367.5 1022.8,366.8 1023.1,367.2 1023.4,363.2 1023.7,364.3 1024.0,365.7 1024.3,366.5 1024.7,366.7 1025.0,364.2 1025.3,370.8 1025.6,370.6 1025.9,366.9 1026.2,368.0 1026.5,362.1 1026.8,363.4 1027.1,369.6 1027.5,363.4 1027.8,359.9 1028.1,360.0 1028.4,358.8 1028.7,364.2 1029.0,364.9 1029.3,359.4 1029.6,356.7 1029.9,358.6 1030.3,360.9 1030.6,362.0 1030.9,362.8 1031.2,358.6 1031.5,357.3 1031.8,365.3 1032.1,366.3 1032.4,361.7 1032.7,359.6 1033.1,361.2 1033.4,363.1 1033.7,363.1 1034.0,364.9 1034.3,367.9 1034.6,361.3 1034.9,359.2 1035.2,360.2 1035.5,356.9 1035.8,356.4 1036.2,359.6 1036.5,356.4 1036.8,354.9 1037.1,360.4 1037.4,360.5 1037.7,359.4 1038.0,362.5 1038.3,363.2 1038.6,361.5 1039.0,365.8 1039.3,365.2 1039.6,361.7 1039.9,362.1 1040.2,364.5 1040.5,363.6 1040.8,360.5 1041.1,359.2 1041.4,361.3 1041.8,359.8 1042.1,359.9 1042.4,361.5 1042.7,355.2 1043.0,356.2 1043.3,360.2 1043.6,356.1 1043.9,355.2 1044.2,358.6 1044.6,357.8 1044.9,354.6 1045.2,359.8 1045.5,364.2 1045.8,361.2 1046.1,362.3 1046.4,361.4 1046.7,360.6 1047.0,357.6 1047.4,356.8 1047.7,357.5 1048.0,354.9 1048.3,356.5 1048.6,356.9 1048.9,350.2 1049.2,349.4 1049.5,354.9 1049.8,355.4 1050.2,356.6 1050.5,355.8 1050.8,350.2 1051.1,352.5 1051.4,354.8 1051.7,350.8 1052.0,350.9 1052.3,352.5 1052.6,353.5 1053.0,355.8 1053.3,354.5 1053.6,348.1 1053.9,347.4 1054.2,353.5 1054.5,352.6 1054.8,317.6 1055.1,349.4 1055.4,349.4 1055.7,349.4 1056.1,349.4 1056.4,349.4 1056.7,349.4 1057.0,349.4 1057.3,349.4 1057.6,349.4 1057.9,349.4 1058.2,349.4 1058.5,349.4 1058.9,349.4 1059.2,349.4 1059.5,349.4 1059.8,349.4 1060.1,349.4 1060.4,349.4 1060.7,349.4 1061.0,349.4 1061.3,349.4 1061.7,349.4 1062.0,349.4 1062.3,349.4 1062.6,349.4 1062.9,349.4 1063.2,349.4 1063.5,349.4 1063.8,349.4 1064.1,349.4 1064.5,349.4 1064.8,349.4 1065.1,349.4 1065.4,349.4 1065.7,349.4 1066.0,349.4 1066.3,349.4 1066.6,311.9 1066.9,355.3 1067.3,358.5 1067.6,357.7 1067.9,355.9 1068.2,358.8 1068.5,355.5 1068.8,355.9 1069.1,358.5 1069.4,358.7 1069.7,356.1 1070.0,353.7 1070.4,352.7 1070.7,356.5 1071.0,359.2 1071.3,360.2 1071.6,357.7 1071.9,360.6 1072.2,358.6 1072.5,355.6 1072.8,359.9 1073.2,357.8 1073.5,354.5 1073.8,354.1 1074.1,354.2 1074.4,354.5 1074.7,354.3 1075.0,351.8 1075.3,355.2 1075.6,355.1 1076.0,354.7 1076.3,357.3 1076.6,360.9 1076.9,361.3 1077.2,358.6 1077.5,360.6 1077.8,361.1 1078.1,356.9 1078.4,358.0 1078.8,363.4 1079.1,364.4 1079.4,357.9 1079.7,360.2 1080.0,361.9 1080.3,366.1 1080.6,364.9 1080.9,361.5 1081.2,361.0 1081.6,364.5 1081.9,364.7 1082.2,361.2 1082.5,360.9 1082.8,361.5 1083.1,364.3 1083.4,357.5 1083.7,358.1 1084.0,365.0 1084.4,364.1 1084.7,365.6 1085.0,362.4 1085.3,356.1 1085.6,360.7 1085.9,368.6 1086.2,364.5 1086.5,358.4 1086.8,359.5 1087.2,359.3 1087.5,363.3 1087.8,366.5 1088.1,368.0 1088.4,371.5 1088.7,366.8 1089.0,365.3 1089.3,362.2 1089.6,360.1 1089.9,366.4 1090.3,364.7 1090.6,359.5 1090.9,360.2 1091.2,366.0 1091.5,366.2 1091.8,360.1 1092.1,361.7 1092.4,366.0 1092.7,363.1 1093.1,360.5 1093.4,364.9 1093.7,366.3 1094.0,366.4 1094.3,364.5 1094.6,363.1 1094.9,361.8 1095.2,360.6 1095.5,366.8 1095.9,368.6 1096.2,363.0 1096.5,362.7 1096.8,362.0 1097.1,365.0 1097.4,369.2 1097.7,365.8 1098.0,366.0 1098.3,373.2 1098.7,368.2 1099.0,365.4 1099.3,369.3 1099.6,371.5 1099.9,373.2 1100.2,373.3 1100.5,371.6 1100.8,368.6 1101.1,372.3 1101.5,371.3 1101.8,369.1 1102.1,372.8 1102.4,368.2 1102.7,366.6 1103.0,371.8 1103.3,367.1 1103.6,365.4 1103.9,369.8 1104.2,368.7 1104.6,366.3 1104.9,368.2 1105.2,369.5 1105.5,369.7 1105.8,369.3 1106.1,369.9 1106.4,373.7 1106.7,367.6 1107.0,365.2 1107.4,368.9 1107.7,363.4 1108.0,362.4 1108.3,369.7 1108.6,369.1 1108.9,369.7 1109.2,369.4 1109.5,363.8 1109.8,367.8 1110.2,371.3 1110.5,370.5 1110.8,369.5 1111.1,372.2 1111.4,370.9 1111.7,373.1 1112.0,374.8 1112.3,370.4 1112.6,369.9 1113.0,368.1 1113.3,369.9 1113.6,369.0 1113.9,366.7 1114.2,369.5 1114.5,371.8 1114.8,372.3 1115.1,368.7 1115.4,367.6 1115.8,368.7 1116.1,364.3 1116.4,362.3 1116.7,360.1 1117.0,362.5 1117.3,368.6 1117.6,366.2 1117.9,362.9 1118.2,362.8 1118.6,363.5 1118.9,362.6 1119.2,360.4 1119.5,361.7 1119.8,362.1 1120.1,362.3 1120.4,362.8 1120.7,363.1 1121.0,361.9 1121.3,363.4 1121.7,363.0 1122.0,361.7 1122.3,364.0 1122.6,364.2 1122.9,367.5 1123.2,363.0 1123.5,363.3 1123.8,370.3 1124.1,370.7 1124.5,367.2 1124.8,361.0 1125.1,358.8 1125.4,361.9 1125.7,364.1 1126.0,364.9 1126.3,361.2 1126.6,358.0 1126.9,361.3 1127.3,364.4 1127.6,362.1 1127.9,366.1 1128.2,366.8 1128.5,365.1 1128.8,370.8 1129.1,368.8 1129.4,361.7 1129.7,364.8 1130.1,369.2 1130.4,364.6 1130.7,361.3 1131.0,361.0 1131.3,359.3 1131.6,361.4 1131.9,361.7 1132.2,360.9 1132.5,361.6 1132.9,360.2 1133.2,359.8 1133.5,355.3 1133.8,354.8 1134.1,354.8 1134.4,352.9 1134.7,348.3 1135.0,343.4 1135.3,334.7 1135.7,316.4 1136.0,288.9 1136.3,250.4 1136.6,204.6 1136.9,158.5 1137.2,125.5 1137.5,111.2 1137.8,104.8 1138.1,89.8 1138.5,97.5 1138.8,109.7 1139.1,122.7 1139.4,144.3 1139.7,176.9 1140.0,222.9 1140.3,266.1 1140.6,302.8 1140.9,328.3 1141.2,343.0 1141.6,348.7 1141.9,353.2 1142.2,361.5 1142.5,362.1 1142.8,361.1 1143.1,367.2 1143.4,371.3 1143.7,373.0 1144.0,373.4 1144.4,372.3 1144.7,374.0 1145.0,375.9 1145.3,376.6 1145.6,377.0 1145.9,375.5 1146.2,371.5 1146.5,377.9 1146.8,382.3 1147.2,378.8 1147.5,378.6 1147.8,380.4 1148.1,382.3 1148.4,383.0 1148.7,381.3 1149.0,378.9 1149.3,381.5 1149.6,380.5 1150.0,381.7 1150.3,385.8 1150.6,383.8 1150.9,379.7 1151.2,381.2 1151.5,379.7 1151.8,376.7 1152.1,381.0 1152.4,385.7 1152.8,379.2 1153.1,374.3 1153.4,380.2 1153.7,385.9 1154.0,386.4 1154.3,384.9 1154.6,387.3 1154.9,386.8 1155.2,386.7 1155.5,389.4 1155.9,384.9 1156.2,384.0 1156.5,386.6 1156.8,384.1 1157.1,383.2 1157.4,386.3 1157.7,388.3 1158.0,389.0 1158.3,385.9 1158.7,382.8 1159.0,388.6 1159.3,390.0 1159.6,386.6 1159.9,385.0 1160.2,382.0 1160.5,379.8 1160.8,385.4 1161.1,388.6 1161.5,390.2 1161.8,389.9 1162.1,387.0 1162.4,380.1 1162.7,380.4 1163.0,391.3 1163.3,392.4 1163.6,387.0 1163.9,388.0 1164.3,390.4 1164.6,387.4 1164.9,384.7 1165.2,385.2 1165.5,387.6 1165.8,384.8 1166.1,383.7 1166.4,386.4 1166.7,388.3 1167.1,388.1 1167.4,383.6 1167.7,384.7 1168.0,386.2 1168.3,381.1 1168.6,381.3 1168.9,382.8 1169.2,384.6 1169.5,382.0 1169.9,377.2 1170.2,379.6 1170.5,385.6 1170.8,388.6 1171.1,381.4 1171.4,374.5 1171.7,375.3 1172.0,376.1 1172.3,377.6 1172.7,379.9 1173.0,378.7 1173.3,377.7 1173.6,380.2 1173.9,379.1 1174.2,373.4 1174.5,377.9 1174.8,384.0 1175.1,380.9 1175.4,380.2 1175.8,386.3 1176.1,383.2 1176.4,377.6 1176.7,381.3 1177.0,376.6 1177.3,375.7 1177.6,382.7 1177.9,382.6 1178.2,383.6 1178.6,385.4 1178.9,382.5 1179.2,382.2 1179.5,383.9 1179.8,379.9 1180.1,377.2 1180.4,378.3 1180.7,380.4 1181.0,381.1 1181.4,379.3 1181.7,381.1 1182.0,381.0 1182.3,382.6 1182.6,387.5 1182.9,388.0 1183.2,388.9 1183.5,384.1 1183.8,380.2 1184.2,383.0 1184.5,385.7 1184.8,384.6 1185.1,387.1 1185.4,388.9 1185.7,387.6 1186.0,388.8 1186.3,389.2 1186.6,385.8 1187.0,387.8 1187.3,390.8 1187.6,392.9 1187.9,386.9 1188.2,387.1 1188.5,388.2 1188.8,384.0 1189.1,388.1 1189.4,391.2 1189.8,388.3 1190.1,380.7 1190.4,384.8 1190.7,389.0 1191.0,384.8 1191.3,384.6 1191.6,383.0 1191.9,385.1 1192.2,388.5 1192.5,390.6 1192.9,387.7 1193.2,387.1 1193.5,396.9 1193.8,396.3 1194.1,390.9 1194.4,386.5 1194.7,387.0 1195.0,392.0 1195.3,390.0 1195.7,386.9 1196.0,388.3 1196.3,389.7 1196.6,387.4 1196.9,390.3 1197.2,391.3 1197.5,391.5 1197.8,394.4 1198.1,391.1 1198.5,392.4 1198.8,392.9 1199.1,388.2 1199.4,391.5 1199.7,395.9 1200.0,396.5 1200.3,393.7 1200.6,390.5 1200.9,391.5 1201.3,391.5 1201.6,394.0 1201.9,395.9 1202.2,398.0 1202.5,396.7 1202.8,392.8 1203.1,395.3 1203.4,393.9 1203.7,391.9 1204.1,400.2 1204.4,401.0 1204.7,396.9 1205.0,395.0 1205.3,386.4 1205.6,389.5 1205.9,395.0 1206.2,394.6 1206.5,393.8 1206.8,392.1 1207.2,389.8 1207.5,394.2 1207.8,392.8 1208.1,392.1 1208.4,395.0 1208.7,390.0 1209.0,388.4 1209.3,392.4 1209.6,395.1 1210.0,394.0 1210.3,392.1 1210.6,388.7 1210.9,392.0 1211.2,393.7 1211.5,388.9 1211.8,388.1 1212.1,387.8 1212.4,385.6 1212.8,384.9 1213.1,385.8 1213.4,384.8 1213.7,382.1 1214.0,387.0 1214.3,388.0 1214.6,384.5 1214.9,388.0 1215.2,388.9 1215.6,392.6 1215.9,391.3 1216.2,388.7 1216.5,386.2 1216.8,387.5" stroke="#1f77b4" stroke-width="2.08"/>
<polyline points="906.2,384.1 906.5,386.6 906.8,390.0 907.1,388.0 907.4,390.3 907.8,394.5 908.1,397.3 908.4,390.4 908.7,392.9 909.0,396.9 909.3,391.4 909.6,391.6 909.9,394.4 910.2,394.2 910.6,392.6 910.9,392.4 911.2,396.6 911.5,396.8 911.8,395.4 912.1,396.6 912.4,393.6 912.7,390.7 913.0,388.9 913.4,391.2 913.7,391.1 914.0,387.4 914.3,387.4 914.6,387.1 914.9,390.5 915.2,394.3 915.5,391.1 915.8,393.9 916.1,394.7 916.5,393.1 916.8,394.4 917.1,396.8 917.4,397.5 917.7,393.4 918.0,388.9 918.3,388.1 918.6,389.8 918.9,392.6 919.3,394.5 919.6,392.8 919.9,391.0 920.2,390.4 920.5,385.6 920.8,387.4 921.1,394.6 921.4,396.1 921.7,395.3 922.1,395.5 922.4,389.0 922.7,386.6 923.0,393.0 923.3,392.4 923.6,386.5 923.9,387.8 924.2,392.9 924.5,393.6 924.9,392.3 925.2,390.5 925.5,388.0 925.8,386.8 926.1,386.8 926.4,385.6 926.7,387.4 927.0,394.0 927.3,395.9 927.7,390.7 928.0,390.5 928.3,389.0 928.6,388.9 928.9,392.9 929.2,389.1 929.5,385.4 929.8,387.2 930.1,385.9 930.5,384.3 930.8,386.0 931.1,393.7 931.4,395.2 931.7,390.9 932.0,391.5 932.3,389.8 932.6,385.6 932.9,387.5 933.2,392.7 933.6,387.6 933.9,386.8 934.2,394.9 934.5,392.4 934.8,388.4 935.1,390.1 935.4,388.6 935.7,388.2 936.0,392.0 936.4,390.0 936.7,386.0 937.0,387.8 937.3,389.1 937.6,388.6 937.9,383.6 938.2,385.1 938.5,388.2 938.8,386.3 939.2,389.8 939.5,387.7 939.8,385.0 940.1,383.8 940.4,385.1 940.7,389.0 941.0,390.8 941.3,388.0 941.6,385.3 942.0,383.8 942.3,384.2 942.6,385.0 942.9,382.4 943.2,384.3 943.5,391.0 943.8,393.9 944.1,393.9 944.4,388.5 944.8,386.1 945.1,386.4 945.4,383.2 945.7,381.8 946.0,380.9 946.3,384.4 946.6,387.3 946.9,387.2 947.2,386.0 947.6,388.0 947.9,388.7 948.2,383.6 948.5,387.5 948.8,390.4 949.1,390.2 949.4,390.1 949.7,386.5 950.0,386.8 950.4,386.2 950.7,389.5 951.0,388.9 951.3,386.7 951.6,387.5 951.9,384.6 952.2,391.9 952.5,393.6 952.8,386.9 953.1,382.0 953.5,381.5 953.8,384.3 954.1,387.9 954.4,385.1 954.7,377.5 955.0,380.0 955.3,384.1 955.6,388.3 955.9,385.9 956.3,375.9 956.6,376.2 956.9,379.4 957.2,379.1 957.5,383.8 957.8,382.0 958.1,382.7 958.4,385.0 958.7,381.1 959.1,378.9 959.4,378.5 959.7,379.8 960.0,383.3 960.3,387.2 960.6,385.2 960.9,383.8 961.2,387.9 961.5,389.6 961.9,387.9 962.2,389.5 962.5,390.6 962.8,389.1 963.1,384.8 963.4,379.9 963.7,375.8 964.0,379.8 964.3,386.4 964.7,380.9 965.0,379.3 965.3,381.9 965.6,377.6 965.9,378.3 966.2,384.8 966.5,386.4 966.8,382.1 967.1,377.6 967.5,381.2 967.8,384.3 968.1,379.7 968.4,375.8 968.7,378.3 969.0,378.5 969.3,375.8 969.6,381.5 969.9,383.0 970.2,377.8 970.6,377.6 970.9,383.8 971.2,383.1 971.5,376.6 971.8,372.0 972.1,378.5 972.4,376.0 972.7,373.2 973.0,376.7 973.4,371.2 973.7,370.9 974.0,373.8 974.3,378.1 974.6,376.9 974.9,375.3 975.2,381.7 975.5,374.1 975.8,366.5 976.2,368.4 976.5,371.3 976.8,371.1 977.1,364.3 977.4,362.4 977.7,364.1 978.0,367.9 978.3,364.0 978.6,360.9 979.0,356.5 979.3,339.3 979.6,319.2 979.9,292.1 980.2,249.7 980.5,194.7 980.8,142.1 981.1,108.8 981.4,84.3 981.8,71.2 982.1,66.6 982.4,49.1 982.7,65.9 983.0,77.0 983.3,94.9 983.6,122.2 983.9,157.1 984.2,208.9 984.5,260.5 984.9,298.7 985.2,326.3 985.5,342.8 985.8,347.3 986.1,344.9 986.4,352.0 986.7,361.9 987.0,363.8 987.3,363.8 987.7,364.2 988.0,363.6 988.3,365.1 988.6,364.4 988.9,366.1 989.2,367.9 989.5,370.7 989.8,371.2 990.1,371.3 990.5,370.9 990.8,370.0 991.1,370.2 991.4,368.2 991.7,372.5 992.0,376.4 992.3,375.3 992.6,371.9 992.9,366.7 993.3,366.3 993.6,370.7 993.9,369.1 994.2,370.5 994.5,369.6 994.8,367.4 995.1,376.6 995.4,369.1 995.7,358.6 996.1,366.8 996.4,370.5 996.7,368.9 997.0,369.8 997.3,373.5 997.6,374.9 997.9,371.4 998.2,369.8 998.5,368.1 998.9,368.8 999.2,365.8 999.5,368.0 999.8,372.6 1000.1,375.3 1000.4,378.6 1000.7,371.0 1001.0,369.6 1001.3,371.6 1001.6,369.6 1002.0,373.2 1002.3,373.0 1002.6,371.7 1002.9,371.4 1003.2,368.4 1003.5,365.6 1003.8,368.8 1004.1,372.1 1004.4,369.8 1004.8,367.7 1005.1,366.1 1005.4,359.4 1005.7,360.1 1006.0,365.9 1006.3,368.2 1006.6,370.7 1006.9,372.0 1007.2,372.6 1007.6,372.1 1007.9,370.9 1008.2,368.9 1008.5,368.2 1008.8,370.5 1009.1,372.8 1009.4,367.7 1009.7,364.4 1010.0,363.4 1010.4,362.6 1010.7,363.9 1011.0,365.9 1011.3,368.4 1011.6,362.0 1011.9,366.5 1012.2,369.9 1012.5,362.6 1012.8,365.5 1013.2,366.8 1013.5,364.3 1013.8,366.7 1014.1,368.3 1014.4,368.7 1014.7,370.0 1015.0,369.3 1015.3,368.8 1015.6,366.1 1016.0,365.2 1016.3,369.2 1016.6,365.7 1016.9,360.0 1017.2,362.9 1017.5,366.6 1017.8,369.0 1018.1,367.1 1018.4,366.3 1018.8,371.3 1019.1,369.9 1019.4,359.5 1019.7,365.4 1020.0,369.4 1020.3,364.1 1020.6,366.4 1020.9,363.5 1021.2,366.0 1021.5,368.2 1021.9,361.9 1022.2,363.0 1022.5,367.5 1022.8,366.8 1023.1,367.2 1023.4,363.2 1023.7,364.3 1024.0,365.7 1024.3,366.5 1024.7,366.7 1025.0,364.2 1025.3,370.8 1025.6,370.6 1025.9,366.9 1026.2,368.0 1026.5,362.1 1026.8,363.4 1027.1,369.6 1027.5,363.4 1027.8,359.9 1028.1,360.0 1028.4,358.8 1028.7,364.2 1029.0,364.9 1029.3,359.4 1029.6,356.7 1029.9,358.6 1030.3,360.9 1030.6,362.0 1030.9,362.8 1031.2,358.6 1031.5,357.3 1031.8,365.3 1032.1,366.3 1032.4,361.7 1032.7,359.6 1033.1,361.2 1033.4,363.1 1033.7,363.1 1034.0,364.9 1034.3,367.9 1034.6,361.3 1034.9,359.2 1035.2,360.2 1035.5,356.9 1035.8,356.4 1036.2,359.6 1036.5,356.4 1036.8,354.9 1037.1,360.4 1037.4,360.5 1037.7,359.4 1038.0,362.5 1038.3,363.2 1038.6,361.5 1039.0,365.8 1039.3,365.2 1039.6,361.7 1039.9,362.1 1040.2,364.5 1040.5,363.6 1040.8,360.5 1041.1,359.2 1041.4,361.3 1041.8,359.8 1042.1,359.9 1042.4,361.5 1042.7,355.2 1043.0,356.2 1043.3,360.2 1043.6,356.1 1043.9,355.2 1044.2,358.6 1044.6,357.8 1044.9,354.6 1045.2,359.8 1045.5,364.2 1045.8,361.2 1046.1,362.3 1046.4,361.4 1046.7,360.6 1047.0,357.6 1047.4,356.8 1047.7,357.5 1048.0,354.9 1048.3,356.5 1048.6,356.9 1048.9,350.2 1049.2,349.4 1049.5,354.9 1049.8,355.4 1050.2,356.6 1050.5,355.8 1050.8,350.2 1051.1,352.5 1051.4,354.8 1051.7,350.8 1052.0,350.9 1052.3,352.5 1052.6,353.5 1053.0,355.8 1053.3,354.5 1053.6,348.1 1053.9,347.4 1054.2,353.5 1054.5,352.6 1054.8,317.6 1055.1,349.4 1055.4,349.4 1055.7,349.4 1056.1,349.4 1056.4,349.4 1056.7,349.4 1057.0,349.4 1057.3,349.4 1057.6,349.4 1057.9,349.4 1058.2,349.4 1058.5,349.4 1058.9,349.4 1059.2,349.4 1059.5,349.4 1059.8,349.4 1060.1,349.4 1060.4,349.4 1060.7,349.4 1061.0,349.4 1061.3,349.4 1061.7,349.4 1062.0,349.4 1062.3,349.4 1062.6,349.4 1062.9,349.4 1063.2,349.4 1063.5,349.4 1063.8,349.4 1064.1,349.4 1064.5,349.4 1064.8,349.4 1065.1,349.4 1065.4,349.4 1065.7,349.4 1066.0,349.4 1066.3,349.4 1066.6,311.9 1066.9,355.3 1067.3,358.5 1067.6,357.7 1067.9,355.9 1068.2,358.8 1068.5,355.5 1068.8,355.9 1069.1,358.5 1069.4,358.7 1069.7,356.1 1070.0,353.7 1070.4,352.7 1070.7,356.5 1071.0,359.2 1071.3,360.2 1071.6,357.7 1071.9,360.6 1072.2,358.6 1072.5,355.6 1072.8,359.9 1073.2,357.8 1073.5,354.5 1073.8,354.1 1074.1,354.2 1074.4,354.5 1074.7,354.3 1075.0,351.8 1075.3,355.2 1075.6,355.1 1076.0,354.7 1076.3,357.3 1076.6,360.9 1076.9,361.3 1077.2,358.6 1077.5,360.6 1077.8,361.1 1078.1,356.9 1078.4,358.0 1078.8,363.4 1079.1,364.4 1079.4,357.9 1079.7,360.2 1080.0,361.9 1080.3,366.1 1080.6,364.9 1080.9,361.5 1081.2,361.0 1081.6,364.5 1081.9,364.7 1082.2,361.2 1082.5,360.9 1082.8,361.5 1083.1,364.3 1083.4,357.5 1083.7,358.1 1084.0,365.0 1084.4,364.1 1084.7,365.6 1085.0,362.4 1085.3,356.1 1085.6,360.7 1085.9,368.6 1086.2,364.5 1086.5,358.4 1086.8,359.5 1087.2,359.3 1087.5,363.3 1087.8,366.5 1088.1,368.0 1088.4,371.5 1088.7,366.8 1089.0,365.3 1089.3,362.2 1089.6,360.1 1089.9,366.4 1090.3,364.7 1090.6,359.5 1090.9,360.2 1091.2,366.0 1091.5,366.2 1091.8,360.1 1092.1,361.7 1092.4,366.0 1092.7,363.1 1093.1,360.5 1093.4,364.9 1093.7,366.3 1094.0,366.4 1094.3,364.5 1094.6,363.1 1094.9,361.8 1095.2,360.6 1095.5,366.8 1095.9,368.6 1096.2,363.0 1096.5,362.7 1096.8,362.0 1097.1,365.0 1097.4,369.2 1097.7,365.8 1098.0,366.0 1098.3,373.2 1098.7,368.2 1099.0,365.4 1099.3,369.3 1099.6,371.5 1099.9,373.2 1100.2,373.3 1100.5,371.6 1100.8,368.6 1101.1,372.3 1101.5,371.3 1101.8,369.1 1102.1,372.8 1102.4,368.2 1102.7,366.6 1103.0,371.8 1103.3,367.1 1103.6,365.4 1103.9,369.8 1104.2,368.7 1104.6,366.3 1104.9,368.2 1105.2,369.5 1105.5,369.7 1105.8,369.3 1106.1,369.9 1106.4,373.7 1106.7,367.6 1107.0,365.2 1107.4,368.9 1107.7,363.4 1108.0,362.4 1108.3,369.7 1108.6,369.1 1108.9,369.7 1109.2,369.4 1109.5,363.8 1109.8,367.8 1110.2,371.3 1110.5,370.5 1110.8,369.5 1111.1,372.2 1111.4,370.9 1111.7,373.1 1112.0,374.8 1112.3,370.4 1112.6,369.9 1113.0,368.1 1113.3,369.9 1113.6,369.0 1113.9,366.7 1114.2,369.5 1114.5,371.8 1114.8,372.3 1115.1,368.7 1115.4,367.6 1115.8,368.7 1116.1,364.3 1116.4,362.3 1116.7,360.1 1117.0,362.5 1117.3,368.6 1117.6,366.2 1117.9,362.9 1118.2,362.8 1118.6,363.5 1118.9,362.6 1119.2,360.4 1119.5,361.7 1119.8,362.1 1120.1,362.3 1120.4,362.8 1120.7,363.1 1121.0,361.9 1121.3,363.4 1121.7,363.0 1122.0,361.7 1122.3,364.0 1122.6,364.2 1122.9,367.5 1123.2,363.0 1123.5,363.3 1123.8,370.3 1124.1,370.7 1124.5,367.2 1124.8,361.0 1125.1,358.8 1125.4,361.9 1125.7,364.1 1126.0,364.9 1126.3,361.2 1126.6,358.0 1126.9,361.3 1127.3,364.4 1127.6,362.1 1127.9,366.1 1128.2,366.8 1128.5,365.1 1128.8,370.8 1129.1,368.8 1129.4,361.7 1129.7,364.8 1130.1,369.2 1130.4,364.6 1130.7,361.3 1131.0,361.0 1131.3,359.3 1131.6,361.4 1131.9,361.7 1132.2,360.9 1132.5,361.6 1132.9,360.2 1133.2,359.8 1133.5,355.3 1133.8,354.8 1134.1,354.8 1134.4,352.9 1134.7,348.3 1135.0,343.4 1135.3,334.7 1135.7,316.4 1136.0,288.9 1136.3,250.4 1136.6,204.6 1136.9,158.5 1137.2,125.5 1137.5,111.2 1137.8,104.8 1138.1,89.8 1138.5,97.5 1138.8,109.7 1139.1,122.7 1139.4,144.3 1139.7,176.9 1140.0,222.9 1140.3,266.1 1140.6,302.8 1140.9,328.3 1141.2,343.0 1141.6,348.7 1141.9,353.2 1142.2,361.5 1142.5,362.1 1142.8,361.1 1143.1,367.2 1143.4,371.3 1143.7,373.0 1144.0,373.4 1144.4,372.3 1144.7,374.0 1145.0,375.9 1145.3,376.6 1145.6,377.0 1145.9,375.5 1146.2,371.5 1146.5,377.9 1146.8,382.3 1147.2,378.8 1147.5,378.6 1147.8,380.4 1148.1,382.3 1148.4,383.0 1148.7,381.3 1149.0,378.9 1149.3,381.5 1149.6,380.5 1150.0,381.7 1150.3,385.8 1150.6,383.8 1150.9,379.7 1151.2,381.2 1151.5,379.7 1151.8,376.7 1152.1,381.0 1152.4,385.7 1152.8,379.2 1153.1,374.3 1153.4,380.2 1153.7,385.9 1154.0,386.4 1154.3,384.9 1154.6,387.3 1154.9,386.8 1155.2,386.7 1155.5,389.4 1155.9,384.9 1156.2,384.0 1156.5,386.6 1156.8,384.1 1157.1,383.2 1157.4,386.3 1157.7,388.3 1158.0,389.0 1158.3,385.9 1158.7,382.8 1159.0,388.6 1159.3,390.0 1159.6,386.6 1159.9,385.0 1160.2,382.0 1160.5,379.8 1160.8,385.4 1161.1,388.6 1161.5,390.2 1161.8,389.9 1162.1,387.0 1162.4,380.1 1162.7,380.4 1163.0,391.3 1163.3,392.4 1163.6,387.0 1163.9,388.0 1164.3,390.4 1164.6,387.4 1164.9,384.7 1165.2,385.2 1165.5,387.6 1165.8,384.8 1166.1,383.7 1166.4,386.4 1166.7,388.3 1167.1,388.1 1167.4,383.6 1167.7,384.7 1168.0,386.2 1168.3,381.1 1168.6,381.3 1168.9,382.8 1169.2,384.6 1169.5,382.0 1169.9,377.2 1170.2,379.6 1170.5,385.6 1170.8,388.6 1171.1,381.4 1171.4,374.5 1171.7,375.3 1172.0,376.1 1172.3,377.6 1172.7,379.9 1173.0,378.7 1173.3,377.7 1173.6,380.2 1173.9,379.1 1174.2,373.4 1174.5,377.9 1174.8,384.0 1175.1,380.9 1175.4,380.2 1175.8,386.3 1176.1,383.2 1176.4,377.6 1176.7,381.3 1177.0,376.6 1177.3,375.7 1177.6,382.7 1177.9,382.6 1178.2,383.6 1178.6,385.4 1178.9,382.5 1179.2,382.2 1179.5,383.9 1179.8,379.9 1180.1,377.2 1180.4,378.3 1180.7,380.4 1181.0,381.1 1181.4,379.3 1181.7,381.1 1182.0,381.0 1182.3,382.6 1182.6,387.5 1182.9,388.0 1183.2,388.9 1183.5,384.1 1183.8,380.2 1184.2,383.0 1184.5,385.7 1184.8,384.6 1185.1,387.1 1185.4,388.9 1185.7,387.6 1186.0,388.8 1186.3,389.2 1186.6,385.8 1187.0,387.8 1187.3,390.8 1187.6,392.9 1187.9,386.9 1188.2,387.1 1188.5,388.2 1188.8,384.0 1189.1,388.1 1189.4,391.2 1189.8,388.3 1190.1,380.7 1190.4,384.8 1190.7,389.0 1191.0,384.8 1191.3,384.6 1191.6,383.0 1191.9,385.1 1192.2,388.5 1192.5,390.6 1192.9,387.7 1193.2,387.1 1193.5,396.9 1193.8,396.3 1194.1,390.9 1194.4,386.5 1194.7,387.0 1195.0,392.0 1195.3,390.0 1195.7,386.9 1196.0,388.3 1196.3,389.7 1196.6,387.4 1196.9,390.3 1197.2,391.3 1197.5,391.5 1197.8,394.4 1198.1,391.1 1198.5,392.4 1198.8,392.9 1199.1,388.2 1199.4,391.5 1199.7,395.9 1200.0,396.5 1200.3,393.7 1200.6,390.5 1200.9,391.5 1201.3,391.5 1201.6,394.0 1201.9,395.9 1202.2,398.0 1202.5,396.7 1202.8,392.8 1203.1,395.3 1203.4,393.9 1203.7,391.9 1204.1,400.2 1204.4,401.0 1204.7,396.9 1205.0,395.0 1205.3,386.4 1205.6,389.5 1205.9,395.0 1206.2,394.6 1206.5,393.8 1206.8,392.1 1207.2,389.8 1207.5,394.2 1207.8,392.8 1208.1,392.1 1208.4,395.0 1208.7,390.0 1209.0,388.4 1209.3,392.4 1209.6,395.1 1210.0,394.0 1210.3,392.1 1210.6,388.7 1210.9,392.0 1211.2,393.7 1211.5,388.9 1211.8,388.1 1212.1,387.8 1212.4,385.6 1212.8,384.9 1213.1,385.8 1213.4,384.8 1213.7,382.1 1214.0,387.0 1214.3,388.0 1214.6,384.5 1214.9,388.0 1215.2,388.9 1215.6,392.6 1215.9,391.3 1216.2,388.7 1216.5,386.2 1216.8,387.5" stroke="#ff7f0e" stroke-width="2.08"/>
</g>
<rect x="890.5" y="32.5" width="342.0" height="385.0" fill="none" stroke="#000" stroke-width="1.11"/>
<line x1="928.3" x2="928.3" y1="417.5" y2="422.36" stroke="#000" stroke-width="1.11"/>
<text x="927.0" y="437.8" font-size="14.30" text-anchor="middle" textLength="19.6" lengthAdjust="spacingAndGlyphs">−6</text>
<line x1="972.7" x2="972.7" y1="417.5" y2="422.36" stroke="#000" stroke-width="1.11"/>
<text x="971.4" y="437.8" font-size="14.30" text-anchor="middle" textLength="19.6" lengthAdjust="spacingAndGlyphs">−4</text>
<line x1="1017.1" x2="1017.1" y1="417.5" y2="422.36" stroke="#000" stroke-width="1.11"/>
<text x="1015.8" y="437.8" font-size="14.30" text-anchor="middle" textLength="19.6" lengthAdjust="spacingAndGlyphs">−2</text>
<line x1="1061.5" x2="1061.5" y1="417.5" y2="422.36" stroke="#000" stroke-width="1.11"/>
<text x="1061.5" y="437.8" font-size="14.30" text-anchor="middle">0</text>
<line x1="1105.9" x2="1105.9" y1="417.5" y2="422.36" stroke="#000" stroke-width="1.11"/>
<text x="1105.9" y="437.8" font-size="14.30" text-anchor="middle">2</text>
<line x1="1150.3" x2="1150.3" y1="417.5" y2="422.36" stroke="#000" stroke-width="1.11"/>
<text x="1150.3" y="437.8" font-size="14.30" text-anchor="middle">4</text>
<line x1="1194.7" x2="1194.7" y1="417.5" y2="422.36" stroke="#000" stroke-width="1.11"/>
<text x="1194.7" y="437.8" font-size="14.30" text-anchor="middle">6</text>
<line x1="885.64" x2="890.5" y1="401.5" y2="401.5" stroke="#000" stroke-width="1.11"/>
<text x="879.9" y="406.4" font-size="14.30" text-anchor="end" textLength="16.3" lengthAdjust="spacingAndGlyphs">50</text>
<line x1="885.64" x2="890.5" y1="333.6" y2="333.6" stroke="#000" stroke-width="1.11"/>
<text x="879.9" y="338.5" font-size="14.30" text-anchor="end" textLength="25.1" lengthAdjust="spacingAndGlyphs">100</text>
<line x1="885.64" x2="890.5" y1="265.7" y2="265.7" stroke="#000" stroke-width="1.11"/>
<text x="879.9" y="270.6" font-size="14.30" text-anchor="end" textLength="25.1" lengthAdjust="spacingAndGlyphs">150</text>
<line x1="885.64" x2="890.5" y1="197.8" y2="197.8" stroke="#000" stroke-width="1.11"/>
<text x="879.9" y="202.7" font-size="14.30" text-anchor="end" textLength="25.1" lengthAdjust="spacingAndGlyphs">200</text>
<line x1="885.64" x2="890.5" y1="129.9" y2="129.9" stroke="#000" stroke-width="1.11"/>
<text x="879.9" y="134.8" font-size="14.30" text-anchor="end" textLength="25.1" lengthAdjust="spacingAndGlyphs">250</text>
<line x1="885.64" x2="890.5" y1="62.0" y2="62.0" stroke="#000" stroke-width="1.11"/>
<text x="879.9" y="66.9" font-size="14.30" text-anchor="end" textLength="25.1" lengthAdjust="spacingAndGlyphs">300</text>
<text x="1059.9" y="23.7" font-size="17.20" text-anchor="middle" textLength="226.4" lengthAdjust="spacingAndGlyphs">Pixel-splitting=full, masked</text>
<g transform="translate(965.0,460.5)">
<text x="-0.8" y="0.0" font-size="14.30" text-anchor="start" textLength="120.2" lengthAdjust="spacingAndGlyphs">Scattering vector</text>
<text x="123.6" y="0.0" font-size="14.60" text-anchor="start" font-style="italic">q</text>
<text x="130.9" y="2.7" font-size="10.60" text-anchor="start" textLength="10.6" lengthAdjust="spacingAndGlyphs" font-style="italic">IP</text>
<text x="146.3" y="0.0" font-size="14.30" text-anchor="start">(</text>
<text x="151.1" y="0.0" font-size="14.60" text-anchor="start" textLength="21.0" lengthAdjust="spacingAndGlyphs" font-style="italic">nm</text>
<text x="174.4" y="-5.2" font-size="10.40" text-anchor="start" textLength="13.0" lengthAdjust="spacingAndGlyphs">−1</text>
<text x="189.1" y="0.0" font-size="14.30" text-anchor="start">)</text>
</g>
<g transform="translate(846,227.1) rotate(-90)">
<text x="-29.0" y="0.0" font-size="14.30" text-anchor="start" textLength="58.0" lengthAdjust="spacingAndGlyphs">Intensity</text>
</g>
<rect x="1089.3" y="39.2" width="136.1" height="46.3" rx="2.8" fill="#fff" fill-opacity="0.8" stroke="#ccc" stroke-width="1.11"/>
<line x1="1093.6" x2="1123.4" y1="51.2" y2="51.2" stroke="#1f77b4" stroke-width="2.08"/>
<line x1="1093.6" x2="1123.4" y1="71.9" y2="71.9" stroke="#ff7f0e" stroke-width="2.08"/>
<text x="1134.3" y="56.0" font-size="14.30" text-anchor="start" textLength="52.6" lengthAdjust="spacingAndGlyphs">masked</text>
<text x="1134.3" y="76.7" font-size="14.30" text-anchor="start" textLength="83.6" lengthAdjust="spacingAndGlyphs">non-masked</text>
</svg>
</body></html>
